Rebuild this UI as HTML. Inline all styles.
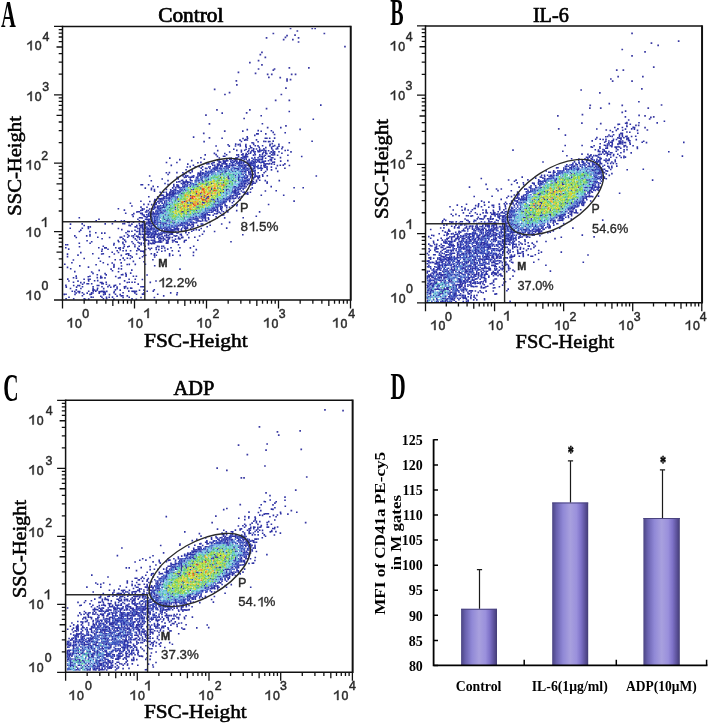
<!DOCTYPE html>
<html><head><meta charset="utf-8"><title>figure</title><style>
html,body{margin:0;padding:0;background:#fff;width:709px;height:724px;overflow:hidden}
svg{display:block}
</style></head><body>
<svg width="709" height="724" viewBox="0 0 709 724">
<rect width="709" height="724" fill="#fff"/>
<g opacity="0.999">
<text transform="translate(0.89,26.80) scale(0.537,1)" font-size="38.333333333333336" style="font-family:&quot;Liberation Serif&quot;,serif;font-weight:bold" fill="#000">A</text>
<text transform="translate(390.30,25.42) scale(0.541,1)" font-size="36.96969696969697" style="font-family:&quot;Liberation Serif&quot;,serif;font-weight:bold" fill="#000">B</text>
<text transform="translate(3.24,401.31) scale(0.542,1)" font-size="39.10447761194028" style="font-family:&quot;Liberation Serif&quot;,serif;font-weight:bold" fill="#000">C</text>
<text transform="translate(390.38,398.60) scale(0.552,1)" font-size="38.167938931297705" style="font-family:&quot;Liberation Serif&quot;,serif;font-weight:bold" fill="#000">D</text>
<defs><filter id="soft" x="0" y="0" width="1" height="1"><feGaussianBlur stdDeviation="0.35"/></filter></defs>
<g id="clouds" filter="url(#soft)">
<path d="M320.0 105.1h1.6M288.5 111.5h1.6M221.4 113.1h1.6M260.4 115.8h1.6M312.5 119.2h1.6M261.6 123.7h1.6M280.0 127.6h1.6M246.5 129.6h1.6M299.3 129.4h1.6M242.0 131.1h1.6M257.4 130.6h1.6M260.4 131.2h1.6M270.6 130.8h1.6M272.4 132.4h1.6M284.4 132.7h1.6M256.0 133.9h1.6M257.3 133.9h1.6M265.0 133.9h1.6M254.0 135.4h1.6M192.8 137.1h1.6M246.4 136.9h1.6M221.3 138.2h1.6M242.2 138.5h1.6M246.8 138.2h1.6M264.5 138.2h1.6M266.1 138.2h1.6M268.9 138.2h1.6M239.2 140.1h1.6M243.9 140.1h1.6M245.0 139.6h1.6M246.5 140.0h1.6M255.7 139.9h1.6M203.3 141.6h1.6M240.6 141.5h1.6M257.3 141.7h1.6M263.1 141.4h1.6M264.9 141.5h1.6M267.8 141.6h1.6M269.1 141.5h1.6M272.4 141.1h1.6M311.3 141.3h1.6M251.3 142.8h1.6M288.5 142.8h1.6M227.3 144.7h1.6M234.9 144.1h1.6M237.4 144.6h1.6M239.2 144.2h1.6M245.1 144.5h1.6M252.9 144.4h1.6M269.3 144.4h1.6M278.1 144.4h1.6M215.3 146.0h1.6M228.5 146.1h1.6M234.7 146.0h1.6M239.5 145.9h1.6M245.0 146.1h1.6M249.4 146.0h1.6M254.5 145.7h1.6M257.2 145.9h1.6M261.8 145.7h1.6M269.1 145.6h1.6M272.3 146.2h1.6M273.9 145.6h1.6M278.2 146.2h1.6M245.4 147.2h1.6M249.9 147.6h1.6M250.9 147.7h1.6M258.4 147.2h1.6M265.0 147.6h1.6M270.8 147.4h1.6M276.7 147.4h1.6M233.0 149.2h1.6M245.3 149.2h1.6M252.9 148.7h1.6M255.7 149.0h1.6M258.9 149.0h1.6M263.1 148.8h1.6M271.0 148.7h1.6M275.4 149.0h1.6M276.9 148.6h1.6M281.1 148.8h1.6M216.9 150.6h1.6M236.0 150.4h1.6M240.6 150.4h1.6M243.9 150.2h1.6M247.9 150.6h1.6M251.1 150.6h1.6M252.7 150.2h1.6M257.1 150.7h1.6M259.0 150.5h1.6M263.3 150.3h1.6M265.0 150.5h1.6M267.8 150.7h1.6M272.2 150.4h1.6M284.4 150.5h1.6M287.1 150.2h1.6M228.9 152.0h1.6M240.6 151.9h1.6M246.9 151.7h1.6M250.0 152.1h1.6M254.3 151.7h1.6M257.5 151.8h1.6M263.0 152.1h1.6M265.0 151.9h1.6M270.4 151.9h1.6M273.8 151.9h1.6M290.2 151.9h1.6M213.6 153.4h1.6M245.4 153.6h1.6M247.9 153.5h1.6M262.0 153.2h1.6M265.0 153.1h1.6M266.0 153.6h1.6M272.2 153.3h1.6M281.1 153.2h1.6M204.4 154.9h1.6M215.3 154.6h1.6M225.8 154.8h1.6M236.1 154.9h1.6M240.9 154.8h1.6M242.1 154.9h1.6M244.9 155.1h1.6M246.6 154.7h1.6M252.7 155.1h1.6M254.5 154.7h1.6M261.6 154.6h1.6M264.5 155.2h1.6M270.8 154.7h1.6M272.2 155.0h1.6M273.8 154.8h1.6M276.8 155.2h1.6M287.1 155.2h1.6M216.6 156.4h1.6M222.7 156.2h1.6M224.0 156.2h1.6M237.8 156.6h1.6M243.8 156.5h1.6M245.4 156.6h1.6M258.7 156.5h1.6M263.3 156.3h1.6M267.7 156.3h1.6M269.2 156.4h1.6M300.9 156.5h1.6M169.0 158.1h1.6M200.1 157.8h1.6M218.5 158.0h1.6M228.6 158.2h1.6M236.2 157.7h1.6M240.5 157.8h1.6M243.4 158.0h1.6M245.1 157.7h1.6M254.0 157.6h1.6M261.9 157.7h1.6M264.8 158.2h1.6M270.6 157.8h1.6M272.0 157.8h1.6M279.7 157.6h1.6M179.0 159.6h1.6M203.5 159.3h1.6M226.0 159.2h1.6M229.0 159.2h1.6M230.5 159.2h1.6M235.0 159.5h1.6M236.2 159.5h1.6M239.3 159.6h1.6M245.4 159.4h1.6M248.4 159.6h1.6M254.3 159.6h1.6M260.2 159.4h1.6M261.6 159.2h1.6M269.4 159.6h1.6M270.7 159.6h1.6M190.9 160.6h1.6M216.8 160.7h1.6M218.5 161.0h1.6M222.5 160.9h1.6M224.1 161.1h1.6M225.7 160.9h1.6M226.9 160.7h1.6M229.9 161.1h1.6M233.3 161.2h1.6M234.7 161.0h1.6M236.2 161.2h1.6M239.0 161.1h1.6M240.7 161.0h1.6M246.8 161.0h1.6M252.7 161.2h1.6M257.0 160.9h1.6M258.6 161.0h1.6M264.6 161.1h1.6M270.5 160.8h1.6M279.9 161.1h1.6M287.0 160.6h1.6M165.7 162.5h1.6M176.1 162.5h1.6M197.1 162.7h1.6M200.1 162.4h1.6M212.3 162.7h1.6M213.4 162.5h1.6M218.3 162.3h1.6M219.9 162.1h1.6M222.8 162.6h1.6M224.4 162.5h1.6M236.0 162.3h1.6M239.0 162.7h1.6M245.3 162.3h1.6M248.2 162.4h1.6M251.0 162.2h1.6M254.0 162.2h1.6M255.8 162.3h1.6M258.5 162.2h1.6M263.0 162.3h1.6M271.9 162.2h1.6M273.6 162.1h1.6M187.0 164.1h1.6M206.2 163.9h1.6M208.0 163.8h1.6M210.9 163.6h1.6M216.7 164.0h1.6M218.3 164.1h1.6M221.3 163.8h1.6M224.3 164.0h1.6M225.9 163.7h1.6M236.3 163.7h1.6M240.6 163.8h1.6M248.1 163.9h1.6M249.7 163.9h1.6M251.3 163.7h1.6M254.2 163.9h1.6M263.2 163.6h1.6M264.6 164.1h1.6M266.2 163.7h1.6M267.8 164.0h1.6M268.9 163.6h1.6M270.9 163.9h1.6M273.5 164.2h1.6M284.1 163.9h1.6M170.5 165.4h1.6M192.6 165.3h1.6M212.0 165.2h1.6M213.9 165.2h1.6M216.7 165.4h1.6M219.8 165.3h1.6M221.2 165.5h1.6M225.7 165.3h1.6M230.4 165.4h1.6M231.7 165.4h1.6M233.1 165.1h1.6M237.9 165.3h1.6M242.1 165.4h1.6M244.0 165.1h1.6M246.6 165.2h1.6M248.2 165.2h1.6M250.0 165.3h1.6M260.4 165.5h1.6M263.1 165.6h1.6M264.7 165.2h1.6M276.6 165.6h1.6M279.5 165.2h1.6M282.5 165.1h1.6M288.6 165.5h1.6M186.5 167.0h1.6M189.4 166.6h1.6M194.4 166.7h1.6M201.8 166.7h1.6M209.4 166.8h1.6M213.9 167.0h1.6M215.4 167.1h1.6M220.0 166.8h1.6M224.1 166.7h1.6M225.5 166.9h1.6M228.6 167.1h1.6M240.9 166.7h1.6M243.9 167.0h1.6M245.0 166.9h1.6M252.9 166.8h1.6M254.2 166.8h1.6M260.1 167.2h1.6M263.5 167.0h1.6M266.2 166.7h1.6M200.4 168.1h1.6M204.8 168.4h1.6M209.0 168.5h1.6M212.4 168.3h1.6M218.5 168.2h1.6M227.2 168.1h1.6M234.9 168.2h1.6M236.4 168.7h1.6M242.3 168.1h1.6M243.7 168.4h1.6M246.4 168.3h1.6M249.8 168.6h1.6M250.9 168.2h1.6M253.9 168.1h1.6M266.2 168.3h1.6M284.1 168.2h1.6M185.3 169.8h1.6M191.3 170.1h1.6M213.9 169.8h1.6M215.1 170.0h1.6M216.6 170.0h1.6M219.6 170.0h1.6M221.1 170.1h1.6M224.2 170.0h1.6M230.5 169.9h1.6M237.8 169.9h1.6M246.7 170.1h1.6M252.8 170.0h1.6M260.5 170.1h1.6M266.4 169.7h1.6M270.7 169.9h1.6M188.1 171.6h1.6M191.4 171.6h1.6M212.0 171.7h1.6M224.4 171.5h1.6M226.0 171.2h1.6M231.4 171.4h1.6M234.8 171.6h1.6M242.0 171.6h1.6M243.9 171.5h1.6M244.9 171.2h1.6M248.0 171.5h1.6M251.3 171.7h1.6M254.1 171.4h1.6M264.8 171.5h1.6M276.9 171.4h1.6M165.6 172.7h1.6M168.6 172.6h1.6M176.1 172.6h1.6M182.1 172.7h1.6M185.4 172.9h1.6M189.6 172.9h1.6M197.4 173.1h1.6M198.9 173.2h1.6M200.1 172.7h1.6M203.0 173.1h1.6M221.4 172.7h1.6M224.3 172.9h1.6M248.0 173.0h1.6M249.4 172.7h1.6M254.2 172.8h1.6M263.3 172.8h1.6M167.3 174.5h1.6M183.5 174.4h1.6M198.8 174.2h1.6M199.9 174.4h1.6M207.8 174.4h1.6M219.8 174.6h1.6M233.1 174.3h1.6M242.3 174.2h1.6M245.0 174.5h1.6M249.8 174.1h1.6M251.2 174.3h1.6M252.5 174.3h1.6M254.4 174.2h1.6M261.8 174.7h1.6M148.9 176.0h1.6M182.2 175.9h1.6M185.0 175.6h1.6M186.9 175.9h1.6M197.2 176.1h1.6M199.0 175.7h1.6M200.2 175.8h1.6M204.7 175.8h1.6M206.4 176.1h1.6M207.5 176.0h1.6M227.4 176.1h1.6M234.7 175.7h1.6M246.9 176.0h1.6M249.7 176.0h1.6M258.6 175.9h1.6M262.0 176.2h1.6M266.5 175.7h1.6M315.5 176.0h1.6M176.3 177.4h1.6M183.6 177.4h1.6M185.3 177.1h1.6M189.6 177.2h1.6M192.6 177.3h1.6M200.1 177.5h1.6M219.9 177.7h1.6M227.3 177.3h1.6M237.4 177.4h1.6M246.5 177.3h1.6M249.9 177.6h1.6M257.1 177.5h1.6M258.7 177.5h1.6M161.4 179.0h1.6M189.5 179.1h1.6M200.3 179.1h1.6M207.6 179.1h1.6M227.5 178.8h1.6M228.7 178.7h1.6M237.8 178.9h1.6M244.0 178.7h1.6M245.0 178.6h1.6M252.7 178.9h1.6M257.4 178.6h1.6M150.5 180.7h1.6M167.2 180.6h1.6M185.5 180.2h1.6M189.8 180.3h1.6M191.2 180.7h1.6M197.4 180.4h1.6M201.5 180.2h1.6M206.1 180.2h1.6M218.2 180.3h1.6M231.9 180.3h1.6M237.8 180.5h1.6M242.1 180.7h1.6M246.5 180.5h1.6M248.1 180.5h1.6M251.2 180.7h1.6M255.7 180.2h1.6M258.9 180.3h1.6M264.5 180.6h1.6M278.5 180.6h1.6M176.0 182.1h1.6M178.0 181.8h1.6M179.1 181.6h1.6M182.5 181.7h1.6M185.1 181.9h1.6M186.4 181.9h1.6M195.4 182.0h1.6M198.5 182.2h1.6M201.7 182.0h1.6M203.0 181.7h1.6M222.8 182.2h1.6M234.5 181.9h1.6M251.0 182.1h1.6M252.6 181.6h1.6M255.7 181.7h1.6M266.4 182.1h1.6M164.2 183.5h1.6M182.3 183.1h1.6M183.8 183.2h1.6M186.8 183.2h1.6M189.9 183.2h1.6M206.2 183.6h1.6M210.8 183.3h1.6M228.9 183.2h1.6M240.6 183.1h1.6M243.8 183.5h1.6M245.0 183.4h1.6M247.9 183.4h1.6M249.5 183.4h1.6M251.5 183.6h1.6M254.3 183.3h1.6M266.3 183.1h1.6M140.3 184.8h1.6M141.7 184.8h1.6M147.8 184.7h1.6M167.3 184.6h1.6M173.0 184.6h1.6M176.2 184.9h1.6M186.5 185.1h1.6M194.4 184.6h1.6M195.6 184.7h1.6M205.9 185.1h1.6M218.1 184.6h1.6M221.2 185.0h1.6M237.8 184.8h1.6M243.8 185.0h1.6M246.7 184.6h1.6M251.3 184.7h1.6M152.4 186.4h1.6M157.0 186.7h1.6M173.1 186.4h1.6M176.3 186.4h1.6M177.8 186.6h1.6M182.1 186.2h1.6M183.8 186.3h1.6M189.4 186.6h1.6M197.1 186.4h1.6M225.6 186.5h1.6M233.3 186.5h1.6M234.4 186.7h1.6M239.1 186.2h1.6M240.8 186.4h1.6M245.3 186.6h1.6M270.4 186.6h1.6M144.5 188.1h1.6M150.7 188.2h1.6M171.9 187.9h1.6M174.9 187.6h1.6M179.0 187.6h1.6M200.0 188.1h1.6M210.9 188.1h1.6M217.0 188.0h1.6M237.8 187.7h1.6M243.9 188.0h1.6M251.5 187.9h1.6M293.3 187.8h1.6M302.4 187.8h1.6M150.6 189.6h1.6M153.6 189.6h1.6M165.6 189.4h1.6M169.9 189.7h1.6M173.3 189.6h1.6M183.9 189.5h1.6M191.0 189.7h1.6M192.9 189.5h1.6M210.8 189.6h1.6M222.5 189.5h1.6M225.5 189.5h1.6M227.3 189.3h1.6M234.4 189.6h1.6M153.7 191.1h1.6M170.2 191.2h1.6M179.3 191.2h1.6M180.9 190.7h1.6M185.1 190.6h1.6M189.9 191.2h1.6M209.4 190.9h1.6M225.7 190.8h1.6M228.5 191.0h1.6M231.5 191.1h1.6M233.4 190.6h1.6M234.6 191.1h1.6M240.5 191.0h1.6M264.6 191.0h1.6M275.4 190.7h1.6M159.4 192.3h1.6M165.5 192.2h1.6M169.0 192.2h1.6M169.9 192.5h1.6M171.8 192.6h1.6M172.9 192.4h1.6M179.1 192.3h1.6M219.6 192.5h1.6M222.7 192.1h1.6M233.1 192.4h1.6M234.7 192.2h1.6M237.7 192.4h1.6M243.7 192.1h1.6M246.9 192.5h1.6M249.6 192.2h1.6M166.0 193.8h1.6M167.2 194.2h1.6M168.9 193.8h1.6M170.4 194.2h1.6M171.9 194.1h1.6M173.1 193.8h1.6M174.6 193.9h1.6M178.0 194.0h1.6M180.5 193.8h1.6M182.2 193.6h1.6M195.9 193.9h1.6M199.9 193.9h1.6M216.6 194.0h1.6M225.4 193.9h1.6M235.0 193.8h1.6M238.9 193.9h1.6M243.8 193.9h1.6M245.5 193.7h1.6M247.0 194.1h1.6M161.1 195.1h1.6M162.6 195.3h1.6M165.8 195.3h1.6M167.0 195.2h1.6M168.9 195.2h1.6M173.0 195.3h1.6M189.9 195.5h1.6M203.5 195.4h1.6M210.4 195.2h1.6M230.1 195.4h1.6M234.8 195.5h1.6M260.5 195.3h1.6M282.9 195.3h1.6M148.0 196.8h1.6M156.9 196.8h1.6M162.8 197.0h1.6M164.0 196.7h1.6M165.7 196.7h1.6M168.4 197.1h1.6M170.4 196.9h1.6M174.4 197.0h1.6M176.4 196.8h1.6M200.5 196.7h1.6M203.3 197.2h1.6M206.3 196.9h1.6M207.9 196.9h1.6M228.9 197.1h1.6M230.1 196.7h1.6M231.9 197.0h1.6M236.3 196.8h1.6M238.9 197.1h1.6M158.0 198.6h1.6M159.5 198.7h1.6M160.9 198.5h1.6M162.6 198.4h1.6M168.6 198.5h1.6M176.4 198.2h1.6M190.0 198.3h1.6M206.0 198.5h1.6M216.8 198.7h1.6M222.7 198.6h1.6M233.1 198.6h1.6M234.8 198.1h1.6M237.8 198.4h1.6M154.0 199.6h1.6M155.3 199.9h1.6M159.4 199.9h1.6M161.2 199.6h1.6M174.7 200.1h1.6M204.9 200.1h1.6M210.5 199.7h1.6M212.3 199.9h1.6M213.9 200.0h1.6M217.0 199.7h1.6M227.0 199.8h1.6M228.9 200.1h1.6M140.1 201.3h1.6M149.0 201.5h1.6M153.6 201.2h1.6M158.0 201.2h1.6M164.0 201.4h1.6M178.0 201.3h1.6M184.0 201.5h1.6M209.3 201.4h1.6M214.9 201.6h1.6M224.2 201.2h1.6M228.9 201.4h1.6M232.9 201.3h1.6M293.3 201.1h1.6M129.6 203.2h1.6M153.7 202.8h1.6M155.4 202.8h1.6M158.3 203.1h1.6M163.9 203.0h1.6M171.5 203.0h1.6M180.9 202.8h1.6M186.5 202.9h1.6M189.7 202.9h1.6M191.4 203.1h1.6M197.1 203.1h1.6M201.8 202.6h1.6M203.4 202.9h1.6M213.6 203.1h1.6M222.6 202.9h1.6M231.6 202.8h1.6M143.1 204.4h1.6M147.6 204.4h1.6M150.9 204.6h1.6M153.9 204.4h1.6M155.4 204.2h1.6M162.9 204.2h1.6M165.4 204.3h1.6M168.9 204.5h1.6M215.1 204.5h1.6M217.0 204.7h1.6M221.3 204.1h1.6M224.3 204.2h1.6M233.5 204.7h1.6M236.4 204.5h1.6M267.8 204.5h1.6M131.1 206.0h1.6M153.8 206.1h1.6M156.7 206.1h1.6M159.7 205.6h1.6M162.6 205.8h1.6M165.6 205.9h1.6M186.5 205.9h1.6M188.0 205.9h1.6M219.5 206.0h1.6M224.4 205.7h1.6M226.0 205.8h1.6M231.5 205.8h1.6M236.0 205.7h1.6M140.2 207.1h1.6M146.2 207.2h1.6M154.9 207.5h1.6M156.9 207.7h1.6M161.3 207.7h1.6M162.9 207.1h1.6M164.1 207.1h1.6M169.0 207.4h1.6M174.4 207.1h1.6M179.5 207.4h1.6M197.2 207.5h1.6M219.9 207.6h1.6M225.9 207.6h1.6M117.6 208.7h1.6M141.5 208.9h1.6M143.3 209.0h1.6M148.9 209.0h1.6M150.9 208.8h1.6M152.4 209.1h1.6M159.7 208.6h1.6M167.1 209.2h1.6M174.6 209.2h1.6M186.6 209.2h1.6M206.5 208.7h1.6M212.0 208.8h1.6M219.9 209.1h1.6M220.9 208.9h1.6M123.6 210.1h1.6M140.0 210.5h1.6M141.7 210.3h1.6M147.6 210.6h1.6M155.4 210.5h1.6M159.5 210.5h1.6M195.8 210.3h1.6M209.1 210.1h1.6M214.0 210.3h1.6M214.9 210.6h1.6M220.9 210.7h1.6M225.8 210.4h1.6M235.9 210.6h1.6M136.0 212.0h1.6M137.2 211.8h1.6M138.5 211.7h1.6M144.8 212.0h1.6M145.9 212.0h1.6M149.2 212.1h1.6M152.4 212.1h1.6M159.9 212.2h1.6M161.1 212.0h1.6M164.1 211.8h1.6M180.7 211.9h1.6M182.3 211.9h1.6M186.9 211.6h1.6M188.1 211.8h1.6M203.2 212.1h1.6M211.0 212.1h1.6M216.5 211.8h1.6M222.7 211.8h1.6M227.0 211.9h1.6M258.8 211.9h1.6M124.9 213.3h1.6M133.0 213.6h1.6M139.9 213.4h1.6M141.5 213.4h1.6M147.9 213.2h1.6M150.7 213.4h1.6M152.4 213.5h1.6M153.9 213.3h1.6M161.4 213.2h1.6M194.3 213.6h1.6M197.3 213.1h1.6M201.9 213.3h1.6M206.3 213.2h1.6M213.8 213.7h1.6M216.6 213.5h1.6M219.8 213.3h1.6M131.5 214.8h1.6M141.6 214.8h1.6M143.2 215.1h1.6M149.3 215.0h1.6M152.2 214.8h1.6M155.3 214.7h1.6M164.5 214.9h1.6M167.4 215.1h1.6M193.0 214.8h1.6M203.3 214.7h1.6M204.6 214.8h1.6M206.5 214.7h1.6M207.9 214.8h1.6M212.4 215.2h1.6M221.1 215.1h1.6M222.8 214.9h1.6M143.4 216.3h1.6M144.6 216.7h1.6M146.5 216.6h1.6M150.6 216.3h1.6M195.5 216.1h1.6M200.4 216.3h1.6M202.9 216.1h1.6M204.6 216.4h1.6M255.5 216.2h1.6M78.5 217.8h1.6M138.8 217.8h1.6M140.0 217.8h1.6M141.5 218.0h1.6M150.8 217.8h1.6M162.7 218.0h1.6M167.4 218.1h1.6M183.6 218.0h1.6M192.6 217.9h1.6M197.1 218.2h1.6M207.5 217.9h1.6M216.5 217.9h1.6M223.9 217.9h1.6M242.4 217.8h1.6M98.2 219.3h1.6M137.1 219.3h1.6M146.0 219.5h1.6M147.6 219.4h1.6M148.9 219.3h1.6M164.0 219.2h1.6M166.9 219.6h1.6M188.3 219.4h1.6M189.7 219.3h1.6M194.1 219.5h1.6M197.1 219.5h1.6M201.7 219.4h1.6M204.6 219.1h1.6M207.9 219.4h1.6M95.4 220.9h1.6M114.5 220.9h1.6M120.6 221.0h1.6M138.6 220.8h1.6M147.7 220.7h1.6M149.3 221.2h1.6M153.9 220.9h1.6M155.1 220.9h1.6M165.6 220.8h1.6M167.1 220.9h1.6M171.8 220.8h1.6M197.1 221.0h1.6M198.7 221.0h1.6M200.1 221.2h1.6M201.9 220.8h1.6M204.5 220.8h1.6M205.9 221.0h1.6M126.9 222.1h1.6M128.4 222.4h1.6M132.7 222.3h1.6M141.8 222.3h1.6M143.1 222.7h1.6M146.1 222.2h1.6M147.8 222.3h1.6M149.3 222.5h1.6M152.0 222.4h1.6M153.5 222.5h1.6M159.8 222.4h1.6M173.4 222.5h1.6M180.7 222.7h1.6M183.7 222.2h1.6M195.8 222.6h1.6M208.9 222.4h1.6M228.8 222.4h1.6M69.7 224.1h1.6M81.4 223.9h1.6M104.4 223.9h1.6M111.6 223.8h1.6M122.1 223.7h1.6M123.8 223.6h1.6M131.1 224.1h1.6M138.5 223.6h1.6M143.3 223.9h1.6M144.9 224.1h1.6M146.1 223.6h1.6M149.0 223.7h1.6M150.5 223.7h1.6M159.7 224.2h1.6M162.5 224.0h1.6M164.3 223.8h1.6M165.4 224.0h1.6M168.7 224.2h1.6M176.2 224.0h1.6M179.3 224.2h1.6M182.0 223.7h1.6M186.5 223.9h1.6M188.4 224.1h1.6M191.3 224.1h1.6M192.5 224.0h1.6M200.4 224.0h1.6M83.4 225.5h1.6M128.3 225.4h1.6M138.9 225.6h1.6M140.3 225.2h1.6M141.4 225.5h1.6M143.3 225.6h1.6M144.5 225.2h1.6M149.0 225.6h1.6M154.0 225.6h1.6M162.6 225.4h1.6M177.9 225.7h1.6M189.8 225.4h1.6M192.5 225.2h1.6M197.0 225.5h1.6M201.9 225.5h1.6M209.4 225.3h1.6M87.5 226.9h1.6M89.5 226.9h1.6M134.4 226.9h1.6M135.8 227.0h1.6M140.0 227.0h1.6M141.7 227.1h1.6M150.7 226.7h1.6M164.2 227.2h1.6M176.2 226.9h1.6M186.6 227.0h1.6M192.6 226.8h1.6M206.4 226.8h1.6M69.4 228.3h1.6M81.5 228.3h1.6M87.6 228.5h1.6M117.6 228.5h1.6M137.1 228.5h1.6M139.0 228.4h1.6M141.6 228.1h1.6M144.7 228.5h1.6M149.4 228.5h1.6M150.6 228.2h1.6M152.3 228.4h1.6M162.7 228.2h1.6M165.9 228.6h1.6M170.0 228.5h1.6M174.6 228.7h1.6M176.2 228.4h1.6M177.8 228.5h1.6M183.8 228.5h1.6M185.4 228.2h1.6M186.8 228.3h1.6M189.8 228.6h1.6M200.4 228.5h1.6M225.9 228.1h1.6M80.0 230.1h1.6M121.0 229.6h1.6M134.2 230.2h1.6M138.9 230.1h1.6M141.7 230.0h1.6M143.1 229.6h1.6M146.3 229.7h1.6M152.3 229.7h1.6M155.3 230.0h1.6M161.3 229.6h1.6M164.1 229.7h1.6M165.8 230.0h1.6M167.4 230.0h1.6M170.1 229.8h1.6M171.6 229.9h1.6M173.3 229.9h1.6M176.3 229.7h1.6M177.6 230.1h1.6M180.5 229.9h1.6M185.0 229.9h1.6M192.8 230.1h1.6M195.5 229.6h1.6M198.4 230.1h1.6M78.6 231.5h1.6M89.1 231.6h1.6M127.0 231.4h1.6M128.4 231.5h1.6M131.1 231.3h1.6M135.8 231.5h1.6M137.0 231.5h1.6M146.3 231.5h1.6M147.5 231.3h1.6M149.1 231.2h1.6M153.5 231.5h1.6M155.0 231.4h1.6M161.1 231.2h1.6M162.9 231.6h1.6M164.1 231.1h1.6M167.0 231.3h1.6M168.5 231.2h1.6M170.0 231.4h1.6M171.6 231.4h1.6M173.1 231.5h1.6M181.0 231.2h1.6M185.2 231.6h1.6M191.0 231.2h1.6M203.3 231.4h1.6M213.8 231.5h1.6M95.0 232.7h1.6M104.0 233.1h1.6M125.2 232.8h1.6M145.0 233.2h1.6M152.2 233.1h1.6M155.0 233.0h1.6M164.1 232.9h1.6M168.4 232.7h1.6M170.1 232.7h1.6M171.5 233.0h1.6M177.6 232.7h1.6M188.0 232.8h1.6M89.2 234.5h1.6M126.8 234.5h1.6M134.0 234.2h1.6M139.9 234.4h1.6M141.9 234.3h1.6M143.2 234.6h1.6M146.1 234.1h1.6M147.6 234.6h1.6M151.0 234.3h1.6M154.0 234.5h1.6M155.2 234.4h1.6M156.6 234.3h1.6M158.4 234.3h1.6M159.8 234.7h1.6M161.0 234.4h1.6M165.8 234.6h1.6M170.2 234.1h1.6M171.7 234.1h1.6M179.5 234.5h1.6M180.5 234.2h1.6M186.6 234.7h1.6M201.7 234.2h1.6M242.0 234.7h1.6M74.0 235.9h1.6M85.9 235.9h1.6M89.2 236.0h1.6M123.5 236.0h1.6M128.1 235.9h1.6M131.1 236.0h1.6M132.8 235.7h1.6M135.7 236.1h1.6M137.4 236.2h1.6M143.1 235.8h1.6M147.4 236.0h1.6M150.6 235.6h1.6M152.5 236.1h1.6M153.9 235.9h1.6M165.5 235.7h1.6M174.7 236.1h1.6M176.0 235.7h1.6M180.7 235.8h1.6M198.8 236.0h1.6M75.5 237.5h1.6M97.0 237.3h1.6M108.8 237.5h1.6M119.4 237.4h1.6M120.9 237.2h1.6M126.9 237.2h1.6M132.7 237.5h1.6M137.1 237.5h1.6M141.6 237.4h1.6M143.1 237.2h1.6M146.4 237.2h1.6M149.4 237.1h1.6M150.7 237.6h1.6M152.2 237.3h1.6M153.4 237.5h1.6M158.4 237.5h1.6M162.5 237.4h1.6M165.7 237.5h1.6M167.3 237.5h1.6M169.0 237.4h1.6M171.5 237.5h1.6M177.9 237.3h1.6M180.9 237.7h1.6M182.0 237.4h1.6M188.0 237.6h1.6M194.0 237.2h1.6M101.3 238.7h1.6M122.3 238.9h1.6M138.9 239.1h1.6M143.0 238.7h1.6M144.5 239.0h1.6M153.8 238.7h1.6M159.4 238.7h1.6M161.0 238.7h1.6M162.9 238.8h1.6M167.5 239.2h1.6M168.5 238.8h1.6M174.7 239.1h1.6M177.6 238.8h1.6M179.1 238.9h1.6M86.3 240.7h1.6M117.4 240.6h1.6M123.9 240.1h1.6M135.9 240.2h1.6M143.2 240.1h1.6M144.5 240.4h1.6M146.0 240.1h1.6M147.9 240.5h1.6M150.5 240.2h1.6M152.2 240.3h1.6M153.9 240.5h1.6M159.9 240.5h1.6M162.5 240.5h1.6M165.5 240.5h1.6M167.2 240.2h1.6M171.7 240.3h1.6M173.4 240.6h1.6M183.8 240.5h1.6M185.3 240.2h1.6M197.0 240.2h1.6M90.9 241.7h1.6M118.0 241.7h1.6M122.1 242.2h1.6M124.9 241.6h1.6M131.2 241.8h1.6M137.3 242.2h1.6M148.0 241.7h1.6M152.2 242.1h1.6M155.0 242.1h1.6M158.0 241.9h1.6M159.6 242.1h1.6M160.9 242.0h1.6M166.0 242.2h1.6M167.3 241.7h1.6M171.9 242.0h1.6M175.0 241.8h1.6M176.4 242.1h1.6M183.5 241.9h1.6M230.2 241.7h1.6M78.5 243.3h1.6M89.3 243.2h1.6M113.3 243.5h1.6M132.5 243.5h1.6M140.5 243.1h1.6M147.5 243.5h1.6M149.4 243.2h1.6M150.7 243.6h1.6M152.4 243.4h1.6M153.7 243.5h1.6M165.6 243.3h1.6M167.0 243.3h1.6M65.0 244.8h1.6M66.8 244.7h1.6M113.0 245.0h1.6M123.5 244.7h1.6M134.1 245.0h1.6M140.3 244.8h1.6M147.7 244.8h1.6M177.7 244.7h1.6M78.7 246.7h1.6M102.5 246.3h1.6M127.0 246.7h1.6M128.4 246.3h1.6M134.1 246.7h1.6M138.4 246.3h1.6M144.4 246.2h1.6M158.2 246.6h1.6M161.1 246.2h1.6M192.9 246.3h1.6M65.0 247.7h1.6M98.0 247.8h1.6M104.0 247.9h1.6M105.4 247.9h1.6M115.0 247.8h1.6M118.0 248.2h1.6M119.5 247.7h1.6M122.5 248.1h1.6M137.0 248.2h1.6M147.9 248.2h1.6M150.7 248.2h1.6M161.0 248.2h1.6M163.9 248.0h1.6M170.2 247.7h1.6M179.1 247.8h1.6M189.6 247.9h1.6M67.9 249.1h1.6M101.4 249.4h1.6M107.2 249.3h1.6M119.4 249.6h1.6M138.5 249.6h1.6M149.3 249.4h1.6M155.5 249.4h1.6M158.0 249.6h1.6M166.9 249.1h1.6M195.5 249.6h1.6M101.0 251.2h1.6M116.4 250.8h1.6M122.3 250.8h1.6M125.4 250.6h1.6M129.8 250.8h1.6M136.0 250.7h1.6M140.1 251.1h1.6M141.8 251.2h1.6M143.4 251.1h1.6M161.0 251.2h1.6M164.3 250.6h1.6M171.5 250.7h1.6M177.9 251.1h1.6M80.0 252.6h1.6M111.4 252.2h1.6M117.7 252.5h1.6M143.3 252.6h1.6M156.5 252.2h1.6M192.7 252.4h1.6M66.7 254.1h1.6M92.0 253.8h1.6M100.9 254.0h1.6M102.5 253.7h1.6M113.5 254.0h1.6M125.3 254.2h1.6M126.4 253.7h1.6M127.9 253.8h1.6M135.8 254.0h1.6M150.5 253.8h1.6M153.8 253.7h1.6M168.8 253.9h1.6M77.2 255.1h1.6M120.5 255.4h1.6M127.9 255.2h1.6M129.8 255.7h1.6M143.1 255.5h1.6M144.9 255.3h1.6M153.5 255.1h1.6M155.5 255.2h1.6M168.8 255.6h1.6M172.0 255.2h1.6M179.4 255.4h1.6M192.6 255.5h1.6M66.7 256.6h1.6M108.6 256.7h1.6M131.4 257.1h1.6M141.7 256.8h1.6M153.9 257.0h1.6M83.4 258.5h1.6M97.9 258.3h1.6M122.4 258.1h1.6M126.6 258.3h1.6M129.5 258.5h1.6M138.9 258.2h1.6M72.6 260.0h1.6M114.4 259.7h1.6M119.4 259.8h1.6M123.7 260.0h1.6M152.1 259.8h1.6M99.6 261.3h1.6M132.6 261.4h1.6M143.2 261.7h1.6M71.1 262.7h1.6M102.5 262.7h1.6M111.4 263.0h1.6M120.4 262.9h1.6M64.0 264.2h1.6M95.3 264.7h1.6M107.0 264.5h1.6M113.2 264.6h1.6M126.4 264.5h1.6M128.5 264.4h1.6M134.5 264.4h1.6M144.6 264.2h1.6M79.0 265.9h1.6M113.2 266.1h1.6M120.7 266.0h1.6M153.9 265.7h1.6M66.7 267.4h1.6M87.7 267.1h1.6M113.1 267.3h1.6M69.9 268.7h1.6M110.3 269.1h1.6M120.6 268.9h1.6M179.2 269.1h1.6M98.4 270.4h1.6M131.0 270.1h1.6M74.0 271.6h1.6M90.9 272.0h1.6M117.7 271.7h1.6M92.2 273.4h1.6M124.9 273.4h1.6M129.9 273.1h1.6M96.5 274.8h1.6M105.4 274.9h1.6M120.7 274.7h1.6M122.0 274.6h1.6M125.4 274.7h1.6M146.3 275.0h1.6M75.4 276.1h1.6M87.5 276.7h1.6M89.2 276.3h1.6M100.0 276.2h1.6M114.9 276.5h1.6M125.3 276.3h1.6M132.6 276.3h1.6M135.6 276.3h1.6M72.7 277.7h1.6M75.6 278.1h1.6M96.5 277.6h1.6M99.9 277.9h1.6M101.1 277.6h1.6M104.2 277.9h1.6M117.7 278.0h1.6M119.3 277.6h1.6M67.0 279.1h1.6M83.3 279.2h1.6M87.6 279.4h1.6M89.3 279.3h1.6M128.3 279.3h1.6M134.5 279.3h1.6M141.6 279.5h1.6M68.1 281.0h1.6M77.2 281.1h1.6M87.9 281.0h1.6M93.8 280.8h1.6M96.9 280.6h1.6M123.8 280.9h1.6M155.2 281.0h1.6M72.7 282.2h1.6M80.0 282.6h1.6M83.4 282.6h1.6M99.6 282.5h1.6M101.2 282.5h1.6M105.4 282.2h1.6M126.5 282.5h1.6M128.4 282.2h1.6M131.3 282.3h1.6M134.0 282.2h1.6M149.5 282.4h1.6M81.8 284.2h1.6M86.3 283.7h1.6M87.7 283.8h1.6M90.9 283.8h1.6M101.1 283.6h1.6M102.4 283.6h1.6M105.6 284.2h1.6M119.1 284.0h1.6M137.4 284.1h1.6M65.1 285.4h1.6M72.9 285.5h1.6M77.1 285.5h1.6M78.8 285.6h1.6M96.5 285.5h1.6M98.0 285.5h1.6M108.6 285.4h1.6M113.4 285.6h1.6M114.8 285.2h1.6M65.5 287.1h1.6M75.8 287.1h1.6M92.3 286.8h1.6M101.2 286.8h1.6M107.1 286.6h1.6M110.0 287.2h1.6M113.1 286.8h1.6M116.3 287.1h1.6M123.6 286.8h1.6M125.0 286.6h1.6M140.2 286.7h1.6M141.9 286.7h1.6M143.1 286.7h1.6M69.7 288.5h1.6M80.1 288.5h1.6M92.3 288.6h1.6M96.8 288.3h1.6M102.9 288.6h1.6M116.3 288.7h1.6M123.8 288.2h1.6M129.9 288.1h1.6M130.9 288.2h1.6M75.5 289.9h1.6M92.1 290.2h1.6M93.7 290.0h1.6M96.5 289.9h1.6M114.6 289.9h1.6M119.4 290.1h1.6M138.7 290.2h1.6M143.1 290.1h1.6M153.5 289.7h1.6M74.0 291.6h1.6M77.3 291.6h1.6M78.9 291.5h1.6M87.9 291.3h1.6M92.5 291.3h1.6M95.0 291.1h1.6M98.4 291.7h1.6M99.6 291.6h1.6M101.0 291.4h1.6M102.5 291.3h1.6M104.0 291.5h1.6M128.0 291.1h1.6M131.3 291.2h1.6M132.7 291.4h1.6M133.9 291.4h1.6M135.6 291.4h1.6M146.4 291.3h1.6M152.5 291.1h1.6M75.4 293.0h1.6M78.6 292.8h1.6M81.6 292.7h1.6M86.4 293.1h1.6M90.8 292.7h1.6M98.4 293.1h1.6M102.8 292.7h1.6M104.3 292.9h1.6M113.2 292.8h1.6M122.3 292.7h1.6M134.1 292.9h1.6M169.9 292.9h1.6M176.5 292.8h1.6M65.2 294.2h1.6M83.1 294.2h1.6M89.2 294.4h1.6M90.6 294.2h1.6M104.4 294.3h1.6M108.7 294.6h1.6M114.7 294.2h1.6M119.4 294.6h1.6M135.7 294.2h1.6M141.7 294.1h1.6M143.0 294.2h1.6M156.9 294.3h1.6M176.1 294.6h1.6M81.6 295.8h1.6M100.0 296.2h1.6M120.5 295.9h1.6M122.1 295.7h1.6M126.5 295.9h1.6M162.9 295.9h1.6M68.2 297.3h1.6M92.3 297.2h1.6M108.4 297.3h1.6M111.7 297.1h1.6M122.3 297.5h1.6M128.4 297.2h1.6M140.2 297.5h1.6M153.6 297.5h1.6M65.3 298.8h1.6M72.9 298.8h1.6M83.4 298.7h1.6M84.5 299.2h1.6M87.9 299.1h1.6M102.6 298.8h1.6M105.8 298.8h1.6M113.1 299.1h1.6M131.2 298.9h1.6M135.5 299.2h1.6" stroke="#2e32a4" stroke-width="1.6" fill="none"/>
<path d="M273.8 138.1h1.6M252.6 143.0h1.6M248.3 148.7h1.6M272.4 152.1h1.6M278.2 151.8h1.6M224.0 153.5h1.6M242.2 153.7h1.6M273.7 153.2h1.6M273.9 159.2h1.6M198.4 166.7h1.6M270.6 167.1h1.6M275.3 168.4h1.6M177.4 178.9h1.6M180.8 180.5h1.6M253.0 183.3h1.6M249.9 184.7h1.6M249.9 189.3h1.6M163.0 192.2h1.6M159.9 195.4h1.6M240.9 196.6h1.6M239.1 200.1h1.6M228.8 207.4h1.6M145.9 210.6h1.6M132.4 216.4h1.6M215.3 216.7h1.6M123.5 220.8h1.6M201.8 224.0h1.6M220.9 224.0h1.6M129.6 225.6h1.6M136.0 225.6h1.6M191.2 227.1h1.6M101.0 233.1h1.6M185.0 232.8h1.6M134.5 238.9h1.6M122.2 243.5h1.6M138.6 243.1h1.6M143.0 243.2h1.6M123.5 246.5h1.6M156.7 246.4h1.6M162.8 246.4h1.6M155.4 247.8h1.6M137.5 249.5h1.6M144.9 249.5h1.6M117.9 268.6h1.6M111.7 270.7h1.6M104.3 273.6h1.6M81.7 286.8h1.6M126.8 288.4h1.6M71.5 291.2h1.6M106.0 291.4h1.6M113.5 291.5h1.6M92.2 293.0h1.6M143.1 293.0h1.6M63.4 294.4h1.6M74.2 294.4h1.6M102.8 294.6h1.6M116.3 296.1h1.6M90.4 297.1h1.6M101.2 297.2h1.6M105.7 297.4h1.6" stroke="#2e34a7" stroke-width="1.6" fill="none"/>
<path d="M260.3 150.6h1.6M261.6 150.3h1.6M253.0 151.7h1.6M258.8 151.8h1.6M249.7 153.3h1.6M254.0 153.3h1.6M269.2 153.3h1.6M237.6 154.9h1.6M259.0 154.9h1.6M242.3 156.6h1.6M246.8 156.7h1.6M260.3 156.6h1.6M261.5 156.6h1.6M230.4 158.1h1.6M235.0 158.1h1.6M242.1 158.1h1.6M233.4 159.5h1.6M240.6 159.3h1.6M258.6 159.3h1.6M231.6 160.8h1.6M254.5 161.1h1.6M263.1 161.2h1.6M267.7 160.7h1.6M222.5 163.6h1.6M218.0 165.5h1.6M208.0 167.0h1.6M264.4 167.1h1.6M206.1 168.5h1.6M258.7 168.2h1.6M260.4 168.2h1.6M261.5 168.5h1.6M201.9 169.9h1.6M204.9 171.4h1.6M257.4 172.7h1.6M191.5 176.2h1.6M193.0 175.9h1.6M254.2 175.8h1.6M255.6 176.1h1.6M257.0 176.2h1.6M188.2 177.2h1.6M191.0 177.2h1.6M252.9 177.5h1.6M254.1 177.1h1.6M181.9 180.4h1.6M184.0 182.1h1.6M249.6 181.9h1.6M180.6 183.5h1.6M177.5 185.2h1.6M243.7 186.2h1.6M174.9 189.4h1.6M242.4 189.5h1.6M171.7 190.9h1.6M172.9 191.1h1.6M242.3 192.2h1.6M237.9 194.2h1.6M236.3 195.6h1.6M156.9 201.6h1.6M161.0 201.4h1.6M152.2 207.2h1.6M153.9 207.2h1.6M221.3 207.3h1.6M216.6 208.7h1.6M217.0 210.2h1.6M218.3 212.1h1.6M149.5 213.4h1.6M215.5 213.7h1.6M145.9 214.8h1.6M146.0 217.8h1.6M203.2 217.9h1.6M204.8 217.9h1.6M144.7 219.2h1.6M142.9 220.8h1.6M192.5 222.2h1.6M141.6 224.2h1.6M144.5 227.1h1.6M184.0 227.0h1.6M143.2 228.1h1.6M138.9 231.5h1.6M141.6 231.7h1.6M143.1 231.4h1.6M175.0 231.6h1.6M138.9 233.1h1.6M161.3 233.1h1.6M176.3 233.1h1.6M138.4 234.2h1.6M168.7 234.6h1.6M156.8 236.1h1.6M158.2 235.7h1.6M161.3 236.2h1.6M164.0 235.6h1.6M167.4 235.7h1.6M173.3 235.7h1.6M138.9 237.2h1.6M147.9 237.5h1.6M158.0 238.8h1.6M164.1 239.2h1.6M158.5 240.5h1.6M153.7 241.9h1.6M156.5 242.0h1.6M143.5 245.0h1.6" stroke="#2f38ac" stroke-width="1.6" fill="none"/>
<path d="M257.3 157.8h1.6M243.4 159.7h1.6M252.6 159.3h1.6M255.5 159.7h1.6M248.5 160.7h1.6M251.3 160.9h1.6M261.5 161.1h1.6M230.5 162.4h1.6M231.8 162.7h1.6M233.1 162.3h1.6M237.5 162.6h1.6M240.5 162.1h1.6M242.4 162.1h1.6M260.1 162.6h1.6M261.7 162.2h1.6M228.9 163.9h1.6M231.8 164.2h1.6M252.6 163.9h1.6M254.3 165.2h1.6M257.4 165.6h1.6M216.8 166.8h1.6M221.4 166.7h1.6M248.3 166.8h1.6M256.9 166.9h1.6M213.6 168.4h1.6M215.3 168.2h1.6M216.5 168.2h1.6M210.5 170.1h1.6M251.4 169.9h1.6M254.4 170.2h1.6M199.9 171.2h1.6M205.9 171.5h1.6M209.4 171.6h1.6M249.7 171.1h1.6M252.7 171.3h1.6M201.8 172.8h1.6M206.4 172.9h1.6M197.1 174.6h1.6M201.6 174.2h1.6M251.0 175.6h1.6M248.3 179.1h1.6M188.0 182.1h1.6M189.7 182.2h1.6M245.0 181.7h1.6M246.8 182.0h1.6M182.1 184.8h1.6M184.0 185.0h1.6M185.0 184.6h1.6M242.0 185.1h1.6M242.2 186.3h1.6M177.5 187.7h1.6M239.4 188.2h1.6M240.6 188.0h1.6M237.6 189.2h1.6M239.3 189.2h1.6M174.6 190.6h1.6M237.8 191.0h1.6M174.5 192.6h1.6M236.3 192.6h1.6M236.2 194.2h1.6M232.0 195.7h1.6M233.0 195.4h1.6M164.0 198.4h1.6M165.9 198.1h1.6M231.8 198.4h1.6M162.6 200.0h1.6M159.7 201.6h1.6M161.4 203.1h1.6M219.6 204.4h1.6M158.2 206.1h1.6M215.1 206.0h1.6M221.0 206.2h1.6M215.4 207.3h1.6M216.9 207.3h1.6M153.7 208.7h1.6M150.9 210.6h1.6M155.1 211.7h1.6M212.2 211.6h1.6M155.3 213.6h1.6M147.6 214.7h1.6M208.9 215.1h1.6M147.7 216.2h1.6M149.1 216.3h1.6M155.0 216.3h1.6M195.5 220.6h1.6M191.0 222.5h1.6M147.7 225.5h1.6M180.5 225.3h1.6M182.0 225.4h1.6M183.8 225.6h1.6M186.7 225.2h1.6M188.1 225.3h1.6M146.1 227.0h1.6M149.2 226.8h1.6M185.0 227.1h1.6M146.4 228.4h1.6M147.5 228.2h1.6M180.9 228.5h1.6M147.9 229.7h1.6M149.3 229.7h1.6M150.4 229.6h1.6M145.0 231.3h1.6M146.4 232.7h1.6M147.6 232.9h1.6M149.4 232.8h1.6M151.0 233.0h1.6M153.6 233.0h1.6M159.8 233.0h1.6M165.7 232.7h1.6M167.1 232.8h1.6M144.4 234.3h1.6M149.0 234.2h1.6M152.2 234.4h1.6M149.4 236.2h1.6M156.5 237.2h1.6M159.8 237.4h1.6" stroke="#2f3cb2" stroke-width="1.6" fill="none"/>
<path d="M251.2 158.1h1.6M257.2 159.5h1.6M246.6 162.4h1.6M249.7 162.4h1.6M252.7 162.5h1.6M237.9 163.8h1.6M239.1 163.6h1.6M242.5 163.8h1.6M246.8 163.6h1.6M227.0 165.5h1.6M228.8 165.6h1.6M234.7 165.5h1.6M238.9 165.4h1.6M240.5 165.7h1.6M245.1 165.1h1.6M251.4 165.3h1.6M253.0 165.7h1.6M227.2 166.8h1.6M255.9 166.8h1.6M233.4 168.2h1.6M237.8 168.5h1.6M248.2 168.6h1.6M252.5 168.5h1.6M257.3 168.4h1.6M248.1 169.6h1.6M205.0 173.2h1.6M210.4 172.8h1.6M237.9 174.1h1.6M248.4 174.5h1.6M203.5 176.1h1.6M243.6 176.1h1.6M195.7 177.3h1.6M197.0 177.6h1.6M245.5 177.7h1.6M195.4 179.0h1.6M197.1 178.7h1.6M246.6 179.2h1.6M243.8 180.5h1.6M245.4 180.5h1.6M242.5 181.8h1.6M243.6 181.9h1.6M239.1 183.5h1.6M242.1 183.4h1.6M239.0 185.1h1.6M180.5 187.8h1.6M236.1 187.7h1.6M242.4 188.2h1.6M179.3 189.4h1.6M176.4 190.8h1.6M177.9 191.1h1.6M236.1 190.8h1.6M170.2 195.4h1.6M172.0 195.2h1.6M167.3 198.1h1.6M227.4 198.2h1.6M229.0 198.5h1.6M230.0 198.6h1.6M165.4 200.2h1.6M167.4 200.0h1.6M225.5 199.9h1.6M223.0 201.4h1.6M225.5 201.7h1.6M219.7 202.8h1.6M223.9 202.6h1.6M218.1 205.9h1.6M158.1 207.1h1.6M212.3 207.6h1.6M156.9 208.8h1.6M158.3 208.6h1.6M213.4 208.7h1.6M214.9 209.2h1.6M158.2 210.4h1.6M210.4 210.2h1.6M212.4 210.4h1.6M156.6 211.8h1.6M209.1 212.2h1.6M156.8 213.3h1.6M158.2 213.6h1.6M150.7 214.7h1.6M153.8 216.6h1.6M153.9 218.1h1.6M156.5 217.9h1.6M194.4 218.1h1.6M195.8 218.1h1.6M200.5 218.0h1.6M201.9 217.6h1.6M154.0 219.1h1.6M151.0 220.8h1.6M155.0 222.5h1.6M158.2 222.2h1.6M185.3 222.5h1.6M189.6 222.5h1.6M194.1 222.7h1.6M147.4 223.9h1.6M153.6 223.9h1.6M155.4 224.2h1.6M172.9 223.7h1.6M181.0 223.6h1.6M185.1 223.9h1.6M151.0 225.2h1.6M152.4 225.3h1.6M179.4 225.6h1.6M171.6 227.0h1.6M173.3 227.1h1.6M155.4 228.4h1.6M173.5 228.2h1.6M156.9 230.0h1.6M158.3 230.0h1.6M174.6 229.8h1.6M152.3 231.4h1.6M156.8 231.3h1.6M165.9 231.3h1.6M157.9 233.2h1.6M162.8 232.8h1.6" stroke="#3040b7" stroke-width="1.6" fill="none"/>
<path d="M243.8 162.4h1.6M234.6 163.6h1.6M239.1 166.7h1.6M242.2 166.9h1.6M249.9 166.9h1.6M219.6 168.1h1.6M220.9 168.7h1.6M225.6 168.5h1.6M245.4 168.7h1.6M212.2 169.6h1.6M236.4 170.1h1.6M243.7 169.6h1.6M245.1 170.2h1.6M208.0 171.4h1.6M211.0 171.6h1.6M213.5 171.4h1.6M239.2 171.7h1.6M240.6 171.1h1.6M207.5 172.7h1.6M245.0 172.6h1.6M203.5 174.2h1.6M204.7 174.3h1.6M245.4 175.8h1.6M240.9 177.7h1.6M242.4 177.2h1.6M244.0 177.6h1.6M241.9 179.1h1.6M194.4 180.6h1.6M240.8 181.8h1.6M240.7 184.7h1.6M185.3 186.4h1.6M186.6 186.5h1.6M182.3 187.7h1.6M183.9 187.7h1.6M236.4 189.1h1.6M182.5 190.9h1.6M176.4 192.6h1.6M233.5 193.8h1.6M171.6 196.7h1.6M173.2 196.7h1.6M225.8 198.6h1.6M224.3 199.8h1.6M168.7 201.2h1.6M221.2 202.6h1.6M167.0 204.6h1.6M218.2 204.4h1.6M210.7 209.0h1.6M162.6 210.6h1.6M164.4 210.1h1.6M206.0 212.1h1.6M207.9 212.2h1.6M204.9 213.3h1.6M153.6 214.7h1.6M156.8 214.6h1.6M158.0 214.9h1.6M201.7 214.8h1.6M152.5 216.2h1.6M156.5 216.7h1.6M158.3 216.4h1.6M162.7 216.6h1.6M201.9 216.4h1.6M152.0 218.0h1.6M158.5 217.7h1.6M198.9 217.7h1.6M150.7 219.2h1.6M151.9 219.4h1.6M192.6 219.2h1.6M195.7 219.6h1.6M152.0 221.1h1.6M185.0 220.9h1.6M189.7 221.1h1.6M190.9 221.0h1.6M156.7 222.4h1.6M177.6 222.5h1.6M186.7 222.5h1.6M156.9 224.1h1.6M161.2 224.1h1.6M183.5 223.6h1.6M176.2 225.7h1.6M153.5 226.9h1.6M155.0 227.1h1.6M160.0 226.7h1.6M165.5 227.0h1.6M167.5 226.9h1.6M168.5 226.9h1.6M182.1 227.1h1.6M153.4 228.7h1.6M158.1 228.1h1.6M159.4 228.3h1.6M161.0 228.3h1.6M164.2 228.6h1.6M167.0 228.1h1.6M169.0 228.2h1.6M153.7 229.8h1.6M168.5 230.1h1.6" stroke="#3a52c0" stroke-width="1.6" fill="none"/>
<path d="M231.6 166.9h1.6M233.1 167.2h1.6M237.9 167.0h1.6M223.0 168.3h1.6M223.9 168.5h1.6M230.5 168.6h1.6M239.5 168.1h1.6M218.2 170.2h1.6M227.4 169.9h1.6M233.4 169.8h1.6M240.9 169.7h1.6M242.5 169.9h1.6M217.0 171.3h1.6M218.2 171.3h1.6M228.8 171.6h1.6M208.9 173.1h1.6M212.0 173.0h1.6M219.9 172.7h1.6M240.4 173.1h1.6M206.0 174.2h1.6M210.8 174.2h1.6M215.0 174.7h1.6M241.0 174.3h1.6M201.6 176.2h1.6M237.8 175.9h1.6M239.0 176.0h1.6M201.8 177.1h1.6M206.0 177.3h1.6M239.0 177.3h1.6M201.5 178.8h1.6M204.7 179.0h1.6M195.9 180.2h1.6M198.8 180.1h1.6M239.2 180.2h1.6M194.5 182.1h1.6M239.1 181.7h1.6M191.4 183.2h1.6M192.6 183.7h1.6M188.4 184.7h1.6M190.0 185.0h1.6M192.9 185.2h1.6M237.7 186.2h1.6M232.0 188.0h1.6M233.3 187.7h1.6M234.4 188.1h1.6M180.7 189.6h1.6M181.9 189.3h1.6M177.6 192.4h1.6M230.5 192.6h1.6M231.5 192.6h1.6M176.1 193.9h1.6M227.2 196.9h1.6M170.1 198.4h1.6M223.9 198.5h1.6M168.4 199.9h1.6M170.4 199.9h1.6M219.9 200.2h1.6M222.4 200.0h1.6M165.9 201.4h1.6M216.7 201.2h1.6M218.1 201.7h1.6M221.2 201.5h1.6M165.7 203.1h1.6M218.0 202.9h1.6M161.4 205.7h1.6M212.4 206.1h1.6M216.7 206.1h1.6M159.9 207.2h1.6M213.9 207.2h1.6M161.1 209.0h1.6M204.8 208.6h1.6M208.0 208.9h1.6M156.4 210.4h1.6M204.5 210.3h1.6M158.0 211.7h1.6M159.5 213.4h1.6M162.4 213.4h1.6M200.4 213.2h1.6M203.2 213.2h1.6M185.4 214.8h1.6M200.4 214.6h1.6M194.5 216.3h1.6M198.8 216.5h1.6M155.3 217.8h1.6M189.5 217.7h1.6M191.2 217.8h1.6M155.5 219.3h1.6M156.9 219.4h1.6M191.2 219.5h1.6M156.9 221.1h1.6M159.4 220.8h1.6M186.9 221.0h1.6M188.4 221.0h1.6M161.4 222.6h1.6M171.5 222.7h1.6M182.3 222.6h1.6M152.1 223.6h1.6M166.9 224.2h1.6M156.9 225.2h1.6M159.6 225.4h1.6M170.4 225.4h1.6M171.6 225.5h1.6M174.5 225.4h1.6M157.9 227.0h1.6M170.5 227.0h1.6M174.5 226.8h1.6M157.0 228.4h1.6" stroke="#4566c8" stroke-width="1.6" fill="none"/>
<path d="M236.4 166.8h1.6M231.4 168.7h1.6M225.6 169.6h1.6M239.2 170.0h1.6M221.5 171.5h1.6M223.0 171.3h1.6M233.1 171.4h1.6M213.6 173.0h1.6M214.9 173.0h1.6M218.2 172.6h1.6M230.0 172.8h1.6M243.7 173.1h1.6M212.2 174.1h1.6M222.6 174.4h1.6M242.4 176.1h1.6M203.4 177.6h1.6M204.8 177.3h1.6M234.9 177.4h1.6M239.1 179.2h1.6M200.5 180.7h1.6M240.5 180.1h1.6M197.4 181.7h1.6M191.1 184.7h1.6M192.4 186.5h1.6M231.6 189.5h1.6M225.4 192.6h1.6M226.9 193.9h1.6M230.5 193.8h1.6M222.8 195.6h1.6M228.7 195.6h1.6M225.6 197.1h1.6M171.9 198.4h1.6M174.7 198.5h1.6M176.4 199.6h1.6M217.9 200.1h1.6M221.2 199.6h1.6M170.5 201.5h1.6M219.6 201.5h1.6M164.5 204.6h1.6M212.0 204.5h1.6M213.6 204.1h1.6M164.0 205.6h1.6M210.7 207.3h1.6M164.0 209.0h1.6M209.2 208.8h1.6M161.2 210.2h1.6M206.1 210.5h1.6M207.5 210.5h1.6M162.7 212.1h1.6M165.7 212.0h1.6M204.8 211.8h1.6M198.8 215.0h1.6M189.8 216.7h1.6M197.4 216.2h1.6M159.4 217.6h1.6M188.3 218.1h1.6M158.4 219.4h1.6M168.8 219.5h1.6M183.6 219.5h1.6M186.7 219.6h1.6M168.9 220.7h1.6M170.0 221.2h1.6M173.5 220.7h1.6M182.4 221.1h1.6M162.5 222.3h1.6M164.1 222.3h1.6M165.5 222.1h1.6M168.8 222.3h1.6M177.9 224.0h1.6M165.8 225.4h1.6M168.7 225.5h1.6M173.4 225.4h1.6M156.7 226.6h1.6M161.1 226.8h1.6M162.8 226.8h1.6" stroke="#5887d4" stroke-width="1.6" fill="none"/>
<path d="M222.6 170.1h1.6M228.9 170.1h1.6M237.9 171.3h1.6M236.5 173.2h1.6M237.7 173.1h1.6M218.1 174.2h1.6M227.3 174.6h1.6M234.4 174.2h1.6M239.5 174.3h1.6M210.9 175.8h1.6M225.6 175.7h1.6M240.7 176.0h1.6M207.9 177.5h1.6M218.1 177.6h1.6M229.0 177.6h1.6M233.3 177.5h1.6M199.0 179.0h1.6M236.4 179.1h1.6M203.3 180.6h1.6M210.5 180.5h1.6M233.3 181.7h1.6M194.3 183.5h1.6M234.4 183.3h1.6M236.4 183.7h1.6M237.8 183.4h1.6M232.9 185.0h1.6M230.2 186.6h1.6M236.0 186.2h1.6M185.0 187.9h1.6M186.4 187.7h1.6M228.6 189.6h1.6M227.1 191.2h1.6M228.9 192.4h1.6M179.4 193.9h1.6M228.7 193.9h1.6M174.6 195.4h1.6M224.4 195.3h1.6M177.8 196.9h1.6M219.7 197.0h1.6M224.3 197.0h1.6M173.4 198.4h1.6M218.2 198.4h1.6M171.6 201.5h1.6M167.2 202.9h1.6M210.5 203.0h1.6M215.2 202.9h1.6M171.9 206.1h1.6M207.8 206.2h1.6M171.5 207.5h1.6M204.9 207.2h1.6M162.8 209.2h1.6M198.9 210.6h1.6M201.5 210.1h1.6M201.9 211.6h1.6M167.2 213.7h1.6M188.0 213.3h1.6M198.9 213.2h1.6M161.1 214.6h1.6M191.4 215.0h1.6M194.0 214.8h1.6M165.7 216.2h1.6M191.4 216.3h1.6M192.7 216.2h1.6M170.0 217.7h1.6M185.4 217.7h1.6M161.5 219.7h1.6M170.4 219.2h1.6M158.3 220.7h1.6M174.4 221.0h1.6M179.0 220.7h1.6M181.0 221.0h1.6M167.4 222.3h1.6M176.5 222.7h1.6M179.4 222.1h1.6M171.8 223.8h1.6M174.6 224.0h1.6M164.3 225.2h1.6" stroke="#74b5e5" stroke-width="1.6" fill="none"/>
<path d="M234.9 169.9h1.6M219.9 171.1h1.6M227.1 171.3h1.6M230.4 171.6h1.6M235.9 171.4h1.6M216.7 172.9h1.6M228.5 172.9h1.6M231.9 172.6h1.6M233.2 173.0h1.6M213.9 174.6h1.6M217.0 174.2h1.6M224.1 174.2h1.6M209.2 175.8h1.6M221.0 176.0h1.6M232.0 175.8h1.6M236.5 176.2h1.6M209.4 177.1h1.6M223.9 177.4h1.6M236.2 177.7h1.6M215.2 178.8h1.6M232.0 179.1h1.6M234.8 179.1h1.6M209.3 180.1h1.6M219.6 182.2h1.6M236.1 181.7h1.6M238.0 181.7h1.6M195.5 183.3h1.6M197.4 183.7h1.6M230.1 183.4h1.6M233.3 183.7h1.6M227.2 185.0h1.6M234.6 184.6h1.6M236.0 184.9h1.6M231.5 186.6h1.6M189.7 187.9h1.6M227.4 188.0h1.6M185.5 189.6h1.6M230.1 189.2h1.6M180.9 192.3h1.6M224.3 192.4h1.6M223.0 193.7h1.6M224.5 193.6h1.6M221.0 195.4h1.6M222.6 197.1h1.6M215.3 198.5h1.6M171.8 199.6h1.6M215.4 199.9h1.6M170.0 203.2h1.6M174.5 203.0h1.6M170.2 204.6h1.6M168.5 205.9h1.6M204.8 205.6h1.6M213.5 206.0h1.6M209.0 207.3h1.6M165.7 208.7h1.6M197.3 210.2h1.6M203.2 210.6h1.6M200.0 211.8h1.6M165.4 213.6h1.6M195.7 213.2h1.6M159.9 214.9h1.6M165.8 214.6h1.6M197.3 215.0h1.6M159.5 216.4h1.6M161.1 216.4h1.6M164.3 216.5h1.6M179.1 217.9h1.6M186.9 217.9h1.6M165.9 219.5h1.6M175.9 219.2h1.6M177.7 219.7h1.6M184.9 219.7h1.6M162.5 221.1h1.6M176.4 221.2h1.6M177.9 221.0h1.6M183.8 221.2h1.6M170.1 223.7h1.6M158.5 225.3h1.6M160.9 225.4h1.6M167.3 225.5h1.6" stroke="#75c8e0" stroke-width="1.6" fill="none"/>
<path d="M222.6 173.0h1.6M234.9 172.7h1.6M239.2 172.9h1.6M235.9 174.1h1.6M212.1 175.9h1.6M215.1 175.7h1.6M216.5 176.0h1.6M230.3 175.8h1.6M230.5 177.3h1.6M206.0 178.8h1.6M212.4 178.6h1.6M213.6 179.1h1.6M207.5 180.7h1.6M228.9 180.7h1.6M200.2 182.0h1.6M228.6 181.8h1.6M198.8 184.7h1.6M228.9 184.7h1.6M194.1 186.4h1.6M228.9 187.8h1.6M230.1 187.9h1.6M186.5 189.1h1.6M187.9 189.6h1.6M224.2 189.3h1.6M183.5 190.8h1.6M224.2 190.9h1.6M230.2 190.9h1.6M185.4 192.5h1.6M227.1 192.5h1.6M221.0 193.9h1.6M177.8 195.6h1.6M182.3 195.3h1.6M182.3 196.9h1.6M210.9 198.4h1.6M173.2 200.0h1.6M173.3 201.5h1.6M176.3 201.4h1.6M216.8 203.1h1.6M171.5 204.1h1.6M166.9 205.7h1.6M165.9 207.2h1.6M207.9 207.6h1.6M168.5 209.0h1.6M203.2 208.9h1.6M167.0 210.5h1.6M171.4 210.5h1.6M173.0 210.7h1.6M166.9 212.1h1.6M191.3 212.1h1.6M164.3 213.3h1.6M168.6 213.4h1.6M171.8 213.1h1.6M186.6 213.3h1.6M174.5 215.1h1.6M182.3 215.2h1.6M195.7 214.7h1.6M167.0 216.7h1.6M168.7 216.3h1.6M177.4 216.6h1.6M164.1 217.9h1.6M165.8 218.1h1.6M176.1 218.0h1.6M173.0 219.5h1.6M180.7 219.5h1.6M161.4 221.1h1.6" stroke="#63c8cc" stroke-width="1.6" fill="none"/>
<path d="M225.5 173.1h1.6M227.5 173.2h1.6M225.8 174.3h1.6M230.0 174.7h1.6M231.6 174.4h1.6M222.7 175.6h1.6M224.1 176.0h1.6M233.0 175.9h1.6M213.9 177.1h1.6M231.9 177.1h1.6M209.3 179.1h1.6M210.6 178.8h1.6M216.9 178.9h1.6M223.0 178.8h1.6M230.4 178.8h1.6M215.2 180.4h1.6M230.3 180.4h1.6M221.1 182.2h1.6M225.6 181.6h1.6M231.6 182.1h1.6M203.0 183.5h1.6M200.0 184.6h1.6M230.2 185.0h1.6M191.4 186.3h1.6M195.5 186.5h1.6M203.5 186.7h1.6M223.9 186.5h1.6M193.9 187.9h1.6M216.8 195.6h1.6M225.6 195.4h1.6M179.4 197.0h1.6M186.9 196.7h1.6M218.2 197.0h1.6M179.4 198.7h1.6M180.8 198.1h1.6M221.2 198.5h1.6M179.4 201.4h1.6M212.3 201.1h1.6M168.5 203.0h1.6M173.5 202.8h1.6M188.0 203.1h1.6M212.4 202.8h1.6M208.9 204.6h1.6M173.3 205.6h1.6M209.4 205.8h1.6M210.9 206.1h1.6M167.5 207.7h1.6M170.3 207.2h1.6M192.6 207.3h1.6M206.5 207.7h1.6M173.2 208.9h1.6M201.5 209.0h1.6M165.9 210.2h1.6M168.7 212.0h1.6M194.2 212.1h1.6M197.0 211.7h1.6M173.0 213.5h1.6M177.9 213.2h1.6M191.4 213.2h1.6M192.8 213.5h1.6M162.6 215.2h1.6M170.1 214.7h1.6M179.0 214.7h1.6M183.4 214.6h1.6M176.0 216.6h1.6M179.4 216.2h1.6M185.3 216.5h1.6M186.7 216.7h1.6M161.3 218.2h1.6M168.4 218.0h1.6M174.5 217.9h1.6M177.5 217.7h1.6M180.8 217.7h1.6M182.1 218.1h1.6M162.5 219.6h1.6M171.6 219.7h1.6M179.3 219.3h1.6M164.4 221.0h1.6M174.8 222.2h1.6" stroke="#59c8b2" stroke-width="1.6" fill="none"/>
<path d="M228.9 174.3h1.6M213.8 175.9h1.6M219.4 176.0h1.6M228.8 175.7h1.6M212.4 177.3h1.6M233.1 180.5h1.6M235.0 180.7h1.6M218.1 182.0h1.6M207.6 183.4h1.6M216.9 183.3h1.6M231.4 184.9h1.6M227.0 186.3h1.6M228.5 186.6h1.6M191.5 187.7h1.6M192.9 188.1h1.6M218.3 188.1h1.6M219.4 188.1h1.6M223.9 187.6h1.6M200.2 189.1h1.6M187.0 190.9h1.6M207.9 191.0h1.6M216.7 190.7h1.6M181.9 192.7h1.6M183.6 192.6h1.6M210.4 192.5h1.6M186.6 194.2h1.6M219.5 193.7h1.6M179.4 195.1h1.6M180.5 195.3h1.6M221.4 196.7h1.6M219.5 198.5h1.6M179.2 199.7h1.6M182.2 199.9h1.6M176.2 203.1h1.6M177.4 203.2h1.6M176.3 204.3h1.6M206.1 204.5h1.6M210.9 204.4h1.6M195.7 205.9h1.6M199.9 206.2h1.6M195.5 207.3h1.6M201.7 207.1h1.6M177.6 209.2h1.6M200.4 209.1h1.6M176.4 210.3h1.6M191.1 210.1h1.6M192.4 210.1h1.6M200.2 210.5h1.6M174.8 211.9h1.6M198.9 212.1h1.6M170.3 213.6h1.6M171.5 214.9h1.6M177.8 214.7h1.6M186.8 214.7h1.6M188.3 214.8h1.6M189.9 214.9h1.6M170.2 216.2h1.6M183.6 216.3h1.6M188.2 216.6h1.6M182.3 219.4h1.6" stroke="#5dc891" stroke-width="1.6" fill="none"/>
<path d="M221.3 174.1h1.6M218.0 176.0h1.6M211.0 177.7h1.6M222.9 177.6h1.6M218.3 178.9h1.6M219.9 178.8h1.6M220.9 179.1h1.6M224.0 178.8h1.6M233.0 178.7h1.6M204.5 180.3h1.6M222.5 180.7h1.6M204.9 181.7h1.6M206.3 181.7h1.6M213.6 181.6h1.6M226.9 181.7h1.6M200.1 183.5h1.6M201.8 183.6h1.6M221.1 183.5h1.6M231.5 183.4h1.6M197.2 184.9h1.6M204.7 184.8h1.6M225.5 184.7h1.6M198.6 188.0h1.6M225.7 187.7h1.6M219.9 189.6h1.6M192.8 191.2h1.6M212.3 190.9h1.6M188.2 192.5h1.6M189.7 192.3h1.6M221.3 192.5h1.6M183.5 194.0h1.6M188.1 194.0h1.6M181.0 196.6h1.6M216.4 197.0h1.6M198.4 198.5h1.6M174.5 201.3h1.6M201.8 201.1h1.6M207.6 202.7h1.6M209.3 202.9h1.6M173.4 204.4h1.6M170.0 205.7h1.6M177.5 205.8h1.6M182.2 205.9h1.6M197.3 206.1h1.6M176.4 207.3h1.6M198.9 207.2h1.6M170.1 208.7h1.6M171.7 208.6h1.6M176.5 208.7h1.6M188.2 208.9h1.6M198.5 208.9h1.6M168.8 210.4h1.6M169.9 210.4h1.6M188.1 210.6h1.6M189.9 210.4h1.6M194.0 210.6h1.6M170.1 211.9h1.6M182.3 213.4h1.6M183.5 213.1h1.6M168.5 215.0h1.6M182.5 216.5h1.6M171.5 218.0h1.6M173.4 218.2h1.6M174.5 219.5h1.6M170.3 222.3h1.6" stroke="#61c870" stroke-width="1.6" fill="none"/>
<path d="M215.2 177.4h1.6M216.8 177.2h1.6M225.9 177.5h1.6M227.3 180.5h1.6M207.9 182.2h1.6M215.4 181.7h1.6M216.6 182.1h1.6M230.1 181.8h1.6M212.4 183.2h1.6M227.3 183.4h1.6M207.7 185.0h1.6M209.3 184.7h1.6M224.4 184.9h1.6M223.0 186.2h1.6M195.8 188.1h1.6M189.7 189.1h1.6M212.5 189.6h1.6M188.1 191.2h1.6M221.2 190.9h1.6M214.9 192.2h1.6M215.2 195.3h1.6M212.0 196.7h1.6M215.0 196.7h1.6M183.9 198.3h1.6M204.5 198.5h1.6M212.3 198.3h1.6M183.9 199.8h1.6M185.0 199.9h1.6M189.6 199.8h1.6M194.3 199.9h1.6M188.5 201.1h1.6M198.5 201.6h1.6M179.2 203.2h1.6M206.5 203.1h1.6M198.5 204.5h1.6M176.5 205.7h1.6M180.9 206.2h1.6M201.7 205.8h1.6M203.2 205.8h1.6M173.2 207.5h1.6M183.5 208.7h1.6M194.4 209.1h1.6M197.1 208.8h1.6M177.8 210.2h1.6M183.9 210.2h1.6M171.9 211.9h1.6M192.9 211.8h1.6M195.8 212.0h1.6M171.8 216.5h1.6" stroke="#7bcf58" stroke-width="1.6" fill="none"/>
<path d="M216.9 180.4h1.6M221.0 180.3h1.6M224.1 180.4h1.6M225.9 180.3h1.6M223.9 181.8h1.6M222.4 183.7h1.6M224.2 183.2h1.6M225.7 183.4h1.6M203.2 184.6h1.6M217.0 185.0h1.6M212.1 186.4h1.6M216.4 186.6h1.6M187.9 187.8h1.6M197.2 187.8h1.6M206.4 188.0h1.6M222.7 187.7h1.6M206.1 189.2h1.6M213.4 189.3h1.6M221.3 189.2h1.6M218.4 191.1h1.6M216.8 192.4h1.6M189.5 193.7h1.6M194.4 193.7h1.6M201.9 194.0h1.6M204.6 193.7h1.6M210.6 193.7h1.6M218.4 194.0h1.6M183.7 195.2h1.6M194.4 195.2h1.6M198.6 195.2h1.6M200.3 195.2h1.6M212.1 195.5h1.6M185.1 196.6h1.6M197.1 196.7h1.6M182.5 198.5h1.6M185.2 198.5h1.6M180.5 199.8h1.6M209.2 200.0h1.6M213.5 201.6h1.6M204.7 202.6h1.6M174.7 204.6h1.6M199.0 206.0h1.6M181.9 208.9h1.6M195.5 208.8h1.6M185.5 210.2h1.6M179.3 211.6h1.6M173.0 215.1h1.6M176.2 214.9h1.6M173.0 216.6h1.6M174.7 216.5h1.6M180.4 216.5h1.6" stroke="#96d541" stroke-width="1.6" fill="none"/>
<path d="M209.5 181.8h1.6M210.9 182.0h1.6M204.9 183.3h1.6M215.4 183.5h1.6M218.0 183.2h1.6M198.8 186.7h1.6M207.9 186.5h1.6M220.0 186.2h1.6M194.3 189.1h1.6M195.7 189.5h1.6M197.1 189.1h1.6M198.5 190.8h1.6M220.0 191.1h1.6M186.5 192.7h1.6M192.8 192.4h1.6M194.2 192.2h1.6M212.0 192.1h1.6M185.3 194.0h1.6M191.3 195.6h1.6M213.8 195.4h1.6M183.8 196.9h1.6M177.6 198.7h1.6M177.4 199.8h1.6M191.0 199.6h1.6M196.0 199.9h1.6M207.7 200.2h1.6M210.5 201.2h1.6M183.8 203.2h1.6M200.0 202.7h1.6M189.8 204.6h1.6M191.0 204.1h1.6M200.0 204.5h1.6M208.0 204.6h1.6M179.3 205.7h1.6M206.2 205.9h1.6M182.4 207.6h1.6M200.3 207.2h1.6M179.4 208.7h1.6M191.4 209.1h1.6M192.9 209.2h1.6M180.6 210.6h1.6M186.6 210.3h1.6M183.8 211.6h1.6M185.5 212.1h1.6M175.9 213.3h1.6M179.4 213.3h1.6M189.6 213.2h1.6" stroke="#acd935" stroke-width="1.6" fill="none"/>
<path d="M220.9 177.4h1.6M212.4 180.4h1.6M213.4 180.6h1.6M209.4 183.1h1.6M210.6 184.9h1.6M215.4 184.9h1.6M210.4 186.7h1.6M218.4 186.6h1.6M203.1 188.1h1.6M204.8 187.7h1.6M214.9 188.2h1.6M198.7 189.7h1.6M209.5 189.1h1.6M215.1 189.4h1.6M217.9 189.5h1.6M196.9 191.0h1.6M205.9 190.9h1.6M207.8 192.5h1.6M188.1 195.4h1.6M192.7 195.6h1.6M207.8 195.2h1.6M218.2 195.3h1.6M219.4 195.2h1.6M210.7 197.0h1.6M213.7 197.2h1.6M197.4 198.6h1.6M203.0 198.5h1.6M209.1 198.7h1.6M213.9 198.6h1.6M192.5 199.7h1.6M200.4 199.7h1.6M191.3 201.4h1.6M177.4 204.2h1.6M180.6 204.2h1.6M182.1 204.4h1.6M185.5 204.6h1.6M188.3 204.7h1.6M203.5 204.7h1.6M186.5 207.5h1.6M194.1 207.5h1.6M203.0 207.3h1.6M182.3 210.2h1.6M176.2 211.7h1.6M178.0 212.0h1.6M189.6 211.7h1.6M185.3 213.7h1.6M180.6 214.6h1.6" stroke="#c0db30" stroke-width="1.6" fill="none"/>
<path d="M225.8 179.2h1.6M219.7 180.5h1.6M219.6 183.1h1.6M201.7 184.7h1.6M212.4 185.2h1.6M204.5 186.5h1.6M205.9 186.6h1.6M221.3 188.0h1.6M216.7 189.6h1.6M204.7 191.2h1.6M222.5 191.1h1.6M191.2 192.2h1.6M197.4 192.1h1.6M198.5 192.6h1.6M202.0 192.2h1.6M206.3 192.1h1.6M213.8 192.5h1.6M191.4 193.8h1.6M215.1 193.6h1.6M195.4 195.4h1.6M209.5 195.6h1.6M195.9 196.7h1.6M186.5 198.2h1.6M198.5 199.6h1.6M199.9 201.3h1.6M203.2 201.1h1.6M207.9 201.5h1.6M192.9 202.6h1.6M194.4 203.1h1.6M186.4 204.6h1.6M190.9 205.9h1.6M178.0 207.3h1.6M189.5 207.4h1.6M185.0 209.1h1.6M172.9 212.0h1.6M180.8 213.5h1.6" stroke="#d3d92c" stroke-width="1.6" fill="none"/>
<path d="M212.4 181.8h1.6M219.5 185.0h1.6M209.2 187.6h1.6M212.5 188.2h1.6M205.0 189.6h1.6M194.4 191.1h1.6M200.5 191.0h1.6M201.7 190.6h1.6M204.7 192.6h1.6M197.3 194.0h1.6M203.3 194.2h1.6M201.6 195.3h1.6M188.0 196.7h1.6M198.6 196.7h1.6M188.5 198.5h1.6M201.6 198.3h1.6M186.7 201.5h1.6M189.9 201.4h1.6M192.8 201.4h1.6M195.8 201.6h1.6M204.7 201.3h1.6M185.1 202.8h1.6M198.7 203.0h1.6M179.5 204.5h1.6M184.0 204.6h1.6M204.8 204.3h1.6M185.4 205.9h1.6M183.5 207.6h1.6M185.1 207.2h1.6M188.5 207.1h1.6M174.9 210.6h1.6M179.5 210.7h1.6M174.5 213.3h1.6" stroke="#e0ce2e" stroke-width="1.6" fill="none"/>
<path d="M198.5 183.5h1.6M213.8 183.5h1.6M200.4 186.1h1.6M201.5 186.2h1.6M214.0 186.2h1.6M215.2 186.3h1.6M221.1 186.4h1.6M208.0 189.6h1.6M191.0 190.9h1.6M210.5 190.9h1.6M218.1 192.6h1.6M192.9 193.7h1.6M213.8 193.7h1.6M186.7 195.3h1.6M206.0 195.6h1.6M195.4 198.6h1.6M186.5 200.1h1.6M180.6 201.6h1.6M197.0 201.5h1.6M195.8 204.6h1.6M174.9 205.7h1.6M180.4 207.6h1.6M191.0 207.5h1.6" stroke="#eec230" stroke-width="1.6" fill="none"/>
<path d="M213.9 185.0h1.6M209.1 186.5h1.6M201.6 188.1h1.6M198.5 194.1h1.6M209.1 193.7h1.6M212.1 193.8h1.6M201.9 196.8h1.6M204.8 196.9h1.6M209.0 196.8h1.6M194.5 198.6h1.6M197.3 199.9h1.6M206.1 200.0h1.6M195.6 202.9h1.6M192.6 206.1h1.6M180.8 209.1h1.6" stroke="#f0a82d" stroke-width="1.6" fill="none"/>
<path d="M209.2 192.2h1.6M207.5 193.8h1.6M184.9 195.4h1.6M204.5 195.7h1.6M189.7 196.8h1.6M192.5 198.5h1.6M194.3 201.6h1.6M194.3 204.6h1.6M189.6 205.7h1.6" stroke="#f08b28" stroke-width="1.6" fill="none"/>
<path d="M222.9 185.1h1.6M195.8 191.2h1.6M203.2 190.9h1.6M195.6 192.2h1.6M203.4 192.6h1.6M197.2 195.4h1.6M192.4 196.6h1.6M182.3 201.7h1.6M185.4 201.4h1.6M181.9 202.6h1.6M201.4 204.4h1.6M189.6 209.1h1.6" stroke="#ea6b24" stroke-width="1.6" fill="none"/>
<path d="M207.8 187.8h1.6M213.9 188.1h1.6M201.7 189.4h1.6M203.0 189.1h1.6M213.4 190.8h1.6M215.2 190.6h1.6M200.4 192.5h1.6M206.5 194.2h1.6M191.4 196.6h1.6M194.0 196.7h1.6M191.4 198.1h1.6M200.3 198.3h1.6M207.4 198.5h1.6M188.4 200.0h1.6M201.9 199.9h1.6M203.3 199.8h1.6M206.1 201.6h1.6M192.8 204.1h1.6M197.1 204.2h1.6M183.5 206.0h1.6M194.1 205.8h1.6" stroke="#e34a1f" stroke-width="1.6" fill="none"/>
<path d="M638.1 101.8h1.6M608.5 103.6h1.6M624.8 111.1h1.6M638.3 115.4h1.6M624.6 116.9h1.6M627.9 120.0h1.6M663.6 121.3h1.6M581.1 123.1h1.6M624.8 123.2h1.6M626.1 122.6h1.6M638.2 122.8h1.6M656.4 122.9h1.6M617.3 124.4h1.6M618.6 124.3h1.6M629.5 124.3h1.6M626.0 126.0h1.6M614.0 127.5h1.6M621.6 127.5h1.6M632.4 127.4h1.6M633.8 127.6h1.6M596.0 129.0h1.6M617.1 128.9h1.6M630.9 128.9h1.6M633.6 129.1h1.6M609.5 130.5h1.6M615.5 130.4h1.6M621.9 130.2h1.6M636.7 130.4h1.6M626.1 132.0h1.6M629.0 132.2h1.6M620.1 133.4h1.6M621.6 133.4h1.6M637.0 133.3h1.6M564.6 135.1h1.6M608.2 135.0h1.6M612.8 134.8h1.6M618.8 134.6h1.6M621.5 135.1h1.6M605.0 136.7h1.6M606.9 136.5h1.6M611.4 136.4h1.6M618.6 136.4h1.6M621.7 136.4h1.6M624.9 136.5h1.6M626.2 136.3h1.6M630.8 136.5h1.6M634.9 136.2h1.6M596.1 137.6h1.6M617.1 137.9h1.6M618.8 138.2h1.6M620.3 138.0h1.6M623.1 137.7h1.6M626.2 138.0h1.6M627.6 138.1h1.6M594.9 139.2h1.6M599.4 139.2h1.6M602.3 139.5h1.6M605.2 139.2h1.6M620.2 139.1h1.6M626.1 139.5h1.6M627.9 139.7h1.6M635.5 139.6h1.6M591.4 140.9h1.6M605.1 141.1h1.6M608.1 141.0h1.6M619.9 141.1h1.6M621.9 141.0h1.6M627.8 140.7h1.6M629.1 140.7h1.6M642.9 141.2h1.6M603.9 142.3h1.6M608.0 142.7h1.6M610.0 142.2h1.6M611.4 142.4h1.6M618.5 142.4h1.6M620.1 142.2h1.6M623.4 142.5h1.6M624.7 142.6h1.6M629.0 142.5h1.6M641.4 142.2h1.6M645.7 142.6h1.6M683.0 142.4h1.6M599.4 143.7h1.6M606.7 144.0h1.6M611.5 144.0h1.6M617.1 144.1h1.6M618.6 143.7h1.6M620.0 143.7h1.6M621.8 144.0h1.6M629.4 144.1h1.6M564.4 145.5h1.6M581.3 145.5h1.6M593.3 145.7h1.6M603.6 145.2h1.6M609.5 145.7h1.6M611.2 145.6h1.6M623.3 145.7h1.6M624.8 145.6h1.6M632.3 145.7h1.6M590.4 146.9h1.6M591.6 147.2h1.6M599.1 146.9h1.6M606.5 147.0h1.6M611.0 146.8h1.6M614.4 147.1h1.6M615.8 147.0h1.6M618.7 147.0h1.6M623.3 146.7h1.6M626.2 147.0h1.6M636.5 147.1h1.6M599.2 148.1h1.6M605.0 148.3h1.6M606.6 148.3h1.6M615.6 148.6h1.6M620.0 148.3h1.6M636.6 148.4h1.6M512.2 150.1h1.6M594.5 149.8h1.6M597.7 150.1h1.6M603.4 150.0h1.6M623.3 149.9h1.6M626.2 149.6h1.6M562.0 151.2h1.6M597.5 151.4h1.6M599.1 151.6h1.6M601.9 151.7h1.6M603.8 151.3h1.6M605.2 151.6h1.6M623.2 151.7h1.6M668.0 151.7h1.6M602.1 152.6h1.6M605.2 153.0h1.6M606.6 153.1h1.6M611.1 152.7h1.6M620.1 152.8h1.6M630.4 152.9h1.6M581.2 154.1h1.6M587.1 154.4h1.6M590.2 154.7h1.6M597.8 154.6h1.6M600.4 154.3h1.6M603.6 154.3h1.6M606.9 154.2h1.6M608.0 154.3h1.6M609.7 154.6h1.6M612.9 154.5h1.6M617.0 154.3h1.6M566.1 155.7h1.6M588.6 156.1h1.6M590.0 155.6h1.6M594.9 155.6h1.6M596.1 155.9h1.6M606.4 155.6h1.6M612.7 155.7h1.6M618.9 155.8h1.6M623.2 156.2h1.6M681.6 156.1h1.6M587.0 157.5h1.6M591.6 157.1h1.6M599.1 157.5h1.6M615.7 157.5h1.6M620.4 157.5h1.6M623.1 157.6h1.6M570.8 158.8h1.6M578.1 159.1h1.6M590.4 158.9h1.6M591.6 159.1h1.6M596.2 159.2h1.6M599.3 159.1h1.6M600.4 158.6h1.6M608.4 159.1h1.6M581.4 160.6h1.6M588.6 160.5h1.6M598.0 160.6h1.6M605.1 160.5h1.6M606.9 160.4h1.6M608.2 160.5h1.6M614.4 160.1h1.6M542.2 162.0h1.6M573.7 161.9h1.6M581.4 162.1h1.6M590.2 161.7h1.6M599.4 162.0h1.6M605.2 161.7h1.6M614.5 161.6h1.6M572.1 163.2h1.6M578.4 163.2h1.6M584.1 163.2h1.6M588.5 163.2h1.6M595.9 163.7h1.6M599.3 163.1h1.6M600.8 163.6h1.6M609.9 163.4h1.6M612.5 163.4h1.6M615.7 163.7h1.6M569.3 165.0h1.6M571.0 164.7h1.6M575.5 164.8h1.6M576.5 164.7h1.6M581.5 164.8h1.6M584.0 165.1h1.6M595.0 165.0h1.6M596.4 165.0h1.6M603.7 165.2h1.6M566.0 166.5h1.6M572.5 166.2h1.6M573.9 166.1h1.6M579.6 166.3h1.6M587.3 166.4h1.6M588.9 166.3h1.6M594.9 166.7h1.6M597.7 166.1h1.6M599.0 166.3h1.6M607.0 166.3h1.6M608.0 166.6h1.6M611.0 166.2h1.6M616.0 166.1h1.6M555.8 167.9h1.6M557.2 167.7h1.6M563.0 168.0h1.6M569.1 167.9h1.6M570.6 167.7h1.6M578.0 168.2h1.6M581.4 167.7h1.6M585.4 167.7h1.6M593.3 167.6h1.6M597.5 167.7h1.6M608.5 168.0h1.6M611.1 167.8h1.6M565.0 169.2h1.6M567.7 169.6h1.6M570.7 169.2h1.6M576.7 169.2h1.6M577.9 169.4h1.6M587.0 169.2h1.6M591.9 169.6h1.6M595.0 169.2h1.6M600.7 169.5h1.6M602.0 169.2h1.6M603.8 169.2h1.6M609.9 169.5h1.6M626.4 169.7h1.6M642.5 169.3h1.6M552.9 170.9h1.6M558.7 171.0h1.6M561.5 171.0h1.6M576.8 170.8h1.6M585.5 171.1h1.6M590.1 171.2h1.6M591.9 170.7h1.6M593.3 170.6h1.6M598.9 170.9h1.6M600.6 170.7h1.6M605.1 170.7h1.6M606.7 171.1h1.6M548.0 172.2h1.6M549.5 172.3h1.6M552.6 172.5h1.6M554.2 172.3h1.6M569.5 172.5h1.6M582.9 172.2h1.6M587.2 172.6h1.6M594.5 172.2h1.6M597.8 172.6h1.6M599.5 172.5h1.6M603.7 172.6h1.6M562.0 174.1h1.6M570.7 173.7h1.6M573.8 173.8h1.6M590.2 174.0h1.6M596.2 173.6h1.6M597.7 174.0h1.6M599.0 173.8h1.6M611.1 173.6h1.6M540.8 175.3h1.6M543.7 175.3h1.6M549.6 175.4h1.6M550.9 175.2h1.6M552.9 175.5h1.6M555.9 175.4h1.6M584.0 175.3h1.6M608.5 175.4h1.6M521.4 177.1h1.6M539.5 177.0h1.6M540.6 177.1h1.6M543.9 176.8h1.6M551.2 176.9h1.6M571.0 177.1h1.6M584.0 177.0h1.6M593.4 176.6h1.6M594.9 177.1h1.6M599.5 177.1h1.6M600.5 176.9h1.6M602.5 176.8h1.6M603.6 177.0h1.6M480.5 178.5h1.6M534.9 178.1h1.6M542.2 178.1h1.6M544.0 178.7h1.6M546.6 178.7h1.6M548.3 178.7h1.6M555.7 178.5h1.6M569.0 178.5h1.6M581.3 178.5h1.6M600.9 178.1h1.6M603.7 178.1h1.6M605.5 178.7h1.6M507.8 180.0h1.6M515.3 180.1h1.6M527.1 179.9h1.6M543.6 180.2h1.6M554.0 180.1h1.6M555.5 180.0h1.6M563.5 180.0h1.6M585.9 180.1h1.6M587.0 180.2h1.6M588.7 179.9h1.6M651.8 180.1h1.6M513.7 181.3h1.6M537.9 181.1h1.6M539.4 181.1h1.6M545.0 181.3h1.6M554.2 181.6h1.6M590.0 181.4h1.6M593.2 181.3h1.6M594.9 181.3h1.6M516.4 182.9h1.6M522.5 182.8h1.6M531.8 183.1h1.6M533.4 183.2h1.6M539.4 183.0h1.6M540.6 183.2h1.6M542.2 182.8h1.6M545.3 182.6h1.6M551.2 183.1h1.6M555.5 182.9h1.6M561.6 182.9h1.6M576.7 183.1h1.6M586.9 182.8h1.6M593.3 183.0h1.6M599.5 183.2h1.6M485.3 184.4h1.6M510.8 184.5h1.6M522.9 184.6h1.6M539.3 184.5h1.6M561.7 184.5h1.6M563.0 184.3h1.6M570.7 184.4h1.6M582.9 184.2h1.6M588.5 184.4h1.6M591.9 184.1h1.6M597.8 184.6h1.6M530.2 185.9h1.6M534.8 185.8h1.6M539.0 185.7h1.6M591.9 185.8h1.6M593.0 185.6h1.6M594.7 186.1h1.6M468.7 187.1h1.6M518.3 187.1h1.6M528.6 187.4h1.6M535.0 187.6h1.6M536.0 187.6h1.6M540.7 187.5h1.6M572.1 187.2h1.6M577.9 187.1h1.6M584.2 187.7h1.6M585.4 187.7h1.6M588.9 187.2h1.6M590.1 187.3h1.6M591.4 187.2h1.6M596.3 187.2h1.6M597.7 187.5h1.6M599.3 187.3h1.6M486.6 189.1h1.6M495.7 189.0h1.6M500.5 189.0h1.6M524.0 189.1h1.6M525.7 189.1h1.6M530.1 188.8h1.6M533.5 189.1h1.6M539.4 188.7h1.6M558.4 189.1h1.6M560.4 188.7h1.6M590.4 188.7h1.6M596.2 189.2h1.6M497.2 190.6h1.6M510.5 190.7h1.6M527.2 190.3h1.6M530.0 190.6h1.6M533.5 190.5h1.6M536.4 190.2h1.6M555.9 190.7h1.6M570.5 190.3h1.6M575.2 190.4h1.6M584.0 190.1h1.6M588.8 190.4h1.6M590.1 190.2h1.6M593.0 190.2h1.6M597.5 190.2h1.6M516.8 192.1h1.6M544.0 191.8h1.6M546.7 191.9h1.6M552.4 191.9h1.6M587.1 191.9h1.6M588.4 192.1h1.6M590.4 191.7h1.6M591.6 192.1h1.6M518.0 193.7h1.6M533.3 193.4h1.6M539.3 193.6h1.6M551.2 193.2h1.6M558.7 193.7h1.6M562.9 193.7h1.6M576.6 193.6h1.6M584.1 193.2h1.6M588.9 193.3h1.6M618.8 193.3h1.6M513.5 195.0h1.6M516.8 194.9h1.6M518.1 194.7h1.6M522.9 195.2h1.6M537.6 194.8h1.6M539.0 194.9h1.6M555.7 194.6h1.6M560.0 195.0h1.6M584.1 194.7h1.6M588.5 195.0h1.6M473.4 196.5h1.6M491.3 196.3h1.6M507.6 196.2h1.6M510.7 196.6h1.6M516.8 196.5h1.6M520.9 196.5h1.6M522.7 196.4h1.6M525.8 196.5h1.6M581.4 196.3h1.6M585.8 196.5h1.6M587.3 196.5h1.6M588.8 196.6h1.6M590.3 196.4h1.6M591.9 196.6h1.6M597.7 196.1h1.6M506.1 197.7h1.6M515.4 198.1h1.6M516.9 198.0h1.6M521.1 197.7h1.6M525.5 198.1h1.6M542.3 197.7h1.6M582.8 198.0h1.6M584.2 198.0h1.6M585.5 198.1h1.6M500.4 199.4h1.6M513.8 199.5h1.6M519.5 199.4h1.6M521.2 199.3h1.6M522.7 199.6h1.6M524.1 199.4h1.6M525.8 199.5h1.6M533.5 199.2h1.6M537.7 199.6h1.6M543.4 199.1h1.6M546.5 199.4h1.6M552.4 199.4h1.6M566.2 199.2h1.6M572.1 199.1h1.6M576.4 199.3h1.6M582.6 199.4h1.6M480.8 201.1h1.6M510.9 201.1h1.6M513.9 200.8h1.6M515.2 201.0h1.6M516.8 200.8h1.6M525.6 200.7h1.6M531.7 201.0h1.6M575.4 201.1h1.6M581.3 201.0h1.6M582.7 200.6h1.6M589.9 201.0h1.6M483.4 202.4h1.6M488.1 202.1h1.6M504.8 202.2h1.6M510.7 202.6h1.6M512.0 202.6h1.6M516.4 202.3h1.6M520.9 202.7h1.6M539.2 202.4h1.6M540.6 202.4h1.6M564.8 202.7h1.6M570.4 202.6h1.6M578.4 202.5h1.6M581.5 202.6h1.6M465.7 204.2h1.6M477.9 203.7h1.6M498.5 204.1h1.6M503.5 203.7h1.6M509.2 203.7h1.6M512.3 203.6h1.6M515.4 203.9h1.6M534.8 203.7h1.6M540.4 203.8h1.6M560.4 204.0h1.6M566.4 203.8h1.6M570.6 203.6h1.6M578.4 203.7h1.6M581.0 203.9h1.6M582.9 203.8h1.6M456.5 205.1h1.6M474.9 205.6h1.6M477.6 205.4h1.6M483.8 205.1h1.6M491.4 205.4h1.6M492.8 205.3h1.6M504.4 205.4h1.6M513.5 205.3h1.6M528.5 205.3h1.6M533.3 205.5h1.6M536.5 205.4h1.6M539.4 205.4h1.6M572.1 205.2h1.6M574.9 205.7h1.6M581.5 205.2h1.6M582.7 205.4h1.6M449.2 206.7h1.6M461.0 206.7h1.6M477.4 206.7h1.6M480.7 206.8h1.6M488.0 207.2h1.6M492.8 207.1h1.6M498.7 206.6h1.6M504.6 206.7h1.6M516.9 207.0h1.6M520.0 207.1h1.6M534.8 207.0h1.6M539.1 207.0h1.6M545.1 206.8h1.6M560.4 206.9h1.6M570.5 206.9h1.6M571.9 206.9h1.6M575.2 207.0h1.6M576.9 206.8h1.6M464.3 208.4h1.6M473.4 208.5h1.6M474.4 208.4h1.6M504.9 208.6h1.6M511.9 208.2h1.6M525.6 208.4h1.6M530.0 208.1h1.6M536.4 208.7h1.6M539.2 208.7h1.6M561.7 208.5h1.6M570.4 208.6h1.6M572.2 208.5h1.6M573.5 208.5h1.6M452.4 210.0h1.6M461.4 210.2h1.6M464.1 209.7h1.6M467.4 210.0h1.6M471.6 209.8h1.6M482.1 210.0h1.6M492.5 210.2h1.6M498.9 209.7h1.6M503.1 209.9h1.6M509.2 210.0h1.6M510.4 210.1h1.6M512.2 210.0h1.6M519.6 209.8h1.6M549.4 210.1h1.6M557.5 209.7h1.6M567.5 209.6h1.6M572.2 209.7h1.6M575.2 210.1h1.6M579.9 209.7h1.6M485.5 211.4h1.6M492.8 211.6h1.6M497.4 211.7h1.6M501.5 211.7h1.6M504.5 211.7h1.6M515.5 211.3h1.6M520.9 211.2h1.6M522.6 211.6h1.6M560.0 211.7h1.6M564.6 211.6h1.6M569.2 211.6h1.6M570.5 211.1h1.6M572.0 211.6h1.6M575.4 211.5h1.6M462.6 212.9h1.6M468.9 213.2h1.6M474.6 212.7h1.6M482.3 212.9h1.6M485.2 212.6h1.6M486.5 213.0h1.6M489.9 212.8h1.6M492.7 212.7h1.6M494.0 212.9h1.6M500.3 212.7h1.6M501.6 212.7h1.6M507.6 213.1h1.6M525.4 213.2h1.6M540.7 212.9h1.6M567.6 213.1h1.6M570.7 212.7h1.6M573.7 212.8h1.6M575.3 212.6h1.6M576.8 213.0h1.6M450.5 214.2h1.6M455.1 214.4h1.6M476.4 214.2h1.6M479.5 214.5h1.6M491.0 214.2h1.6M492.6 214.4h1.6M493.9 214.5h1.6M495.7 214.2h1.6M498.7 214.1h1.6M506.2 214.3h1.6M510.8 214.3h1.6M530.0 214.4h1.6M533.3 214.6h1.6M541.9 214.6h1.6M548.5 214.5h1.6M549.8 214.3h1.6M555.9 214.6h1.6M560.2 214.7h1.6M563.2 214.2h1.6M564.4 214.6h1.6M569.4 214.3h1.6M570.8 214.1h1.6M452.1 215.8h1.6M465.7 215.8h1.6M467.5 215.7h1.6M470.2 216.1h1.6M471.7 215.7h1.6M483.6 216.1h1.6M485.0 215.9h1.6M490.0 216.2h1.6M497.2 215.9h1.6M499.0 216.0h1.6M502.0 216.0h1.6M503.3 215.7h1.6M504.7 216.0h1.6M509.3 215.7h1.6M512.2 215.9h1.6M513.6 215.9h1.6M527.2 215.6h1.6M533.1 215.6h1.6M539.4 215.9h1.6M540.9 215.8h1.6M545.1 215.7h1.6M549.8 215.7h1.6M558.8 215.6h1.6M560.2 215.8h1.6M567.5 215.7h1.6M570.8 215.8h1.6M477.5 217.4h1.6M483.6 217.7h1.6M489.8 217.6h1.6M498.4 217.6h1.6M501.8 217.1h1.6M503.0 217.3h1.6M506.3 217.1h1.6M508.0 217.5h1.6M509.1 217.2h1.6M510.5 217.5h1.6M522.9 217.3h1.6M524.3 217.7h1.6M556.0 217.6h1.6M558.8 217.3h1.6M560.3 217.4h1.6M567.8 217.4h1.6M443.4 219.2h1.6M464.3 219.0h1.6M476.5 218.9h1.6M482.2 219.1h1.6M486.9 218.8h1.6M488.0 219.0h1.6M489.8 219.1h1.6M492.4 218.8h1.6M501.6 219.1h1.6M503.1 219.1h1.6M527.0 219.0h1.6M530.5 218.6h1.6M551.0 219.0h1.6M558.5 218.7h1.6M561.7 218.9h1.6M570.5 219.1h1.6M442.0 220.7h1.6M444.9 220.4h1.6M467.3 220.6h1.6M488.0 220.7h1.6M503.2 220.6h1.6M506.5 220.2h1.6M508.9 220.1h1.6M512.3 220.6h1.6M524.0 220.2h1.6M530.3 220.2h1.6M539.4 220.3h1.6M543.8 220.7h1.6M550.0 220.5h1.6M552.7 220.6h1.6M554.0 220.5h1.6M558.8 220.5h1.6M560.4 220.2h1.6M561.9 220.4h1.6M601.9 220.1h1.6M441.5 222.1h1.6M449.0 221.7h1.6M450.7 222.1h1.6M452.1 222.0h1.6M455.5 221.7h1.6M459.8 221.8h1.6M461.5 221.7h1.6M468.6 221.7h1.6M488.2 222.0h1.6M489.7 222.0h1.6M491.0 221.7h1.6M494.1 222.1h1.6M501.7 221.9h1.6M503.2 221.7h1.6M504.9 221.7h1.6M515.1 221.7h1.6M528.6 222.0h1.6M540.6 221.7h1.6M552.5 222.2h1.6M554.5 222.0h1.6M455.0 223.5h1.6M458.4 223.4h1.6M465.5 223.6h1.6M467.3 223.5h1.6M468.6 223.3h1.6M478.0 223.2h1.6M479.0 223.3h1.6M483.8 223.6h1.6M486.7 223.2h1.6M497.3 223.2h1.6M504.9 223.3h1.6M506.4 223.3h1.6M509.3 223.2h1.6M512.1 223.6h1.6M521.0 223.2h1.6M531.7 223.4h1.6M552.5 223.3h1.6M556.0 223.7h1.6M556.9 223.7h1.6M562.9 223.5h1.6M443.2 225.1h1.6M445.9 224.9h1.6M455.1 225.1h1.6M459.9 224.9h1.6M461.1 224.7h1.6M463.9 225.0h1.6M476.1 225.0h1.6M481.9 225.2h1.6M485.0 224.8h1.6M486.7 225.0h1.6M488.2 225.1h1.6M492.9 225.1h1.6M494.3 224.7h1.6M495.4 224.7h1.6M502.0 224.7h1.6M505.9 225.0h1.6M510.5 224.6h1.6M513.8 224.7h1.6M515.0 225.2h1.6M516.8 224.8h1.6M527.4 224.9h1.6M531.7 224.9h1.6M535.0 225.0h1.6M539.3 225.0h1.6M543.5 225.2h1.6M450.9 226.2h1.6M453.9 226.7h1.6M458.2 226.4h1.6M465.8 226.3h1.6M470.1 226.1h1.6M472.0 226.1h1.6M474.9 226.2h1.6M480.6 226.7h1.6M484.9 226.1h1.6M486.9 226.6h1.6M488.5 226.1h1.6M493.0 226.2h1.6M495.8 226.3h1.6M500.0 226.6h1.6M501.9 226.3h1.6M506.0 226.1h1.6M507.7 226.4h1.6M515.3 226.2h1.6M518.2 226.1h1.6M524.4 226.5h1.6M529.0 226.3h1.6M534.8 226.3h1.6M540.8 226.5h1.6M549.4 226.3h1.6M560.3 226.5h1.6M439.9 228.0h1.6M443.1 227.9h1.6M453.7 228.0h1.6M456.9 227.7h1.6M458.2 228.0h1.6M464.4 228.0h1.6M468.7 228.0h1.6M471.6 227.9h1.6M474.9 228.0h1.6M476.4 227.7h1.6M477.6 228.0h1.6M483.7 228.1h1.6M492.6 227.8h1.6M494.0 228.1h1.6M495.4 227.9h1.6M497.0 228.0h1.6M501.7 228.0h1.6M503.0 227.9h1.6M506.5 227.9h1.6M521.3 227.7h1.6M525.9 228.0h1.6M542.1 227.7h1.6M545.0 227.7h1.6M548.1 227.9h1.6M549.4 227.7h1.6M558.9 228.2h1.6M572.1 228.1h1.6M429.9 229.5h1.6M448.0 229.6h1.6M462.8 229.4h1.6M467.0 229.1h1.6M471.7 229.1h1.6M477.5 229.3h1.6M480.9 229.2h1.6M482.4 229.7h1.6M485.1 229.2h1.6M491.1 229.7h1.6M494.1 229.7h1.6M500.3 229.6h1.6M503.2 229.6h1.6M504.5 229.3h1.6M506.5 229.6h1.6M509.5 229.2h1.6M510.5 229.4h1.6M522.8 229.6h1.6M524.4 229.6h1.6M536.1 229.7h1.6M537.8 229.3h1.6M539.3 229.3h1.6M542.3 229.5h1.6M543.4 229.3h1.6M441.9 230.7h1.6M447.8 230.9h1.6M449.0 231.1h1.6M458.3 231.2h1.6M462.9 230.7h1.6M464.1 231.0h1.6M473.1 230.9h1.6M474.8 230.6h1.6M479.4 230.7h1.6M485.4 230.9h1.6M486.7 230.8h1.6M491.3 231.0h1.6M492.4 230.7h1.6M500.5 230.7h1.6M504.5 231.1h1.6M509.3 231.2h1.6M510.8 231.1h1.6M517.9 230.7h1.6M524.5 230.9h1.6M530.0 231.0h1.6M533.0 231.2h1.6M534.7 231.1h1.6M536.0 230.9h1.6M537.5 230.7h1.6M539.0 230.6h1.6M540.8 231.1h1.6M552.5 230.9h1.6M444.4 232.1h1.6M446.4 232.5h1.6M454.9 232.2h1.6M458.1 232.1h1.6M459.9 232.1h1.6M473.1 232.7h1.6M480.8 232.4h1.6M486.9 232.7h1.6M489.7 232.4h1.6M492.6 232.1h1.6M494.3 232.7h1.6M500.3 232.4h1.6M504.8 232.1h1.6M510.9 232.7h1.6M512.5 232.3h1.6M513.6 232.5h1.6M521.5 232.3h1.6M524.3 232.5h1.6M527.3 232.7h1.6M537.9 232.3h1.6M539.1 232.3h1.6M547.0 232.6h1.6M549.4 232.3h1.6M438.4 233.7h1.6M446.3 234.0h1.6M447.6 233.9h1.6M450.7 233.9h1.6M455.2 234.2h1.6M456.6 234.1h1.6M464.4 234.0h1.6M466.0 233.6h1.6M468.6 233.7h1.6M474.6 233.7h1.6M476.2 234.0h1.6M480.7 233.8h1.6M485.2 233.7h1.6M488.4 234.0h1.6M492.7 234.0h1.6M495.5 233.6h1.6M500.5 233.8h1.6M507.8 234.1h1.6M512.0 234.0h1.6M518.3 234.1h1.6M527.4 233.8h1.6M528.6 233.8h1.6M531.9 234.0h1.6M533.1 233.7h1.6M540.9 233.6h1.6M431.0 235.2h1.6M432.9 235.6h1.6M446.1 235.5h1.6M453.7 235.1h1.6M460.0 235.7h1.6M468.6 235.3h1.6M471.9 235.3h1.6M473.2 235.4h1.6M478.9 235.4h1.6M483.8 235.2h1.6M485.1 235.3h1.6M486.9 235.6h1.6M488.1 235.4h1.6M490.9 235.6h1.6M492.6 235.5h1.6M494.3 235.1h1.6M495.7 235.2h1.6M499.0 235.6h1.6M502.9 235.5h1.6M504.8 235.6h1.6M507.6 235.5h1.6M510.9 235.5h1.6M515.5 235.3h1.6M522.7 235.4h1.6M524.1 235.5h1.6M531.6 235.3h1.6M533.3 235.3h1.6M539.1 235.6h1.6M581.5 235.1h1.6M428.0 236.6h1.6M449.1 236.7h1.6M451.0 237.0h1.6M452.5 236.8h1.6M453.6 236.8h1.6M456.9 236.9h1.6M457.9 236.7h1.6M462.7 236.8h1.6M465.5 237.1h1.6M468.6 237.1h1.6M470.1 236.9h1.6M476.3 237.1h1.6M477.7 236.9h1.6M480.8 237.0h1.6M482.4 236.9h1.6M483.7 236.7h1.6M489.9 236.6h1.6M494.5 237.1h1.6M509.2 237.1h1.6M510.7 237.1h1.6M518.3 236.8h1.6M519.8 237.1h1.6M521.5 237.0h1.6M525.8 237.1h1.6M527.0 236.6h1.6M528.9 237.2h1.6M560.5 237.2h1.6M593.3 236.9h1.6M429.9 238.3h1.6M440.4 238.3h1.6M446.1 238.6h1.6M447.7 238.1h1.6M450.8 238.4h1.6M455.2 238.5h1.6M456.5 238.4h1.6M458.3 238.5h1.6M461.4 238.5h1.6M462.7 238.6h1.6M464.0 238.6h1.6M468.5 238.4h1.6M477.6 238.3h1.6M479.0 238.4h1.6M485.0 238.7h1.6M486.9 238.2h1.6M494.5 238.6h1.6M495.5 238.2h1.6M499.9 238.5h1.6M504.8 238.5h1.6M506.3 238.2h1.6M507.6 238.3h1.6M512.5 238.2h1.6M518.0 238.3h1.6M554.2 238.6h1.6M437.0 240.1h1.6M441.5 240.1h1.6M444.5 240.0h1.6M446.4 239.7h1.6M450.9 240.0h1.6M453.8 240.2h1.6M455.1 239.7h1.6M461.2 240.2h1.6M468.5 240.0h1.6M470.0 239.9h1.6M473.4 239.6h1.6M474.5 239.8h1.6M477.4 239.9h1.6M479.4 240.0h1.6M482.1 239.9h1.6M491.0 239.8h1.6M492.8 239.9h1.6M494.3 240.0h1.6M495.6 240.1h1.6M501.8 239.9h1.6M503.1 240.0h1.6M507.5 239.9h1.6M509.2 239.9h1.6M510.8 239.9h1.6M515.3 239.9h1.6M524.1 239.8h1.6M432.7 241.3h1.6M448.0 241.3h1.6M449.2 241.6h1.6M450.5 241.7h1.6M454.0 241.1h1.6M458.4 241.5h1.6M461.0 241.3h1.6M465.7 241.4h1.6M470.2 241.2h1.6M473.2 241.2h1.6M500.0 241.5h1.6M502.0 241.4h1.6M503.5 241.2h1.6M506.1 241.4h1.6M509.1 241.5h1.6M513.6 241.4h1.6M518.2 241.7h1.6M524.3 241.4h1.6M536.1 241.6h1.6M545.2 241.5h1.6M432.9 242.9h1.6M443.3 242.8h1.6M446.2 243.1h1.6M456.8 242.9h1.6M464.3 242.7h1.6M467.1 243.0h1.6M468.8 243.1h1.6M473.0 242.8h1.6M476.0 242.6h1.6M477.4 243.0h1.6M480.4 242.7h1.6M482.0 242.7h1.6M483.6 242.9h1.6M485.3 243.1h1.6M498.9 243.2h1.6M501.5 243.0h1.6M503.2 243.2h1.6M504.6 243.1h1.6M509.1 242.7h1.6M519.8 243.0h1.6M527.4 242.7h1.6M531.4 243.1h1.6M436.0 244.3h1.6M440.5 244.2h1.6M452.3 244.5h1.6M456.9 244.1h1.6M457.9 244.5h1.6M460.0 244.6h1.6M476.0 244.3h1.6M479.3 244.3h1.6M480.5 244.2h1.6M482.5 244.5h1.6M483.9 244.4h1.6M486.9 244.4h1.6M492.9 244.6h1.6M495.6 244.7h1.6M500.0 244.5h1.6M503.0 244.2h1.6M505.9 244.3h1.6M508.0 244.3h1.6M509.1 244.7h1.6M521.3 244.1h1.6M524.4 244.2h1.6M532.9 244.5h1.6M429.5 245.6h1.6M431.1 246.0h1.6M435.7 246.1h1.6M438.7 245.8h1.6M441.7 245.7h1.6M443.2 245.7h1.6M450.6 245.9h1.6M451.9 245.8h1.6M453.5 245.9h1.6M456.9 245.7h1.6M459.8 245.9h1.6M464.5 245.8h1.6M466.0 246.2h1.6M467.5 245.9h1.6M472.0 246.2h1.6M473.4 245.8h1.6M474.5 245.8h1.6M482.2 245.8h1.6M488.1 245.7h1.6M489.6 246.1h1.6M500.4 245.6h1.6M512.0 245.8h1.6M515.4 246.0h1.6M527.4 246.0h1.6M528.4 246.1h1.6M534.5 246.0h1.6M440.4 247.4h1.6M446.4 247.2h1.6M447.9 247.1h1.6M449.5 247.5h1.6M458.3 247.4h1.6M459.8 247.6h1.6M465.8 247.5h1.6M470.0 247.6h1.6M476.4 247.3h1.6M477.7 247.6h1.6M480.8 247.5h1.6M486.8 247.3h1.6M488.1 247.1h1.6M489.6 247.3h1.6M498.5 247.5h1.6M501.6 247.5h1.6M503.2 247.1h1.6M504.6 247.4h1.6M506.4 247.2h1.6M512.0 247.4h1.6M513.9 247.1h1.6M516.6 247.4h1.6M519.7 247.6h1.6M533.1 247.4h1.6M428.3 248.8h1.6M435.7 248.9h1.6M443.1 249.1h1.6M444.8 248.6h1.6M453.4 248.8h1.6M455.5 248.7h1.6M461.0 248.6h1.6M464.0 248.8h1.6M468.7 249.0h1.6M474.5 248.7h1.6M476.2 249.1h1.6M479.4 249.0h1.6M483.4 249.0h1.6M486.6 249.1h1.6M488.1 248.9h1.6M492.9 248.9h1.6M493.9 248.9h1.6M495.7 248.8h1.6M500.3 249.1h1.6M501.7 249.1h1.6M511.9 248.7h1.6M519.5 249.1h1.6M522.8 248.6h1.6M527.5 248.8h1.6M530.1 249.0h1.6M429.5 250.2h1.6M434.1 250.4h1.6M441.6 250.2h1.6M447.5 250.2h1.6M450.8 250.4h1.6M452.5 250.6h1.6M455.3 250.5h1.6M465.7 250.3h1.6M467.4 250.2h1.6M468.5 250.6h1.6M470.0 250.2h1.6M474.9 250.4h1.6M478.0 250.7h1.6M480.6 250.5h1.6M491.0 250.5h1.6M497.4 250.5h1.6M498.6 250.4h1.6M503.2 250.4h1.6M507.7 250.6h1.6M516.8 250.1h1.6M525.7 250.4h1.6M537.9 250.5h1.6M428.4 251.6h1.6M435.4 251.7h1.6M436.9 251.9h1.6M440.1 251.6h1.6M444.5 251.9h1.6M446.0 252.2h1.6M450.4 251.7h1.6M458.1 251.8h1.6M465.9 252.0h1.6M467.5 252.0h1.6M468.8 252.1h1.6M469.9 252.2h1.6M474.9 252.1h1.6M477.8 251.7h1.6M479.4 252.2h1.6M480.4 252.2h1.6M488.2 251.9h1.6M501.9 251.8h1.6M506.4 252.1h1.6M509.3 252.1h1.6M521.5 251.9h1.6M522.4 251.7h1.6M540.6 252.1h1.6M560.5 252.1h1.6M426.5 253.5h1.6M438.8 253.3h1.6M441.4 253.2h1.6M449.3 253.3h1.6M452.0 253.3h1.6M453.6 253.3h1.6M456.9 253.4h1.6M461.2 253.6h1.6M462.4 253.2h1.6M465.6 253.7h1.6M468.6 253.3h1.6M473.2 253.1h1.6M474.8 253.2h1.6M475.9 253.4h1.6M482.1 253.1h1.6M488.0 253.4h1.6M489.9 253.2h1.6M498.8 253.7h1.6M502.0 253.4h1.6M507.7 253.6h1.6M517.0 253.4h1.6M518.3 253.3h1.6M519.8 253.3h1.6M522.4 253.7h1.6M537.9 253.2h1.6M432.9 254.8h1.6M434.3 254.8h1.6M440.1 255.1h1.6M444.9 255.1h1.6M446.0 254.9h1.6M447.7 254.8h1.6M449.4 255.0h1.6M456.6 254.8h1.6M458.4 255.0h1.6M462.9 254.9h1.6M476.4 254.9h1.6M485.2 254.6h1.6M486.9 254.8h1.6M491.3 255.2h1.6M497.4 254.8h1.6M500.1 254.7h1.6M510.5 255.0h1.6M513.8 255.0h1.6M522.4 254.9h1.6M527.4 254.9h1.6M534.5 254.8h1.6M587.2 255.0h1.6M440.4 256.3h1.6M441.9 256.6h1.6M443.2 256.7h1.6M450.8 256.6h1.6M453.5 256.5h1.6M456.7 256.2h1.6M459.4 256.4h1.6M466.0 256.3h1.6M468.8 256.4h1.6M470.1 256.4h1.6M473.2 256.6h1.6M479.1 256.3h1.6M483.8 256.7h1.6M484.9 256.6h1.6M486.5 256.1h1.6M488.0 256.6h1.6M491.3 256.4h1.6M492.7 256.5h1.6M495.8 256.4h1.6M497.0 256.3h1.6M498.9 256.3h1.6M509.3 256.6h1.6M511.9 256.6h1.6M513.5 256.2h1.6M518.5 256.2h1.6M522.5 256.4h1.6M530.2 256.3h1.6M531.8 256.3h1.6M428.3 257.9h1.6M429.9 257.6h1.6M432.9 258.2h1.6M437.0 258.0h1.6M440.0 258.1h1.6M443.1 257.7h1.6M444.4 258.2h1.6M446.1 257.6h1.6M447.4 257.8h1.6M449.0 257.7h1.6M450.7 257.9h1.6M455.3 258.1h1.6M456.8 257.8h1.6M458.1 257.8h1.6M465.5 257.8h1.6M474.4 257.9h1.6M479.2 258.1h1.6M482.4 257.7h1.6M485.5 257.9h1.6M488.3 257.8h1.6M491.2 257.8h1.6M492.8 258.1h1.6M495.7 258.1h1.6M497.0 257.8h1.6M503.1 258.1h1.6M504.8 257.7h1.6M506.5 257.9h1.6M509.2 257.8h1.6M510.7 257.7h1.6M429.8 259.2h1.6M437.1 259.5h1.6M439.0 259.6h1.6M440.3 259.5h1.6M446.0 259.6h1.6M447.9 259.4h1.6M449.4 259.3h1.6M453.8 259.1h1.6M462.9 259.1h1.6M464.1 259.3h1.6M467.2 259.3h1.6M472.0 259.7h1.6M475.0 259.4h1.6M479.2 259.1h1.6M480.9 259.4h1.6M482.2 259.5h1.6M484.0 259.4h1.6M485.4 259.3h1.6M488.0 259.6h1.6M493.9 259.4h1.6M503.2 259.1h1.6M510.5 259.7h1.6M537.8 259.5h1.6M426.5 261.1h1.6M428.1 260.9h1.6M435.5 261.1h1.6M440.0 260.8h1.6M441.6 261.0h1.6M447.6 260.9h1.6M456.9 260.9h1.6M458.5 260.9h1.6M464.0 261.1h1.6M467.4 261.1h1.6M469.0 260.7h1.6M473.3 260.7h1.6M479.1 261.0h1.6M489.7 260.9h1.6M492.6 261.1h1.6M498.6 260.8h1.6M503.4 261.0h1.6M509.0 261.0h1.6M428.2 262.6h1.6M431.4 262.4h1.6M432.9 262.5h1.6M435.6 262.4h1.6M437.2 262.6h1.6M441.6 262.6h1.6M445.0 262.1h1.6M449.2 262.3h1.6M455.4 262.3h1.6M458.0 262.5h1.6M461.3 262.2h1.6M465.7 262.4h1.6M467.5 262.5h1.6M470.3 262.2h1.6M473.3 262.2h1.6M474.5 262.5h1.6M476.4 262.7h1.6M479.0 262.6h1.6M482.5 262.6h1.6M485.1 262.2h1.6M491.1 262.6h1.6M492.5 262.5h1.6M493.9 262.4h1.6M501.5 262.6h1.6M505.0 262.1h1.6M510.8 262.3h1.6M512.0 262.6h1.6M533.0 262.3h1.6M582.5 262.2h1.6M426.5 263.8h1.6M434.4 263.9h1.6M435.8 264.0h1.6M438.5 264.1h1.6M444.5 264.0h1.6M447.9 264.0h1.6M449.0 263.9h1.6M452.5 264.1h1.6M458.4 263.9h1.6M462.7 264.1h1.6M465.9 263.6h1.6M473.2 264.1h1.6M474.6 264.2h1.6M486.7 263.8h1.6M488.2 264.0h1.6M496.0 263.9h1.6M497.0 263.7h1.6M504.7 264.0h1.6M506.3 264.2h1.6M428.1 265.4h1.6M438.9 265.7h1.6M441.4 265.5h1.6M444.7 265.6h1.6M446.2 265.3h1.6M453.5 265.5h1.6M458.3 265.5h1.6M462.4 265.1h1.6M464.3 265.1h1.6M468.7 265.3h1.6M470.1 265.4h1.6M480.6 265.3h1.6M482.0 265.3h1.6M483.9 265.6h1.6M491.1 265.4h1.6M492.7 265.4h1.6M494.4 265.4h1.6M501.6 265.4h1.6M507.6 265.3h1.6M545.1 265.2h1.6M426.8 266.8h1.6M434.0 266.8h1.6M437.4 266.7h1.6M439.0 267.1h1.6M441.7 267.0h1.6M452.4 266.8h1.6M461.2 266.7h1.6M465.4 266.8h1.6M467.3 266.8h1.6M470.0 266.6h1.6M474.7 266.9h1.6M484.0 267.1h1.6M485.0 267.0h1.6M494.0 266.8h1.6M495.4 266.7h1.6M503.0 266.7h1.6M507.8 266.9h1.6M430.0 268.5h1.6M433.0 268.7h1.6M437.0 268.4h1.6M438.5 268.6h1.6M443.4 268.4h1.6M447.8 268.3h1.6M450.7 268.3h1.6M453.7 268.4h1.6M461.1 268.6h1.6M462.5 268.4h1.6M464.2 268.2h1.6M470.0 268.5h1.6M471.8 268.5h1.6M473.0 268.3h1.6M474.6 268.3h1.6M480.8 268.6h1.6M482.3 268.3h1.6M485.4 268.5h1.6M486.7 268.2h1.6M488.0 268.6h1.6M489.5 268.5h1.6M494.0 268.7h1.6M500.1 268.6h1.6M503.1 268.6h1.6M509.2 268.5h1.6M433.0 270.0h1.6M436.9 269.7h1.6M439.9 270.2h1.6M446.3 269.9h1.6M449.4 270.1h1.6M451.0 269.6h1.6M452.1 270.0h1.6M453.4 270.1h1.6M455.3 269.8h1.6M464.3 269.8h1.6M465.5 270.1h1.6M468.7 269.8h1.6M471.7 270.1h1.6M477.6 269.9h1.6M479.0 269.8h1.6M482.4 270.1h1.6M488.3 269.9h1.6M489.6 270.0h1.6M498.5 270.2h1.6M501.5 269.7h1.6M507.9 270.0h1.6M426.6 271.4h1.6M428.4 271.2h1.6M435.6 271.3h1.6M442.0 271.4h1.6M444.9 271.2h1.6M447.5 271.3h1.6M452.2 271.1h1.6M455.1 271.5h1.6M458.3 271.4h1.6M464.5 271.6h1.6M465.5 271.2h1.6M467.0 271.3h1.6M476.0 271.4h1.6M480.4 271.4h1.6M485.3 271.3h1.6M486.7 271.3h1.6M492.5 271.6h1.6M497.1 271.3h1.6M506.0 271.6h1.6M513.7 271.4h1.6M549.6 271.1h1.6M426.5 273.0h1.6M431.4 273.0h1.6M434.0 272.7h1.6M435.8 272.6h1.6M438.7 272.9h1.6M443.2 272.7h1.6M447.5 273.1h1.6M449.0 273.0h1.6M452.2 272.7h1.6M458.4 272.9h1.6M460.0 272.9h1.6M461.0 273.2h1.6M464.3 272.7h1.6M467.3 273.2h1.6M470.2 272.6h1.6M472.9 272.9h1.6M476.0 272.7h1.6M478.0 272.8h1.6M482.2 272.8h1.6M485.4 272.8h1.6M491.3 272.7h1.6M492.7 273.0h1.6M494.0 272.7h1.6M495.6 273.2h1.6M497.2 272.8h1.6M430.0 274.4h1.6M437.0 274.2h1.6M438.8 274.5h1.6M440.4 274.4h1.6M441.7 274.7h1.6M443.4 274.7h1.6M444.7 274.5h1.6M449.3 274.5h1.6M453.5 274.6h1.6M456.7 274.7h1.6M462.8 274.5h1.6M467.3 274.5h1.6M468.8 274.6h1.6M471.5 274.3h1.6M473.4 274.7h1.6M474.7 274.6h1.6M476.0 274.1h1.6M477.9 274.2h1.6M485.1 274.1h1.6M486.6 274.3h1.6M491.0 274.1h1.6M494.2 274.1h1.6M495.4 274.6h1.6M498.8 274.5h1.6M499.9 274.1h1.6M426.7 276.1h1.6M428.3 275.8h1.6M429.8 275.9h1.6M431.3 276.0h1.6M440.2 275.7h1.6M441.6 275.7h1.6M446.4 275.9h1.6M450.8 275.6h1.6M455.1 275.7h1.6M458.4 276.1h1.6M477.6 275.9h1.6M483.8 275.7h1.6M492.7 275.6h1.6M497.2 275.6h1.6M500.2 275.8h1.6M501.5 276.0h1.6M512.2 276.1h1.6M428.3 277.4h1.6M431.2 277.5h1.6M432.5 277.6h1.6M437.3 277.4h1.6M438.8 277.1h1.6M440.5 277.6h1.6M443.2 277.5h1.6M444.7 277.6h1.6M446.1 277.5h1.6M455.2 277.5h1.6M464.0 277.5h1.6M467.4 277.1h1.6M468.7 277.7h1.6M473.1 277.3h1.6M480.6 277.6h1.6M482.4 277.5h1.6M483.7 277.6h1.6M488.0 277.3h1.6M429.5 279.0h1.6M434.1 278.9h1.6M435.6 279.1h1.6M443.2 278.6h1.6M449.0 278.8h1.6M456.7 278.6h1.6M457.9 278.9h1.6M459.5 279.0h1.6M464.5 279.1h1.6M467.5 278.9h1.6M468.5 278.9h1.6M471.7 279.1h1.6M474.4 279.1h1.6M479.4 279.2h1.6M494.3 279.0h1.6M495.6 279.0h1.6M503.0 278.9h1.6M428.4 280.4h1.6M432.6 280.4h1.6M438.9 280.5h1.6M440.1 280.2h1.6M442.0 280.3h1.6M444.5 280.3h1.6M448.0 280.2h1.6M449.0 280.2h1.6M451.0 280.1h1.6M458.4 280.6h1.6M459.8 280.4h1.6M463.9 280.7h1.6M467.1 280.1h1.6M472.0 280.1h1.6M473.2 280.3h1.6M484.9 280.6h1.6M492.8 280.2h1.6M433.9 281.9h1.6M435.8 282.1h1.6M440.4 282.1h1.6M443.3 282.1h1.6M444.7 282.0h1.6M447.7 282.2h1.6M448.9 281.6h1.6M450.5 282.0h1.6M452.1 282.0h1.6M458.2 281.9h1.6M459.9 282.1h1.6M463.0 281.8h1.6M464.3 282.1h1.6M468.9 281.9h1.6M470.1 281.7h1.6M473.2 282.0h1.6M474.4 282.0h1.6M479.4 282.2h1.6M482.4 281.8h1.6M485.0 282.0h1.6M492.8 281.9h1.6M503.5 282.1h1.6M504.7 281.8h1.6M428.0 283.5h1.6M430.0 283.6h1.6M431.0 283.2h1.6M434.2 283.2h1.6M435.5 283.6h1.6M443.4 283.6h1.6M459.6 283.4h1.6M461.5 283.2h1.6M464.5 283.2h1.6M469.9 283.2h1.6M471.9 283.3h1.6M474.4 283.6h1.6M476.4 283.3h1.6M479.5 283.6h1.6M482.1 283.6h1.6M489.5 283.7h1.6M491.2 283.4h1.6M503.3 283.1h1.6M426.5 285.2h1.6M429.4 284.8h1.6M431.3 285.2h1.6M432.6 284.7h1.6M437.3 284.8h1.6M438.8 285.2h1.6M441.5 284.7h1.6M445.0 285.0h1.6M452.2 285.0h1.6M453.7 285.0h1.6M455.3 285.2h1.6M456.6 284.6h1.6M458.0 284.7h1.6M459.6 284.8h1.6M461.3 284.7h1.6M464.2 285.1h1.6M468.8 285.0h1.6M470.4 285.0h1.6M483.5 284.8h1.6M492.9 285.0h1.6M428.1 286.2h1.6M431.5 286.6h1.6M432.4 286.3h1.6M436.9 286.3h1.6M449.3 286.7h1.6M452.3 286.5h1.6M455.4 286.6h1.6M458.4 286.4h1.6M459.7 286.5h1.6M460.9 286.3h1.6M464.3 286.5h1.6M467.1 286.2h1.6M471.8 286.4h1.6M476.1 286.5h1.6M485.2 286.7h1.6M486.9 286.3h1.6M498.6 286.7h1.6M426.7 287.8h1.6M429.5 287.8h1.6M437.2 288.1h1.6M443.4 288.1h1.6M446.1 287.6h1.6M447.7 287.6h1.6M452.5 288.0h1.6M458.2 288.0h1.6M459.7 287.8h1.6M462.7 287.6h1.6M480.4 287.6h1.6M482.4 287.9h1.6M483.9 287.6h1.6M492.5 288.0h1.6M494.0 287.8h1.6M428.0 289.6h1.6M430.9 289.3h1.6M434.2 289.4h1.6M435.6 289.3h1.6M437.3 289.3h1.6M438.4 289.3h1.6M440.3 289.2h1.6M443.2 289.6h1.6M444.5 289.4h1.6M446.3 289.1h1.6M447.6 289.5h1.6M450.6 289.2h1.6M456.5 289.2h1.6M462.8 289.6h1.6M507.4 289.1h1.6M427.0 290.7h1.6M428.0 290.7h1.6M429.9 291.1h1.6M431.0 290.6h1.6M432.4 291.1h1.6M440.1 291.1h1.6M441.7 291.0h1.6M443.1 290.6h1.6M448.9 290.7h1.6M457.9 290.9h1.6M461.1 290.9h1.6M462.9 290.8h1.6M465.6 290.6h1.6M468.7 290.9h1.6M470.2 290.7h1.6M471.6 290.9h1.6M474.6 291.0h1.6M479.3 290.7h1.6M485.3 291.1h1.6M492.5 291.0h1.6M506.1 290.7h1.6M426.5 292.5h1.6M429.9 292.6h1.6M441.6 292.6h1.6M444.7 292.3h1.6M449.3 292.6h1.6M450.8 292.2h1.6M455.1 292.1h1.6M462.7 292.5h1.6M467.1 292.4h1.6M470.3 292.6h1.6M477.5 292.4h1.6M480.5 292.2h1.6M482.4 292.7h1.6M428.5 293.6h1.6M429.8 293.7h1.6M438.7 294.1h1.6M440.0 293.8h1.6M441.9 293.7h1.6M447.5 293.9h1.6M449.2 294.1h1.6M454.0 293.8h1.6M455.2 293.7h1.6M459.8 293.8h1.6M467.5 293.9h1.6M468.6 293.9h1.6M494.2 294.1h1.6M495.7 293.9h1.6M429.8 295.6h1.6M432.9 295.2h1.6M435.6 295.4h1.6M437.5 295.3h1.6M449.2 295.2h1.6M453.5 295.3h1.6M455.2 295.3h1.6M458.5 295.2h1.6M461.4 295.3h1.6M464.4 295.6h1.6M470.4 295.4h1.6M473.5 295.5h1.6M476.1 295.4h1.6M428.0 296.9h1.6M434.4 296.7h1.6M439.9 296.7h1.6M444.9 296.7h1.6M447.9 296.8h1.6M449.1 296.9h1.6M455.2 296.6h1.6M461.3 297.0h1.6M462.6 297.1h1.6M464.4 297.1h1.6M473.2 297.1h1.6M435.9 298.4h1.6M441.6 298.2h1.6M443.2 298.6h1.6M446.4 298.7h1.6M449.3 298.5h1.6M451.9 298.4h1.6M453.8 298.3h1.6M459.4 298.3h1.6M462.5 298.4h1.6M464.2 298.2h1.6M465.5 298.4h1.6M470.1 298.5h1.6M474.6 298.3h1.6M483.7 298.7h1.6M427.0 300.2h1.6M432.8 299.7h1.6M437.0 300.0h1.6M441.8 300.2h1.6M444.8 300.1h1.6M446.0 299.9h1.6M450.7 299.8h1.6M452.0 299.7h1.6M453.5 300.1h1.6M458.1 299.6h1.6M467.4 300.2h1.6M476.0 299.9h1.6M483.8 299.8h1.6M426.7 301.2h1.6M435.9 301.6h1.6M440.1 301.5h1.6M441.8 301.3h1.6M444.4 301.4h1.6M449.0 301.5h1.6M455.1 301.7h1.6M465.7 301.6h1.6M509.3 301.2h1.6" stroke="#2e32a4" stroke-width="1.6" fill="none"/>
<path d="M624.7 129.1h1.6M609.5 136.2h1.6M612.7 139.2h1.6M615.7 139.5h1.6M611.4 140.9h1.6M612.5 140.7h1.6M618.4 141.1h1.6M621.6 142.5h1.6M608.4 144.0h1.6M605.0 145.6h1.6M606.9 145.4h1.6M617.3 146.6h1.6M602.2 149.6h1.6M617.1 149.7h1.6M615.5 151.2h1.6M609.9 152.8h1.6M598.9 154.4h1.6M585.7 157.4h1.6M588.7 157.3h1.6M610.0 157.3h1.6M624.6 157.1h1.6M605.3 159.0h1.6M577.9 160.3h1.6M611.1 162.0h1.6M566.0 164.8h1.6M545.4 171.0h1.6M537.9 179.8h1.6M506.0 203.8h1.6M470.3 211.5h1.6M458.4 215.8h1.6M466.0 220.2h1.6M452.3 233.6h1.6M537.5 233.8h1.6M443.5 235.3h1.6M443.1 241.6h1.6M428.0 244.1h1.6M433.9 244.5h1.6M434.4 247.6h1.6M442.0 247.5h1.6M517.0 251.9h1.6M427.9 255.0h1.6M507.8 268.2h1.6M512.2 270.1h1.6M503.3 271.5h1.6M509.3 279.0h1.6M501.8 285.1h1.6M467.4 296.7h1.6M470.0 297.1h1.6M472.9 299.9h1.6" stroke="#2e34a7" stroke-width="1.6" fill="none"/>
<path d="M608.1 151.6h1.6M593.0 155.6h1.6M597.4 157.1h1.6M584.2 158.9h1.6M587.1 158.8h1.6M586.9 160.3h1.6M603.5 160.2h1.6M578.2 162.1h1.6M597.9 161.6h1.6M575.1 163.6h1.6M606.9 163.4h1.6M564.6 166.3h1.6M557.1 170.9h1.6M602.3 172.3h1.6M605.5 173.9h1.6M546.8 175.2h1.6M602.0 179.8h1.6M600.7 181.3h1.6M533.4 184.5h1.6M597.8 186.1h1.6M530.0 187.4h1.6M597.4 188.7h1.6M594.6 190.4h1.6M525.5 191.7h1.6M527.3 191.7h1.6M524.4 194.8h1.6M518.2 198.1h1.6M518.0 199.2h1.6M586.0 199.7h1.6M584.1 202.4h1.6M510.8 204.0h1.6M510.8 207.2h1.6M498.9 208.1h1.6M485.3 210.1h1.6M503.3 213.1h1.6M497.0 214.1h1.6M504.9 214.2h1.6M494.3 215.9h1.6M497.4 217.1h1.6M565.0 217.3h1.6M479.1 218.8h1.6M480.5 218.9h1.6M491.5 219.1h1.6M498.9 218.8h1.6M562.9 218.7h1.6M473.5 220.4h1.6M475.0 220.6h1.6M495.7 220.1h1.6M497.4 220.7h1.6M557.3 220.4h1.6M473.1 221.8h1.6M480.6 221.7h1.6M476.1 223.6h1.6M482.2 223.5h1.6M553.0 225.1h1.6M468.7 226.4h1.6M476.4 226.4h1.6M548.5 226.1h1.6M465.7 227.8h1.6M461.4 230.7h1.6M482.3 230.7h1.6M534.7 232.1h1.6M458.5 233.8h1.6M530.4 234.1h1.6M456.9 235.4h1.6M462.7 235.5h1.6M465.8 235.3h1.6M525.7 235.5h1.6M499.0 237.0h1.6M515.0 238.1h1.6M457.9 239.7h1.6M444.8 241.4h1.6M445.9 241.7h1.6M444.8 243.1h1.6M450.9 242.7h1.6M459.7 243.1h1.6M512.4 242.8h1.6M447.9 244.4h1.6M512.0 244.4h1.6M513.6 244.2h1.6M515.3 244.3h1.6M518.2 244.6h1.6M503.3 246.0h1.6M435.6 247.6h1.6M434.1 249.2h1.6M437.2 248.7h1.6M503.0 251.9h1.6M512.3 251.7h1.6M443.4 253.7h1.6M500.1 256.6h1.6M510.7 256.1h1.6M438.6 257.9h1.6M498.8 258.1h1.6M500.3 258.0h1.6M494.2 261.0h1.6M495.5 261.0h1.6M497.1 260.6h1.6M500.1 261.1h1.6M429.7 262.6h1.6M498.8 262.6h1.6M504.8 265.3h1.6M498.8 267.1h1.6M496.0 268.7h1.6M501.8 268.2h1.6M494.3 270.1h1.6M495.6 269.7h1.6M484.0 274.6h1.6M488.0 276.1h1.6M483.9 278.6h1.6M485.0 278.9h1.6M483.5 280.5h1.6M480.5 281.8h1.6M478.0 283.1h1.6M474.7 286.5h1.6M480.6 286.2h1.6M465.7 299.6h1.6M462.5 301.6h1.6M467.3 301.2h1.6" stroke="#2f38ac" stroke-width="1.6" fill="none"/>
<path d="M585.8 160.3h1.6M593.4 160.1h1.6M596.0 160.7h1.6M599.1 160.6h1.6M582.6 161.9h1.6M592.0 162.1h1.6M594.9 161.9h1.6M596.5 162.1h1.6M582.6 163.6h1.6M593.2 163.2h1.6M572.0 164.6h1.6M598.9 164.7h1.6M567.7 166.3h1.6M570.9 166.4h1.6M602.1 166.2h1.6M565.0 168.1h1.6M599.2 167.8h1.6M600.7 167.8h1.6M563.0 169.4h1.6M599.1 169.4h1.6M559.9 171.0h1.6M563.0 170.8h1.6M602.0 170.9h1.6M552.7 173.9h1.6M600.6 174.0h1.6M602.3 175.6h1.6M597.4 178.6h1.6M599.0 178.3h1.6M599.5 179.7h1.6M540.8 181.5h1.6M542.0 181.4h1.6M537.6 182.9h1.6M597.8 182.9h1.6M537.8 184.1h1.6M531.8 189.0h1.6M526.0 193.4h1.6M522.8 198.1h1.6M582.9 202.4h1.6M510.8 208.2h1.6M505.9 211.6h1.6M509.3 212.8h1.6M500.2 215.7h1.6M504.6 217.7h1.6M560.2 218.7h1.6M501.5 220.4h1.6M483.9 222.0h1.6M485.5 223.5h1.6M492.8 223.1h1.6M494.5 223.2h1.6M495.4 223.3h1.6M491.4 225.1h1.6M548.3 224.6h1.6M479.2 226.5h1.6M482.0 226.3h1.6M491.1 226.2h1.6M498.7 226.6h1.6M546.7 226.7h1.6M490.9 228.2h1.6M473.3 229.4h1.6M476.1 229.4h1.6M479.0 229.1h1.6M489.4 229.6h1.6M492.6 229.4h1.6M501.8 229.2h1.6M466.9 231.0h1.6M477.6 231.0h1.6M480.6 231.0h1.6M488.3 230.9h1.6M489.9 230.9h1.6M474.6 232.2h1.6M488.0 232.5h1.6M501.6 232.1h1.6M528.8 232.6h1.6M531.6 232.4h1.6M467.2 234.2h1.6M470.0 233.9h1.6M489.6 233.9h1.6M506.3 234.1h1.6M509.4 233.7h1.6M516.7 233.8h1.6M522.6 233.7h1.6M464.3 235.6h1.6M476.2 235.4h1.6M477.9 235.5h1.6M506.1 235.4h1.6M512.0 235.3h1.6M519.5 235.2h1.6M459.7 237.2h1.6M461.4 236.6h1.6M467.4 236.8h1.6M500.3 236.6h1.6M502.0 237.0h1.6M506.2 236.8h1.6M515.0 237.0h1.6M467.2 238.4h1.6M472.9 238.1h1.6M498.8 238.2h1.6M509.4 238.2h1.6M510.9 238.5h1.6M513.5 238.4h1.6M465.8 239.9h1.6M504.6 239.6h1.6M512.5 239.9h1.6M452.1 241.5h1.6M459.7 241.6h1.6M497.5 241.4h1.6M504.6 241.4h1.6M507.7 241.5h1.6M512.1 241.7h1.6M449.2 242.9h1.6M491.0 243.1h1.6M510.8 243.0h1.6M449.0 244.1h1.6M450.6 244.5h1.6M462.5 244.3h1.6M449.0 245.8h1.6M496.0 245.8h1.6M501.9 245.9h1.6M452.3 247.1h1.6M491.5 248.8h1.6M507.6 249.0h1.6M446.1 250.6h1.6M449.4 250.2h1.6M495.9 250.5h1.6M500.0 250.2h1.6M509.4 250.2h1.6M447.5 252.0h1.6M483.4 253.3h1.6M495.6 253.6h1.6M438.5 255.1h1.6M459.9 254.8h1.6M495.7 255.1h1.6M501.8 255.2h1.6M449.0 256.7h1.6M489.4 259.3h1.6M491.0 259.5h1.6M443.0 261.0h1.6M446.4 260.7h1.6M450.7 260.8h1.6M483.9 260.7h1.6M440.4 262.2h1.6M437.1 264.0h1.6M494.5 263.7h1.6M474.6 265.6h1.6M477.6 265.3h1.6M428.0 267.0h1.6M429.7 266.9h1.6M479.4 267.2h1.6M488.4 267.0h1.6M431.3 270.0h1.6M435.6 269.7h1.6M481.0 273.1h1.6M480.5 274.5h1.6M475.0 276.1h1.6M480.8 276.1h1.6M477.4 277.7h1.6M476.0 278.9h1.6M476.5 281.8h1.6M473.1 283.1h1.6M470.4 286.4h1.6M473.0 286.7h1.6M459.5 295.5h1.6M462.8 295.4h1.6M452.3 296.9h1.6M450.6 301.6h1.6" stroke="#2f3cb2" stroke-width="1.6" fill="none"/>
<path d="M586.0 161.9h1.6M587.4 163.3h1.6M591.8 163.3h1.6M588.6 164.7h1.6M591.8 164.9h1.6M593.4 164.8h1.6M576.6 166.5h1.6M591.8 166.6h1.6M596.1 166.7h1.6M573.5 168.2h1.6M566.2 169.4h1.6M557.3 172.7h1.6M600.6 172.1h1.6M556.0 173.7h1.6M559.0 173.6h1.6M548.3 176.8h1.6M549.5 176.7h1.6M596.0 177.1h1.6M596.4 178.1h1.6M543.5 181.1h1.6M596.4 181.7h1.6M596.0 182.6h1.6M593.4 187.2h1.6M594.9 187.3h1.6M591.7 188.9h1.6M593.3 189.0h1.6M528.8 192.1h1.6M530.2 191.8h1.6M527.2 193.2h1.6M525.4 195.0h1.6M518.2 202.3h1.6M516.8 205.2h1.6M578.0 205.6h1.6M513.7 207.0h1.6M573.6 207.1h1.6M509.0 211.5h1.6M510.7 211.4h1.6M512.2 212.7h1.6M509.0 214.2h1.6M561.8 214.5h1.6M507.6 216.0h1.6M510.8 216.0h1.6M561.8 216.2h1.6M563.2 215.7h1.6M561.8 217.5h1.6M504.6 218.7h1.6M503.1 223.3h1.6M541.9 223.3h1.6M546.9 223.4h1.6M504.8 224.9h1.6M546.9 224.8h1.6M542.3 226.1h1.6M482.0 228.1h1.6M488.3 227.7h1.6M500.4 228.0h1.6M504.8 228.0h1.6M515.2 228.1h1.6M533.3 227.7h1.6M537.7 228.1h1.6M540.9 228.1h1.6M488.0 229.6h1.6M495.9 229.7h1.6M513.6 229.6h1.6M531.6 229.5h1.6M533.0 229.1h1.6M527.2 231.0h1.6M528.9 230.9h1.6M531.4 230.7h1.6M471.8 232.6h1.6M479.3 232.2h1.6M482.5 232.6h1.6M484.9 232.3h1.6M498.7 232.3h1.6M518.0 232.5h1.6M519.6 232.5h1.6M471.6 234.1h1.6M473.4 233.9h1.6M479.1 234.2h1.6M482.4 233.8h1.6M486.4 234.1h1.6M498.5 234.1h1.6M503.3 234.1h1.6M519.7 233.8h1.6M501.6 235.4h1.6M509.0 235.2h1.6M472.0 236.7h1.6M473.0 236.9h1.6M486.6 236.8h1.6M497.4 236.9h1.6M504.4 236.9h1.6M512.1 236.7h1.6M475.0 238.5h1.6M482.2 238.2h1.6M488.2 238.2h1.6M492.9 238.4h1.6M462.4 240.1h1.6M471.7 239.8h1.6M488.0 239.6h1.6M464.3 241.6h1.6M467.3 241.6h1.6M469.0 241.2h1.6M474.7 241.3h1.6M476.4 241.3h1.6M486.6 241.3h1.6M492.6 241.5h1.6M494.5 241.5h1.6M461.3 242.7h1.6M465.5 242.9h1.6M472.0 242.9h1.6M474.7 243.0h1.6M479.2 242.8h1.6M497.4 242.8h1.6M465.5 244.4h1.6M485.3 244.2h1.6M488.2 244.5h1.6M489.5 244.2h1.6M491.3 244.6h1.6M497.2 244.5h1.6M498.9 244.2h1.6M504.4 244.3h1.6M462.8 246.2h1.6M468.6 246.2h1.6M476.5 246.0h1.6M479.2 245.9h1.6M480.7 246.0h1.6M483.9 246.1h1.6M486.7 245.7h1.6M491.5 245.9h1.6M493.9 246.2h1.6M497.1 246.2h1.6M457.0 247.1h1.6M461.3 247.7h1.6M462.8 247.6h1.6M474.8 247.6h1.6M482.2 247.5h1.6M483.6 247.4h1.6M485.3 247.2h1.6M452.2 249.1h1.6M458.2 249.1h1.6M462.9 249.1h1.6M465.4 249.0h1.6M489.9 248.8h1.6M497.1 249.0h1.6M458.3 250.5h1.6M483.6 250.2h1.6M492.6 250.1h1.6M456.5 252.0h1.6M471.7 251.7h1.6M498.8 251.8h1.6M450.7 253.6h1.6M470.3 253.5h1.6M485.0 253.6h1.6M492.8 253.4h1.6M494.3 253.4h1.6M450.5 254.6h1.6M471.9 255.0h1.6M488.3 255.0h1.6M489.5 255.2h1.6M492.4 254.9h1.6M494.4 254.8h1.6M444.9 256.2h1.6M471.7 256.4h1.6M476.5 256.3h1.6M482.0 256.1h1.6M453.5 257.9h1.6M461.4 257.7h1.6M487.0 258.1h1.6M442.0 259.2h1.6M443.3 259.6h1.6M444.7 259.5h1.6M450.6 259.4h1.6M451.9 259.4h1.6M473.4 259.5h1.6M486.7 259.2h1.6M449.0 261.0h1.6M465.6 261.1h1.6M477.7 260.7h1.6M482.0 260.7h1.6M438.5 262.1h1.6M447.8 262.5h1.6M483.6 262.3h1.6M441.6 264.1h1.6M450.8 264.2h1.6M461.3 264.0h1.6M463.9 263.6h1.6M476.2 263.6h1.6M483.6 264.2h1.6M485.2 263.7h1.6M437.3 265.2h1.6M440.1 265.2h1.6M443.5 265.3h1.6M449.5 265.4h1.6M450.5 265.3h1.6M479.2 265.2h1.6M435.5 267.2h1.6M453.8 266.6h1.6M456.5 266.9h1.6M462.7 267.2h1.6M471.8 266.9h1.6M476.1 266.9h1.6M440.3 268.5h1.6M483.9 268.5h1.6M438.9 269.6h1.6M443.1 269.8h1.6M474.5 269.6h1.6M432.7 271.3h1.6M434.3 271.2h1.6M468.8 271.2h1.6M470.3 271.6h1.6M472.0 271.1h1.6M483.5 271.4h1.6M432.8 273.0h1.6M432.7 274.4h1.6M435.7 274.6h1.6M464.2 274.5h1.6M481.9 274.7h1.6M435.6 276.0h1.6M470.5 276.1h1.6M473.4 275.9h1.6M479.4 276.0h1.6M426.6 277.4h1.6M470.2 277.2h1.6M472.0 277.3h1.6M426.6 278.7h1.6M438.4 278.8h1.6M429.6 280.3h1.6M431.2 280.4h1.6M463.0 280.7h1.6M465.8 280.3h1.6M428.4 281.9h1.6M461.0 281.9h1.6M465.9 282.0h1.6M467.0 281.9h1.6M462.9 283.3h1.6M467.1 284.8h1.6M427.0 286.6h1.6M464.2 288.2h1.6M461.3 289.2h1.6M464.4 289.2h1.6M458.2 292.2h1.6M456.7 295.5h1.6M450.5 298.6h1.6M456.9 298.2h1.6M446.5 301.4h1.6" stroke="#3040b7" stroke-width="1.6" fill="none"/>
<path d="M579.4 164.8h1.6M582.7 165.0h1.6M585.5 164.7h1.6M590.1 166.5h1.6M572.4 167.8h1.6M576.9 168.0h1.6M584.4 168.1h1.6M590.1 167.6h1.6M596.1 167.9h1.6M596.1 169.3h1.6M597.5 169.4h1.6M558.5 172.4h1.6M560.4 172.4h1.6M561.8 172.1h1.6M557.3 173.9h1.6M594.9 173.7h1.6M557.2 175.5h1.6M600.7 175.1h1.6M552.5 177.1h1.6M549.5 178.5h1.6M551.0 178.5h1.6M552.8 178.3h1.6M545.1 180.2h1.6M546.6 179.9h1.6M596.0 179.7h1.6M594.5 182.8h1.6M540.4 184.7h1.6M594.5 184.5h1.6M539.4 187.6h1.6M531.6 190.4h1.6M531.7 191.8h1.6M587.1 193.5h1.6M527.2 195.1h1.6M530.1 194.7h1.6M584.4 196.3h1.6M524.1 197.6h1.6M519.8 200.8h1.6M522.5 200.6h1.6M578.4 201.0h1.6M579.9 201.0h1.6M576.7 202.5h1.6M579.9 202.6h1.6M518.2 203.8h1.6M576.5 203.9h1.6M573.6 205.7h1.6M576.8 205.4h1.6M515.4 208.5h1.6M567.9 208.2h1.6M569.5 208.5h1.6M513.9 209.9h1.6M569.1 210.0h1.6M512.0 211.1h1.6M513.4 211.1h1.6M510.7 213.0h1.6M557.3 215.9h1.6M506.3 219.1h1.6M509.0 219.1h1.6M513.9 219.0h1.6M504.7 220.1h1.6M551.1 220.2h1.6M508.9 222.2h1.6M549.7 222.0h1.6M512.4 225.1h1.6M540.8 225.0h1.6M503.2 226.7h1.6M504.6 226.3h1.6M510.8 226.6h1.6M509.3 227.9h1.6M516.5 227.7h1.6M536.1 227.8h1.6M507.4 229.7h1.6M512.1 229.1h1.6M519.9 229.4h1.6M525.8 229.4h1.6M528.4 229.5h1.6M534.7 229.5h1.6M495.7 230.7h1.6M497.1 230.6h1.6M506.2 231.0h1.6M507.7 231.1h1.6M512.1 231.1h1.6M513.5 230.9h1.6M521.0 230.8h1.6M525.4 230.9h1.6M503.3 232.3h1.6M509.5 232.4h1.6M514.9 232.3h1.6M516.8 232.1h1.6M522.7 232.5h1.6M491.4 234.0h1.6M482.1 235.2h1.6M513.5 235.2h1.6M488.3 236.6h1.6M507.5 236.6h1.6M471.5 238.5h1.6M480.6 238.4h1.6M483.9 238.2h1.6M480.7 239.6h1.6M485.1 240.0h1.6M506.4 239.7h1.6M462.6 241.2h1.6M480.7 241.1h1.6M483.8 241.2h1.6M484.9 241.1h1.6M489.8 241.2h1.6M486.6 242.9h1.6M461.1 244.6h1.6M467.3 244.3h1.6M471.4 244.5h1.6M477.5 244.5h1.6M457.9 246.2h1.6M485.4 245.6h1.6M464.1 247.2h1.6M467.2 247.3h1.6M468.9 247.6h1.6M473.2 247.2h1.6M478.9 247.3h1.6M459.6 249.2h1.6M467.0 249.1h1.6M482.2 248.7h1.6M473.4 250.3h1.6M476.4 250.4h1.6M486.7 250.4h1.6M493.9 250.6h1.6M459.9 251.8h1.6M464.4 251.6h1.6M476.0 251.6h1.6M481.9 251.8h1.6M483.5 251.9h1.6M491.1 251.7h1.6M458.0 253.3h1.6M464.2 253.5h1.6M467.5 253.7h1.6M479.3 253.4h1.6M480.9 253.6h1.6M486.7 253.4h1.6M491.0 253.4h1.6M461.2 254.9h1.6M465.9 255.0h1.6M468.8 254.9h1.6M482.5 255.0h1.6M477.7 256.3h1.6M459.9 257.8h1.6M467.3 257.7h1.6M468.8 257.7h1.6M473.0 257.8h1.6M476.4 258.0h1.6M456.5 259.2h1.6M469.9 259.4h1.6M478.0 259.1h1.6M452.5 260.8h1.6M453.5 261.1h1.6M471.7 260.7h1.6M452.0 262.4h1.6M456.9 262.5h1.6M459.5 262.7h1.6M464.4 262.4h1.6M488.1 262.1h1.6M443.2 263.8h1.6M446.4 264.1h1.6M456.5 264.1h1.6M470.0 263.8h1.6M471.4 263.6h1.6M479.3 263.7h1.6M480.6 263.8h1.6M482.0 264.1h1.6M455.4 265.3h1.6M467.2 265.5h1.6M473.2 265.6h1.6M444.6 267.1h1.6M450.7 267.1h1.6M459.8 266.7h1.6M464.3 267.0h1.6M468.9 266.6h1.6M456.4 268.2h1.6M467.2 268.3h1.6M476.1 268.2h1.6M477.5 268.6h1.6M444.5 269.8h1.6M461.5 269.6h1.6M467.2 269.8h1.6M470.0 269.7h1.6M476.4 270.0h1.6M443.2 271.2h1.6M446.1 271.5h1.6M450.4 271.2h1.6M440.0 272.7h1.6M450.9 272.8h1.6M465.8 272.9h1.6M428.0 274.7h1.6M446.4 274.1h1.6M461.5 274.5h1.6M443.1 276.0h1.6M444.7 276.2h1.6M465.8 277.4h1.6M436.9 279.1h1.6M452.2 278.8h1.6M426.9 280.6h1.6M437.5 280.3h1.6M429.5 281.7h1.6M427.0 283.4h1.6M432.5 283.4h1.6M428.4 284.9h1.6M428.4 288.2h1.6M455.4 288.1h1.6M452.4 289.6h1.6M455.1 289.7h1.6M466.0 289.4h1.6M453.9 291.0h1.6M455.1 291.0h1.6M456.7 290.8h1.6M452.2 292.3h1.6M426.8 294.2h1.6M452.3 293.9h1.6M452.4 295.3h1.6M451.0 296.9h1.6M453.9 296.9h1.6M444.5 298.2h1.6M437.3 301.7h1.6M442.9 301.3h1.6" stroke="#3a52c0" stroke-width="1.6" fill="none"/>
<path d="M581.3 166.4h1.6M584.2 166.2h1.6M568.9 169.4h1.6M575.4 169.1h1.6M590.5 169.5h1.6M593.2 169.5h1.6M566.0 170.7h1.6M567.9 171.2h1.6M579.5 170.8h1.6M594.7 170.8h1.6M566.4 172.4h1.6M592.9 172.6h1.6M596.1 172.7h1.6M560.0 173.6h1.6M587.0 173.9h1.6M593.2 174.0h1.6M553.9 175.6h1.6M590.1 175.2h1.6M593.1 175.4h1.6M594.8 175.4h1.6M596.1 175.2h1.6M598.0 176.6h1.6M591.6 178.6h1.6M593.5 178.6h1.6M593.1 179.6h1.6M542.0 184.3h1.6M590.1 184.7h1.6M592.9 184.2h1.6M587.0 187.4h1.6M585.7 190.6h1.6M534.4 191.9h1.6M585.4 194.7h1.6M582.7 196.6h1.6M581.3 197.8h1.6M581.4 199.4h1.6M521.2 200.8h1.6M519.4 202.5h1.6M523.0 202.3h1.6M524.4 202.2h1.6M575.2 202.5h1.6M521.2 204.0h1.6M525.4 203.7h1.6M573.6 204.0h1.6M575.4 203.9h1.6M519.5 205.2h1.6M569.1 207.1h1.6M518.4 208.5h1.6M516.7 209.8h1.6M561.6 211.7h1.6M566.1 211.4h1.6M513.7 212.7h1.6M560.1 212.9h1.6M563.2 213.1h1.6M512.3 214.2h1.6M515.0 214.3h1.6M516.9 214.2h1.6M515.1 215.7h1.6M513.8 217.3h1.6M554.2 217.1h1.6M510.5 219.2h1.6M552.4 218.7h1.6M510.4 220.7h1.6M507.6 221.7h1.6M516.5 223.6h1.6M543.6 223.4h1.6M509.3 225.1h1.6M525.7 224.8h1.6M509.2 226.4h1.6M532.0 226.3h1.6M508.0 228.0h1.6M518.0 228.1h1.6M527.4 227.6h1.6M517.9 229.2h1.6M521.0 229.4h1.6M527.2 229.3h1.6M516.5 231.1h1.6M497.0 233.7h1.6M504.8 233.7h1.6M492.9 236.6h1.6M483.9 240.0h1.6M498.8 241.4h1.6M470.2 243.2h1.6M477.6 245.9h1.6M480.8 248.9h1.6M459.9 250.7h1.6M471.7 250.4h1.6M481.9 250.6h1.6M460.9 251.8h1.6M473.0 252.1h1.6M486.5 251.9h1.6M477.6 253.1h1.6M464.4 254.9h1.6M470.3 255.1h1.6M462.9 256.6h1.6M474.7 256.2h1.6M452.3 257.8h1.6M462.8 257.7h1.6M464.4 257.9h1.6M483.7 257.7h1.6M455.2 259.5h1.6M459.5 259.2h1.6M470.0 261.0h1.6M475.9 260.8h1.6M453.9 263.7h1.6M448.0 265.1h1.6M455.3 266.7h1.6M458.2 266.8h1.6M446.4 268.6h1.6M459.7 268.1h1.6M446.5 272.6h1.6M456.8 272.7h1.6M468.6 272.8h1.6M450.7 274.5h1.6M452.1 274.5h1.6M455.1 274.6h1.6M458.3 274.5h1.6M432.6 276.0h1.6M434.3 276.2h1.6M437.5 275.7h1.6M447.4 276.0h1.6M449.3 275.9h1.6M460.0 276.0h1.6M464.3 275.9h1.6M467.2 275.9h1.6M434.4 277.2h1.6M447.7 277.1h1.6M452.3 277.4h1.6M453.9 277.3h1.6M459.9 277.6h1.6M461.2 277.1h1.6M463.0 277.4h1.6M440.5 278.7h1.6M447.5 278.7h1.6M450.5 278.6h1.6M433.9 280.5h1.6M461.0 280.3h1.6M470.4 280.2h1.6M454.9 281.8h1.6M456.6 281.9h1.6M446.1 283.1h1.6M453.6 283.4h1.6M433.9 284.7h1.6M447.8 285.1h1.6M435.9 286.7h1.6M438.4 286.3h1.6M431.4 287.9h1.6M450.8 287.7h1.6M454.0 288.0h1.6M429.6 289.5h1.6M459.9 289.6h1.6M452.2 290.7h1.6M432.8 292.1h1.6M437.0 292.4h1.6M438.9 292.4h1.6M453.5 292.5h1.6M434.4 293.7h1.6M438.8 295.4h1.6M450.5 295.5h1.6M426.4 297.0h1.6M426.6 298.1h1.6M447.8 298.6h1.6M428.4 300.2h1.6M435.9 299.8h1.6M449.4 300.0h1.6M431.0 301.3h1.6" stroke="#4566c8" stroke-width="1.6" fill="none"/>
<path d="M575.1 167.8h1.6M586.9 168.2h1.6M572.4 169.3h1.6M574.0 169.6h1.6M581.2 169.4h1.6M584.3 169.1h1.6M588.8 169.4h1.6M572.2 170.6h1.6M573.6 170.8h1.6M588.9 171.2h1.6M596.0 171.0h1.6M597.6 170.9h1.6M563.4 172.4h1.6M564.7 172.2h1.6M576.4 172.4h1.6M578.2 172.2h1.6M562.0 176.8h1.6M554.1 178.4h1.6M560.3 178.1h1.6M594.5 178.7h1.6M547.9 179.8h1.6M549.9 179.7h1.6M551.2 180.2h1.6M590.2 179.6h1.6M594.7 180.1h1.6M548.0 181.1h1.6M588.4 181.3h1.6M591.4 181.5h1.6M588.5 182.7h1.6M543.7 184.1h1.6M584.3 186.0h1.6M538.0 187.2h1.6M543.8 187.4h1.6M534.8 189.0h1.6M537.6 189.1h1.6M587.0 189.0h1.6M534.7 190.5h1.6M533.1 191.6h1.6M534.4 193.5h1.6M531.9 196.5h1.6M527.2 197.8h1.6M528.8 197.7h1.6M579.8 197.9h1.6M579.5 199.4h1.6M524.1 200.9h1.6M574.0 201.0h1.6M577.0 201.0h1.6M573.5 202.6h1.6M519.5 203.9h1.6M572.3 203.8h1.6M569.1 205.2h1.6M521.5 207.0h1.6M568.0 207.2h1.6M519.6 208.3h1.6M524.0 208.6h1.6M566.4 208.1h1.6M518.4 209.9h1.6M564.9 209.8h1.6M564.8 213.0h1.6M513.5 214.6h1.6M554.4 215.8h1.6M555.7 216.0h1.6M549.8 217.5h1.6M552.5 217.6h1.6M516.5 218.7h1.6M549.8 218.9h1.6M554.0 219.0h1.6M515.0 220.6h1.6M521.0 220.3h1.6M546.6 220.6h1.6M510.9 221.8h1.6M512.1 221.9h1.6M513.9 221.8h1.6M525.4 221.9h1.6M539.0 221.6h1.6M547.0 222.0h1.6M510.7 223.3h1.6M518.1 223.5h1.6M519.9 225.1h1.6M522.8 225.1h1.6M530.1 224.7h1.6M542.5 225.1h1.6M512.0 226.3h1.6M516.4 226.4h1.6M530.2 226.2h1.6M533.4 226.6h1.6M536.1 226.4h1.6M537.6 226.2h1.6M539.5 226.3h1.6M510.5 227.6h1.6M512.4 228.1h1.6M513.4 227.7h1.6M519.7 228.1h1.6M522.4 228.0h1.6M534.7 228.1h1.6M522.8 230.8h1.6M485.1 236.9h1.6M473.1 248.7h1.6M477.6 249.1h1.6M485.2 250.2h1.6M473.1 254.7h1.6M464.0 256.2h1.6M470.4 258.1h1.6M468.8 259.3h1.6M462.7 261.1h1.6M471.6 262.1h1.6M459.4 265.6h1.6M443.2 267.1h1.6M456.9 269.9h1.6M459.4 269.9h1.6M461.2 271.6h1.6M462.8 271.1h1.6M455.2 272.7h1.6M471.8 272.8h1.6M447.9 274.6h1.6M456.7 275.6h1.6M462.9 275.7h1.6M448.9 277.6h1.6M453.5 278.8h1.6M461.1 279.1h1.6M435.9 280.2h1.6M443.4 280.3h1.6M456.7 280.4h1.6M444.6 283.2h1.6M447.7 283.3h1.6M450.6 283.5h1.6M452.2 283.2h1.6M444.5 286.3h1.6M432.8 287.8h1.6M440.2 287.7h1.6M426.8 289.4h1.6M441.7 289.7h1.6M453.9 289.3h1.6M428.1 292.3h1.6M431.4 292.4h1.6M446.4 292.6h1.6M447.9 292.6h1.6M437.4 293.8h1.6M442.9 293.9h1.6M444.6 295.5h1.6M429.8 297.1h1.6M431.4 297.0h1.6M443.2 296.6h1.6M440.4 299.7h1.6M447.9 301.5h1.6" stroke="#5887d4" stroke-width="1.6" fill="none"/>
<path d="M588.7 167.7h1.6M579.5 169.2h1.6M582.9 169.5h1.6M585.8 169.3h1.6M581.3 171.2h1.6M587.0 171.1h1.6M567.9 172.3h1.6M573.4 172.4h1.6M581.2 172.6h1.6M590.4 172.2h1.6M591.8 172.4h1.6M563.1 174.0h1.6M567.5 173.7h1.6M591.7 173.9h1.6M560.0 175.4h1.6M569.4 175.3h1.6M560.0 176.8h1.6M572.4 176.9h1.6M557.2 178.6h1.6M590.3 178.6h1.6M552.5 180.0h1.6M576.7 180.0h1.6M546.6 181.3h1.6M550.0 183.0h1.6M546.9 184.3h1.6M587.3 184.2h1.6M542.5 186.1h1.6M585.6 186.1h1.6M590.4 186.2h1.6M582.5 187.2h1.6M588.9 188.6h1.6M536.2 191.7h1.6M537.9 191.7h1.6M531.8 193.3h1.6M582.6 195.0h1.6M527.3 196.7h1.6M530.0 196.6h1.6M533.5 196.5h1.6M578.0 196.3h1.6M579.8 196.6h1.6M578.3 197.9h1.6M530.0 199.3h1.6M578.3 199.6h1.6M555.5 201.0h1.6M522.4 204.0h1.6M567.9 203.8h1.6M564.4 206.6h1.6M521.1 208.4h1.6M563.2 210.1h1.6M518.4 211.4h1.6M528.6 211.5h1.6M550.9 211.6h1.6M518.0 214.5h1.6M522.5 214.7h1.6M557.2 214.3h1.6M559.0 214.5h1.6M518.0 215.9h1.6M524.3 215.8h1.6M512.3 217.3h1.6M516.8 217.5h1.6M518.2 217.3h1.6M521.1 217.6h1.6M512.1 219.2h1.6M544.0 219.1h1.6M548.3 218.9h1.6M548.0 220.4h1.6M533.2 222.1h1.6M542.1 221.7h1.6M544.9 222.2h1.6M513.5 223.2h1.6M519.7 223.7h1.6M524.5 223.6h1.6M534.5 223.2h1.6M537.6 223.3h1.6M539.1 223.3h1.6M540.8 223.1h1.6M517.9 225.1h1.6M533.1 224.8h1.6M536.3 224.6h1.6M513.6 226.2h1.6M527.5 226.7h1.6M528.9 227.9h1.6M530.2 227.7h1.6M516.6 229.7h1.6M479.1 241.5h1.6M461.0 265.7h1.6M465.5 265.2h1.6M449.4 271.2h1.6M444.7 273.1h1.6M450.5 277.5h1.6M456.5 277.6h1.6M446.5 279.2h1.6M452.0 280.5h1.6M442.0 282.2h1.6M446.1 282.1h1.6M438.5 283.7h1.6M440.2 283.4h1.6M429.6 286.6h1.6M433.9 286.3h1.6M441.6 286.5h1.6M445.9 286.2h1.6M447.8 286.3h1.6M450.9 286.6h1.6M453.6 286.4h1.6M434.5 291.0h1.6M446.5 291.1h1.6M447.8 291.2h1.6M443.5 292.3h1.6M426.8 295.6h1.6M430.9 295.5h1.6M441.9 295.5h1.6M443.3 295.4h1.6M446.1 295.2h1.6M435.6 296.6h1.6M437.2 297.1h1.6M438.6 296.7h1.6M429.4 298.6h1.6M440.3 298.5h1.6M434.1 301.3h1.6" stroke="#74b5e5" stroke-width="1.6" fill="none"/>
<path d="M582.9 168.0h1.6M592.0 167.7h1.6M569.0 170.7h1.6M575.5 171.1h1.6M578.5 171.1h1.6M583.9 170.8h1.6M570.9 172.3h1.6M588.7 172.6h1.6M566.1 173.7h1.6M569.1 174.2h1.6M561.6 175.1h1.6M555.9 176.9h1.6M557.3 176.9h1.6M563.3 177.0h1.6M582.6 177.2h1.6M591.9 176.9h1.6M579.6 178.3h1.6M585.8 178.3h1.6M587.2 178.2h1.6M588.7 178.4h1.6M591.9 179.7h1.6M552.9 181.1h1.6M555.9 181.2h1.6M569.2 181.6h1.6M552.6 182.8h1.6M590.3 182.7h1.6M591.5 183.0h1.6M545.3 184.3h1.6M543.6 185.7h1.6M551.1 187.4h1.6M582.8 189.1h1.6M585.7 188.9h1.6M540.8 190.3h1.6M543.4 190.2h1.6M569.2 190.5h1.6M582.4 190.5h1.6M543.7 193.2h1.6M528.4 194.9h1.6M557.0 194.7h1.6M579.6 194.6h1.6M528.7 196.3h1.6M538.0 196.3h1.6M576.7 196.2h1.6M527.3 199.3h1.6M528.8 199.4h1.6M575.2 199.7h1.6M527.0 201.0h1.6M528.9 200.7h1.6M525.5 202.1h1.6M521.1 205.4h1.6M564.6 205.2h1.6M571.0 205.6h1.6M522.9 208.3h1.6M564.9 208.3h1.6M522.8 209.6h1.6M527.0 210.1h1.6M563.4 211.4h1.6M515.2 213.1h1.6M518.3 212.7h1.6M519.6 212.8h1.6M522.9 213.0h1.6M554.2 213.1h1.6M558.9 212.8h1.6M521.2 216.1h1.6M522.6 216.1h1.6M548.3 215.9h1.6M520.0 217.5h1.6M551.4 217.1h1.6M515.2 218.9h1.6M519.5 219.0h1.6M528.7 219.0h1.6M531.9 219.2h1.6M513.9 220.6h1.6M516.7 220.7h1.6M518.2 220.2h1.6M519.5 220.2h1.6M542.2 220.7h1.6M544.9 220.4h1.6M516.7 222.2h1.6M518.3 221.7h1.6M521.2 221.7h1.6M537.9 222.0h1.6M515.0 223.2h1.6M522.9 223.2h1.6M533.2 223.4h1.6M536.1 223.5h1.6M521.0 225.0h1.6M528.9 225.1h1.6M521.1 226.4h1.6M525.9 226.5h1.6M465.7 259.6h1.6M455.1 268.7h1.6M453.7 280.7h1.6M443.1 284.6h1.6M443.5 286.4h1.6M438.6 288.0h1.6M438.7 290.7h1.6M434.3 292.7h1.6M435.9 292.4h1.6M435.8 294.2h1.6M444.4 293.8h1.6M434.0 295.6h1.6M432.8 297.0h1.6M441.5 296.7h1.6M428.0 298.3h1.6M429.8 299.6h1.6M438.7 299.8h1.6M427.9 301.2h1.6" stroke="#75c8e0" stroke-width="1.6" fill="none"/>
<path d="M570.8 170.8h1.6M582.6 171.2h1.6M572.2 172.2h1.6M579.5 172.4h1.6M584.2 172.6h1.6M585.5 172.5h1.6M578.2 173.8h1.6M579.8 174.1h1.6M588.6 173.9h1.6M588.7 175.2h1.6M566.1 177.1h1.6M567.9 177.2h1.6M581.2 176.9h1.6M585.4 177.0h1.6M588.5 177.0h1.6M570.8 178.7h1.6M582.7 178.5h1.6M557.3 180.0h1.6M577.9 181.4h1.6M581.2 181.4h1.6M587.1 181.6h1.6M573.9 184.6h1.6M578.0 184.6h1.6M585.4 184.3h1.6M548.1 186.1h1.6M582.4 185.9h1.6M588.9 185.9h1.6M552.6 187.7h1.6M567.8 187.2h1.6M542.2 189.1h1.6M587.2 190.6h1.6M548.3 191.9h1.6M563.4 191.8h1.6M578.0 191.8h1.6M582.7 191.9h1.6M536.2 193.2h1.6M577.9 193.2h1.6M580.0 193.3h1.6M581.0 193.1h1.6M582.7 193.6h1.6M540.7 195.1h1.6M578.1 194.7h1.6M551.2 196.6h1.6M571.0 196.3h1.6M530.2 198.0h1.6M531.8 198.0h1.6M534.7 199.6h1.6M536.0 199.7h1.6M530.0 200.8h1.6M569.0 200.6h1.6M570.6 201.0h1.6M528.7 202.2h1.6M533.1 202.4h1.6M559.0 202.4h1.6M567.8 202.4h1.6M551.0 204.0h1.6M523.0 205.5h1.6M525.8 205.2h1.6M566.5 205.4h1.6M567.8 205.2h1.6M552.5 207.0h1.6M521.5 210.0h1.6M560.2 209.9h1.6M517.0 211.5h1.6M519.8 211.4h1.6M524.3 211.2h1.6M557.3 211.2h1.6M530.1 212.9h1.6M555.4 213.1h1.6M561.8 213.0h1.6M519.6 214.4h1.6M525.6 214.6h1.6M527.2 214.2h1.6M540.9 214.2h1.6M546.9 214.2h1.6M516.5 216.2h1.6M519.7 215.9h1.6M542.2 216.2h1.6M515.4 217.2h1.6M540.4 217.6h1.6M546.5 217.7h1.6M547.9 217.3h1.6M518.1 218.6h1.6M523.9 219.0h1.6M534.9 219.2h1.6M540.9 219.2h1.6M542.1 218.8h1.6M525.5 220.4h1.6M538.0 220.6h1.6M522.4 221.6h1.6M530.1 221.7h1.6M543.7 221.8h1.6M525.4 223.2h1.6M524.5 225.1h1.6M522.7 226.4h1.6M441.8 283.4h1.6M435.6 284.8h1.6M440.1 284.9h1.6M432.4 289.1h1.6M433.0 294.1h1.6M443.1 299.7h1.6" stroke="#63c8cc" stroke-width="1.6" fill="none"/>
<path d="M575.3 172.5h1.6M575.4 173.9h1.6M576.5 174.1h1.6M584.5 173.6h1.6M563.0 175.1h1.6M572.3 175.6h1.6M575.0 175.5h1.6M577.0 175.4h1.6M585.6 175.6h1.6M564.9 178.4h1.6M584.4 178.2h1.6M575.4 179.7h1.6M579.5 179.9h1.6M582.5 179.7h1.6M549.7 181.2h1.6M558.6 181.6h1.6M560.4 181.3h1.6M561.4 181.4h1.6M564.9 181.5h1.6M570.7 181.5h1.6M569.2 182.9h1.6M578.0 182.9h1.6M580.9 182.8h1.6M548.0 184.3h1.6M552.9 184.3h1.6M558.7 184.6h1.6M584.2 184.3h1.6M546.8 185.8h1.6M552.6 185.9h1.6M579.4 186.1h1.6M581.1 185.9h1.6M546.9 187.1h1.6M580.0 187.6h1.6M540.4 189.1h1.6M545.0 189.0h1.6M548.3 188.7h1.6M538.0 190.5h1.6M539.4 190.3h1.6M542.2 190.7h1.6M561.7 191.8h1.6M565.9 192.0h1.6M572.0 192.1h1.6M579.6 191.8h1.6M555.7 193.2h1.6M575.4 193.7h1.6M543.9 194.8h1.6M575.4 194.8h1.6M581.1 194.9h1.6M536.2 196.5h1.6M563.1 196.4h1.6M537.4 198.0h1.6M555.5 197.6h1.6M561.8 198.0h1.6M568.9 199.6h1.6M570.8 199.2h1.6M536.4 200.7h1.6M546.4 201.1h1.6M564.8 200.9h1.6M527.0 204.2h1.6M524.2 205.7h1.6M527.1 205.4h1.6M552.9 205.4h1.6M558.8 205.4h1.6M525.9 206.6h1.6M541.9 206.8h1.6M543.4 207.0h1.6M566.0 206.9h1.6M527.5 208.2h1.6M549.7 208.3h1.6M560.2 208.4h1.6M563.1 208.3h1.6M532.9 209.9h1.6M552.8 209.8h1.6M554.2 209.9h1.6M530.1 211.6h1.6M531.8 211.1h1.6M534.4 212.9h1.6M549.5 213.0h1.6M552.6 212.7h1.6M521.1 214.4h1.6M545.2 214.3h1.6M530.3 216.0h1.6M550.9 215.8h1.6M537.8 217.4h1.6M539.2 217.3h1.6M543.8 217.3h1.6M538.0 218.9h1.6M546.7 219.0h1.6M528.8 220.7h1.6M531.6 220.5h1.6M536.4 220.5h1.6M541.0 220.3h1.6M524.4 221.8h1.6M526.9 221.8h1.6M531.7 222.0h1.6M534.9 221.9h1.6M528.4 223.3h1.6M530.0 223.1h1.6M436.9 283.5h1.6M444.6 290.9h1.6M440.3 292.2h1.6M432.7 298.4h1.6" stroke="#59c8b2" stroke-width="1.6" fill="none"/>
<path d="M564.4 173.7h1.6M585.8 173.9h1.6M564.7 175.2h1.6M578.4 175.4h1.6M579.9 175.4h1.6M569.0 177.0h1.6M576.9 176.7h1.6M579.6 177.1h1.6M587.3 177.0h1.6M563.0 178.6h1.6M566.4 178.3h1.6M567.7 178.6h1.6M576.8 178.3h1.6M558.7 179.7h1.6M563.0 181.4h1.6M573.4 181.3h1.6M584.2 181.6h1.6M585.6 181.3h1.6M546.4 182.8h1.6M558.9 183.1h1.6M567.8 182.7h1.6M572.0 182.9h1.6M564.6 184.3h1.6M576.6 184.1h1.6M581.2 184.6h1.6M550.9 185.8h1.6M587.2 185.9h1.6M545.5 187.4h1.6M547.9 187.7h1.6M555.9 187.3h1.6M558.4 187.1h1.6M569.1 187.6h1.6M543.5 188.9h1.6M546.8 188.7h1.6M552.5 189.2h1.6M553.9 188.9h1.6M562.9 188.9h1.6M567.9 188.8h1.6M576.5 189.2h1.6M552.6 190.5h1.6M564.6 190.2h1.6M581.4 190.7h1.6M539.3 192.1h1.6M564.5 192.1h1.6M581.3 192.1h1.6M546.5 193.5h1.6M561.4 193.6h1.6M566.3 193.3h1.6M542.4 194.7h1.6M562.0 194.7h1.6M566.1 194.9h1.6M569.2 194.9h1.6M572.3 195.2h1.6M535.0 196.7h1.6M554.1 196.4h1.6M564.7 196.3h1.6M566.4 196.7h1.6M566.2 197.8h1.6M573.5 198.0h1.6M551.0 199.7h1.6M557.0 199.4h1.6M564.7 199.6h1.6M573.5 199.3h1.6M542.2 201.1h1.6M552.9 201.2h1.6M557.3 200.7h1.6M561.6 200.9h1.6M530.1 202.2h1.6M531.4 202.1h1.6M548.5 202.2h1.6M550.0 202.4h1.6M552.6 202.2h1.6M563.3 202.7h1.6M569.2 202.6h1.6M572.1 202.2h1.6M545.1 204.1h1.6M549.6 203.9h1.6M559.0 203.7h1.6M530.2 205.5h1.6M534.8 205.3h1.6M524.1 206.7h1.6M527.1 206.6h1.6M538.0 207.2h1.6M558.6 206.7h1.6M563.4 206.8h1.6M531.7 208.6h1.6M542.1 208.5h1.6M545.2 208.5h1.6M534.9 209.7h1.6M561.8 209.7h1.6M540.5 211.5h1.6M542.2 211.1h1.6M553.0 211.5h1.6M557.1 212.6h1.6M539.5 214.2h1.6M543.9 214.4h1.6M552.9 214.1h1.6M554.3 214.6h1.6M534.9 215.8h1.6M527.2 217.5h1.6M536.2 217.6h1.6M542.1 217.2h1.6M521.0 219.1h1.6M545.5 219.1h1.6M534.8 220.5h1.6M536.3 222.2h1.6M441.8 287.8h1.6M449.3 287.7h1.6" stroke="#5dc891" stroke-width="1.6" fill="none"/>
<path d="M582.9 174.1h1.6M566.4 175.1h1.6M570.4 175.2h1.6M573.5 175.4h1.6M581.0 175.5h1.6M582.6 175.7h1.6M564.5 176.9h1.6M590.2 176.6h1.6M566.3 179.7h1.6M567.5 180.1h1.6M578.0 180.0h1.6M581.3 180.1h1.6M550.9 181.2h1.6M579.6 181.3h1.6M554.4 183.2h1.6M564.6 182.9h1.6M579.6 182.9h1.6M582.7 183.0h1.6M585.9 182.8h1.6M549.6 184.2h1.6M554.2 184.6h1.6M557.4 184.7h1.6M549.7 185.8h1.6M554.2 185.8h1.6M557.3 186.1h1.6M571.9 185.6h1.6M562.0 187.5h1.6M561.8 189.0h1.6M573.9 189.0h1.6M578.5 188.7h1.6M560.0 190.4h1.6M567.6 190.5h1.6M578.3 190.2h1.6M540.9 192.0h1.6M542.5 191.8h1.6M545.2 192.2h1.6M575.2 191.9h1.6M584.2 191.8h1.6M540.9 193.4h1.6M542.0 193.5h1.6M545.5 193.3h1.6M564.7 193.4h1.6M533.2 194.9h1.6M546.6 194.8h1.6M558.4 194.6h1.6M538.9 196.3h1.6M545.2 196.2h1.6M558.7 196.4h1.6M575.3 196.7h1.6M536.0 197.7h1.6M547.9 198.0h1.6M554.3 198.0h1.6M564.5 197.8h1.6M572.4 197.8h1.6M575.1 197.6h1.6M533.4 201.1h1.6M548.0 201.2h1.6M554.5 201.0h1.6M567.6 200.8h1.6M536.1 202.1h1.6M541.9 202.3h1.6M546.8 202.5h1.6M560.0 202.7h1.6M531.8 203.7h1.6M555.6 203.9h1.6M562.9 204.0h1.6M564.8 203.9h1.6M542.5 205.3h1.6M554.2 205.5h1.6M528.9 207.2h1.6M528.6 208.7h1.6M533.4 208.6h1.6M528.5 210.2h1.6M531.9 210.0h1.6M555.8 209.9h1.6M534.8 211.1h1.6M545.4 211.3h1.6M548.4 211.5h1.6M554.3 211.5h1.6M558.9 211.5h1.6M524.3 213.1h1.6M528.7 212.9h1.6M537.8 213.1h1.6M548.3 212.8h1.6M524.5 214.7h1.6M528.5 214.6h1.6M532.0 214.4h1.6M525.4 215.9h1.6M528.7 215.7h1.6M543.7 216.2h1.6M525.9 217.2h1.6M533.4 217.6h1.6M545.1 217.5h1.6M533.4 219.1h1.6" stroke="#61c870" stroke-width="1.6" fill="none"/>
<path d="M572.3 174.2h1.6M587.0 175.2h1.6M558.8 178.2h1.6M561.5 178.3h1.6M573.6 178.2h1.6M564.8 179.6h1.6M569.3 179.8h1.6M570.9 179.9h1.6M567.7 181.1h1.6M562.9 182.9h1.6M566.2 183.0h1.6M573.5 182.9h1.6M584.2 182.8h1.6M551.0 184.6h1.6M569.2 184.4h1.6M545.0 185.7h1.6M565.0 186.1h1.6M566.0 186.1h1.6M570.9 185.6h1.6M578.0 185.8h1.6M542.3 187.3h1.6M554.1 187.3h1.6M563.5 187.3h1.6M564.7 187.5h1.6M575.3 187.2h1.6M557.5 189.1h1.6M575.3 189.0h1.6M579.4 188.8h1.6M581.3 189.1h1.6M546.5 190.5h1.6M557.3 190.7h1.6M576.5 190.5h1.6M579.6 190.1h1.6M567.8 191.7h1.6M570.9 191.6h1.6M534.4 194.7h1.6M536.2 194.6h1.6M573.7 195.0h1.6M546.6 196.6h1.6M567.8 196.2h1.6M538.9 198.0h1.6M540.5 197.7h1.6M549.9 197.7h1.6M553.0 198.1h1.6M560.2 198.1h1.6M563.4 197.8h1.6M576.9 197.7h1.6M538.9 199.2h1.6M545.0 199.5h1.6M554.2 199.6h1.6M560.0 199.4h1.6M538.9 200.9h1.6M545.3 200.6h1.6M563.4 200.9h1.6M566.3 200.8h1.6M571.9 201.0h1.6M566.4 202.2h1.6M548.0 203.9h1.6M561.8 203.6h1.6M569.3 203.8h1.6M531.4 205.3h1.6M551.3 205.5h1.6M560.0 205.4h1.6M535.9 206.9h1.6M546.8 206.8h1.6M555.9 206.8h1.6M543.5 208.6h1.6M554.2 208.7h1.6M525.5 209.8h1.6M536.2 209.8h1.6M558.7 209.7h1.6M525.5 211.6h1.6M526.9 211.4h1.6M532.9 211.7h1.6M521.3 212.6h1.6M531.9 212.8h1.6M533.4 213.1h1.6M536.5 212.9h1.6M545.2 212.9h1.6M546.5 212.6h1.6M551.1 212.8h1.6M534.6 214.1h1.6M536.2 215.8h1.6M537.8 215.7h1.6M546.4 215.8h1.6M552.6 215.7h1.6M528.8 217.4h1.6M534.9 217.6h1.6M536.3 218.7h1.6M527.3 220.5h1.6M533.1 220.6h1.6M527.0 223.1h1.6" stroke="#7bcf58" stroke-width="1.6" fill="none"/>
<path d="M581.4 174.1h1.6M558.7 176.8h1.6M573.5 176.8h1.6M575.2 177.2h1.6M572.5 178.4h1.6M575.0 178.3h1.6M561.9 179.9h1.6M573.5 179.7h1.6M584.3 179.8h1.6M560.4 182.6h1.6M575.2 183.1h1.6M565.9 184.5h1.6M575.0 184.5h1.6M579.7 184.2h1.6M560.0 186.0h1.6M561.5 185.8h1.6M569.1 185.9h1.6M573.9 186.0h1.6M575.0 186.1h1.6M560.0 187.7h1.6M570.9 187.6h1.6M581.0 187.5h1.6M551.0 188.8h1.6M555.9 188.7h1.6M566.1 188.9h1.6M551.4 190.5h1.6M573.7 192.1h1.6M576.7 191.9h1.6M549.6 193.2h1.6M552.4 193.4h1.6M557.0 193.3h1.6M560.4 193.4h1.6M567.8 193.4h1.6M551.3 194.9h1.6M564.6 194.7h1.6M567.7 195.2h1.6M534.6 197.7h1.6M567.4 199.6h1.6M558.8 201.2h1.6M560.5 200.7h1.6M534.5 202.6h1.6M524.5 204.1h1.6M536.1 203.8h1.6M537.7 205.5h1.6M545.4 205.5h1.6M546.6 205.6h1.6M557.2 205.6h1.6M561.5 205.3h1.6M563.3 205.2h1.6M551.0 206.9h1.6M561.6 207.0h1.6M540.7 208.4h1.6M540.6 209.9h1.6M542.2 209.7h1.6M546.7 209.8h1.6M551.4 210.1h1.6M556.0 211.6h1.6M527.3 212.7h1.6M539.2 212.9h1.6M542.2 213.1h1.6M551.1 214.4h1.6M532.0 217.3h1.6M522.6 218.7h1.6M525.7 218.8h1.6" stroke="#96d541" stroke-width="1.6" fill="none"/>
<path d="M578.0 176.9h1.6M578.2 178.4h1.6M572.2 179.9h1.6M557.1 181.5h1.6M575.5 181.5h1.6M582.9 181.2h1.6M557.1 182.9h1.6M570.4 183.1h1.6M555.6 184.4h1.6M572.1 184.1h1.6M567.7 185.7h1.6M576.7 185.6h1.6M549.7 187.5h1.6M573.5 187.4h1.6M564.5 189.2h1.6M570.7 189.1h1.6M572.1 188.6h1.6M545.2 190.6h1.6M555.7 192.1h1.6M558.9 191.7h1.6M569.5 191.9h1.6M548.4 193.4h1.6M572.0 193.4h1.6M573.7 193.1h1.6M549.8 195.1h1.6M553.9 194.9h1.6M563.2 194.9h1.6M548.5 196.5h1.6M549.8 196.3h1.6M552.8 196.5h1.6M545.3 198.0h1.6M557.2 197.9h1.6M569.3 197.9h1.6M542.2 199.5h1.6M537.8 201.2h1.6M543.8 200.9h1.6M557.2 202.2h1.6M530.2 204.0h1.6M554.3 203.9h1.6M531.8 206.8h1.6M549.8 206.6h1.6M554.3 207.1h1.6M534.9 208.7h1.6M537.9 208.4h1.6M546.7 208.3h1.6M551.0 208.5h1.6M557.4 208.5h1.6M558.8 208.4h1.6M543.6 209.7h1.6M544.9 210.2h1.6M539.4 211.7h1.6M549.9 211.6h1.6M536.1 214.1h1.6M531.6 216.0h1.6M539.0 218.6h1.6M522.6 220.5h1.6" stroke="#acd935" stroke-width="1.6" fill="none"/>
<path d="M560.0 179.8h1.6M566.1 181.1h1.6M576.7 181.6h1.6M555.7 185.8h1.6M558.7 186.0h1.6M549.9 190.4h1.6M572.1 190.2h1.6M551.2 192.0h1.6M545.1 195.0h1.6M552.4 194.9h1.6M542.4 196.7h1.6M555.9 196.4h1.6M561.6 196.6h1.6M569.3 196.1h1.6M574.0 196.1h1.6M533.3 197.9h1.6M544.0 197.8h1.6M546.8 197.6h1.6M570.8 198.0h1.6M531.5 199.2h1.6M559.0 199.2h1.6M561.7 199.5h1.6M534.4 200.6h1.6M540.5 201.1h1.6M554.0 202.2h1.6M555.5 202.2h1.6M562.0 202.2h1.6M542.0 203.8h1.6M543.6 203.9h1.6M546.6 203.9h1.6M548.0 205.3h1.6M549.7 205.6h1.6M530.3 207.1h1.6M557.0 207.1h1.6M552.6 208.2h1.6M524.5 210.0h1.6M539.2 209.9h1.6M546.7 211.4h1.6M543.6 213.2h1.6M530.1 217.3h1.6" stroke="#c0db30" stroke-width="1.6" fill="none"/>
<path d="M572.3 181.5h1.6M560.2 184.7h1.6M567.7 184.6h1.6M566.4 187.3h1.6M561.9 190.7h1.6M563.3 190.4h1.6M566.5 190.6h1.6M573.7 190.1h1.6M537.4 193.2h1.6M554.0 193.2h1.6M547.9 194.6h1.6M540.6 196.4h1.6M560.1 196.3h1.6M572.5 196.6h1.6M541.0 199.5h1.6M563.4 199.4h1.6M543.7 202.5h1.6M545.3 202.2h1.6M539.4 203.8h1.6M548.1 207.2h1.6M548.3 209.8h1.6M537.6 211.3h1.6M537.7 214.4h1.6" stroke="#d3d92c" stroke-width="1.6" fill="none"/>
<path d="M563.0 186.0h1.6M576.5 187.1h1.6M547.9 190.3h1.6M558.8 190.6h1.6M557.2 191.7h1.6M569.0 193.6h1.6M570.5 193.4h1.6M570.5 195.0h1.6M543.8 196.4h1.6M558.8 198.1h1.6M567.7 197.8h1.6M548.4 199.5h1.6M556.0 199.6h1.6M537.6 202.2h1.6M557.3 204.0h1.6M541.0 205.5h1.6M555.9 205.4h1.6M540.8 207.1h1.6M537.7 209.9h1.6M535.9 211.5h1.6" stroke="#e0ce2e" stroke-width="1.6" fill="none"/>
<path d="M569.2 188.8h1.6M554.5 190.3h1.6M557.1 196.5h1.6M551.1 201.1h1.6M551.3 202.2h1.6M537.9 204.0h1.6M543.6 205.6h1.6M555.8 208.7h1.6M530.2 210.1h1.6" stroke="#eec230" stroke-width="1.6" fill="none"/>
<path d="M549.5 192.2h1.6M549.5 199.4h1.6M550.0 201.2h1.6M552.8 204.0h1.6M533.5 207.0h1.6M543.6 211.5h1.6" stroke="#f0a82d" stroke-width="1.6" fill="none"/>
<path d="M557.4 187.5h1.6M549.5 188.6h1.6M553.9 191.9h1.6M560.1 191.8h1.6M533.0 203.9h1.6M547.9 208.4h1.6" stroke="#f08b28" stroke-width="1.6" fill="none"/>
<path d="M551.3 198.0h1.6" stroke="#ea6b24" stroke-width="1.6" fill="none"/>
<path d="M269.2 495.6h1.6M284.2 497.1h1.6M269.4 500.0h1.6M284.2 500.2h1.6M263.5 501.5h1.6M264.5 501.7h1.6M275.4 501.7h1.6M274.1 503.1h1.6M260.4 504.7h1.6M272.2 504.9h1.6M284.5 506.3h1.6M258.7 507.8h1.6M274.1 507.8h1.6M222.9 509.6h1.6M270.7 509.1h1.6M272.2 509.4h1.6M260.0 510.6h1.6M248.2 512.1h1.6M257.6 512.5h1.6M279.7 512.4h1.6M296.0 512.2h1.6M263.4 514.1h1.6M264.8 513.7h1.6M266.2 513.7h1.6M267.6 513.7h1.6M280.0 513.6h1.6M287.1 514.1h1.6M261.7 515.4h1.6M272.6 515.4h1.6M276.6 515.0h1.6M165.5 516.6h1.6M244.1 516.6h1.6M248.1 516.8h1.6M254.3 517.1h1.6M269.1 516.7h1.6M275.3 516.8h1.6M238.0 518.2h1.6M248.0 518.0h1.6M254.6 518.3h1.6M244.0 519.6h1.6M254.4 519.9h1.6M274.0 520.0h1.6M253.0 521.3h1.6M259.0 521.6h1.6M267.9 521.6h1.6M251.3 523.1h1.6M255.6 522.8h1.6M266.3 522.5h1.6M243.9 524.3h1.6M257.1 524.4h1.6M266.5 524.6h1.6M270.6 524.3h1.6M237.6 526.0h1.6M242.1 525.8h1.6M245.1 525.6h1.6M260.5 525.6h1.6M243.8 527.2h1.6M250.0 527.4h1.6M252.9 527.1h1.6M254.1 527.2h1.6M257.1 527.2h1.6M259.1 527.3h1.6M260.0 527.0h1.6M266.4 527.1h1.6M267.7 527.1h1.6M274.0 527.5h1.6M276.8 527.0h1.6M216.7 529.1h1.6M239.3 529.1h1.6M240.7 528.9h1.6M248.3 528.7h1.6M249.8 528.5h1.6M253.0 528.6h1.6M257.1 528.9h1.6M272.0 528.5h1.6M273.7 528.7h1.6M223.0 530.3h1.6M234.6 530.1h1.6M239.3 530.0h1.6M246.7 530.3h1.6M255.7 530.1h1.6M258.9 530.3h1.6M261.7 530.4h1.6M270.9 530.5h1.6M184.0 531.9h1.6M225.5 531.9h1.6M230.5 531.8h1.6M232.0 531.9h1.6M242.2 531.8h1.6M248.4 531.7h1.6M254.3 531.5h1.6M257.2 531.9h1.6M269.5 531.9h1.6M271.0 531.5h1.6M275.1 531.6h1.6M198.6 533.6h1.6M221.3 533.1h1.6M231.6 533.5h1.6M243.8 533.1h1.6M248.3 533.4h1.6M249.8 533.3h1.6M261.9 533.2h1.6M279.6 533.1h1.6M221.6 534.5h1.6M223.0 534.9h1.6M225.8 534.6h1.6M230.0 535.0h1.6M234.8 534.9h1.6M236.0 534.9h1.6M240.9 535.0h1.6M244.0 534.8h1.6M251.6 534.9h1.6M254.2 534.7h1.6M263.5 534.9h1.6M273.6 535.0h1.6M200.2 536.1h1.6M215.2 536.5h1.6M222.7 536.2h1.6M224.6 536.5h1.6M232.0 536.3h1.6M233.2 536.3h1.6M234.7 536.4h1.6M239.1 536.0h1.6M240.8 536.6h1.6M242.3 536.3h1.6M245.3 536.5h1.6M204.9 537.9h1.6M210.7 537.9h1.6M215.5 537.7h1.6M219.5 537.8h1.6M224.1 537.7h1.6M226.1 537.9h1.6M227.1 537.8h1.6M234.9 537.7h1.6M242.1 537.6h1.6M244.0 537.7h1.6M261.5 537.8h1.6M196.0 539.3h1.6M210.8 539.1h1.6M217.1 539.2h1.6M218.2 539.4h1.6M221.2 539.4h1.6M224.2 539.1h1.6M225.9 539.6h1.6M230.5 539.5h1.6M231.7 539.6h1.6M238.0 539.5h1.6M242.1 539.1h1.6M243.6 539.5h1.6M245.1 539.3h1.6M248.5 539.5h1.6M254.2 539.1h1.6M255.7 539.1h1.6M191.5 540.6h1.6M206.1 540.8h1.6M212.6 541.1h1.6M219.8 541.1h1.6M221.2 540.9h1.6M224.3 540.9h1.6M227.0 540.7h1.6M237.8 540.6h1.6M245.2 541.1h1.6M246.9 541.1h1.6M248.2 541.0h1.6M251.4 540.6h1.6M252.9 540.7h1.6M204.9 542.2h1.6M206.2 542.4h1.6M212.2 542.5h1.6M224.0 542.5h1.6M225.8 542.2h1.6M227.1 542.5h1.6M231.6 542.4h1.6M242.0 542.4h1.6M245.5 542.6h1.6M252.7 542.3h1.6M255.7 542.2h1.6M179.2 544.0h1.6M200.1 543.6h1.6M206.3 544.0h1.6M207.7 543.7h1.6M210.9 543.7h1.6M213.7 543.9h1.6M218.3 543.8h1.6M227.1 543.8h1.6M229.1 543.9h1.6M236.4 543.8h1.6M239.4 544.0h1.6M245.4 543.6h1.6M246.6 543.9h1.6M159.9 545.5h1.6M179.1 545.1h1.6M194.0 545.2h1.6M201.9 545.5h1.6M227.3 545.1h1.6M240.7 545.5h1.6M244.0 545.3h1.6M245.2 545.5h1.6M248.2 545.3h1.6M251.3 545.4h1.6M188.0 547.0h1.6M197.2 546.8h1.6M198.7 546.8h1.6M200.0 547.0h1.6M204.6 546.9h1.6M206.2 546.7h1.6M208.0 547.1h1.6M233.1 546.7h1.6M237.7 547.1h1.6M239.4 547.0h1.6M242.1 546.7h1.6M245.0 546.5h1.6M248.0 546.8h1.6M254.2 546.9h1.6M121.1 548.0h1.6M192.9 548.3h1.6M200.3 548.6h1.6M203.0 548.5h1.6M210.5 548.0h1.6M218.1 548.2h1.6M221.4 548.5h1.6M233.3 548.0h1.6M252.5 548.1h1.6M254.4 548.2h1.6M193.0 549.6h1.6M195.6 549.8h1.6M197.4 549.6h1.6M199.0 549.9h1.6M206.6 549.6h1.6M212.3 549.6h1.6M216.8 549.8h1.6M231.7 549.6h1.6M248.1 550.0h1.6M251.2 549.7h1.6M191.3 551.1h1.6M193.0 551.5h1.6M194.3 551.2h1.6M195.7 551.5h1.6M200.1 551.2h1.6M206.3 551.2h1.6M222.8 551.6h1.6M234.5 551.4h1.6M236.2 551.3h1.6M240.8 551.1h1.6M245.5 551.2h1.6M251.5 551.0h1.6M255.6 551.5h1.6M162.8 552.9h1.6M187.1 553.0h1.6M189.6 552.7h1.6M192.8 552.5h1.6M204.7 552.8h1.6M207.8 552.5h1.6M218.5 552.7h1.6M226.0 552.6h1.6M242.4 552.6h1.6M245.2 552.8h1.6M248.5 553.1h1.6M249.7 552.9h1.6M186.8 554.0h1.6M188.2 554.3h1.6M189.8 554.1h1.6M191.3 554.5h1.6M192.9 554.5h1.6M194.4 554.2h1.6M213.8 554.5h1.6M237.9 554.2h1.6M116.6 555.6h1.6M152.2 555.8h1.6M180.9 556.1h1.6M183.8 555.6h1.6M186.7 555.6h1.6M195.6 556.0h1.6M203.3 555.9h1.6M215.0 555.9h1.6M219.8 555.7h1.6M232.0 555.7h1.6M236.4 555.7h1.6M239.4 555.9h1.6M245.5 556.1h1.6M149.2 557.5h1.6M177.5 557.1h1.6M188.6 557.4h1.6M191.6 557.4h1.6M192.7 557.0h1.6M212.3 557.4h1.6M215.0 557.3h1.6M216.7 557.1h1.6M224.5 557.0h1.6M234.9 557.2h1.6M240.6 557.5h1.6M243.6 557.1h1.6M254.5 557.5h1.6M141.9 558.7h1.6M167.5 558.8h1.6M173.1 558.7h1.6M177.6 558.6h1.6M179.4 559.0h1.6M180.9 559.0h1.6M185.0 558.7h1.6M190.0 558.6h1.6M192.6 558.7h1.6M194.2 558.9h1.6M210.8 558.7h1.6M212.6 558.6h1.6M224.1 559.1h1.6M228.5 559.0h1.6M234.9 558.9h1.6M237.5 558.7h1.6M239.4 559.1h1.6M240.8 558.7h1.6M245.0 558.6h1.6M246.7 558.8h1.6M249.7 558.8h1.6M139.0 560.3h1.6M145.1 560.1h1.6M158.4 560.3h1.6M167.5 560.5h1.6M169.1 560.1h1.6M183.9 560.2h1.6M204.6 560.2h1.6M233.2 560.2h1.6M234.9 560.6h1.6M242.5 560.6h1.6M243.6 560.5h1.6M254.1 560.5h1.6M134.3 562.0h1.6M158.5 561.8h1.6M165.6 561.6h1.6M179.0 561.7h1.6M182.1 562.0h1.6M185.6 562.1h1.6M192.6 561.6h1.6M201.5 562.1h1.6M224.3 561.7h1.6M228.7 561.6h1.6M233.3 562.0h1.6M240.6 561.7h1.6M242.5 561.6h1.6M243.8 561.7h1.6M159.5 563.1h1.6M170.2 563.3h1.6M174.6 563.6h1.6M176.0 563.6h1.6M177.8 563.5h1.6M180.7 563.1h1.6M191.4 563.2h1.6M215.4 563.3h1.6M231.7 563.2h1.6M234.6 563.2h1.6M244.1 563.3h1.6M248.2 563.5h1.6M251.6 563.2h1.6M252.7 563.1h1.6M155.1 565.0h1.6M171.7 564.5h1.6M173.3 564.8h1.6M180.7 564.9h1.6M185.0 564.8h1.6M197.1 564.6h1.6M209.4 564.7h1.6M212.0 564.9h1.6M224.0 565.0h1.6M237.5 565.0h1.6M239.3 565.1h1.6M243.6 565.0h1.6M149.3 566.6h1.6M159.6 566.5h1.6M167.4 566.3h1.6M169.0 566.3h1.6M170.4 566.0h1.6M173.3 566.5h1.6M176.4 566.5h1.6M181.1 566.3h1.6M182.0 566.4h1.6M185.2 566.3h1.6M188.2 566.0h1.6M190.0 566.4h1.6M206.4 566.2h1.6M236.3 566.1h1.6M125.5 567.9h1.6M128.4 567.9h1.6M140.4 567.6h1.6M166.1 567.8h1.6M170.4 568.0h1.6M173.0 567.7h1.6M174.9 567.7h1.6M180.8 567.6h1.6M185.5 567.9h1.6M192.9 567.6h1.6M215.3 567.9h1.6M218.3 567.6h1.6M219.8 567.8h1.6M230.5 568.0h1.6M231.7 567.8h1.6M235.0 567.7h1.6M237.8 567.7h1.6M149.4 569.6h1.6M153.6 569.2h1.6M157.1 569.4h1.6M162.9 569.1h1.6M165.6 569.4h1.6M168.8 569.3h1.6M175.0 569.2h1.6M176.2 569.3h1.6M180.6 569.4h1.6M189.7 569.5h1.6M224.4 569.2h1.6M226.1 569.2h1.6M227.3 569.1h1.6M228.8 569.6h1.6M236.2 569.3h1.6M243.8 569.1h1.6M135.7 570.6h1.6M165.9 570.9h1.6M167.4 571.1h1.6M180.8 570.7h1.6M222.7 570.5h1.6M225.9 571.0h1.6M236.2 570.6h1.6M237.6 570.7h1.6M146.4 572.2h1.6M158.5 572.3h1.6M165.7 572.4h1.6M167.2 572.4h1.6M173.1 572.6h1.6M179.6 572.5h1.6M188.4 572.6h1.6M195.7 572.2h1.6M197.2 572.4h1.6M200.5 572.5h1.6M213.7 572.5h1.6M216.6 572.4h1.6M225.6 572.2h1.6M230.3 572.3h1.6M231.9 572.5h1.6M235.0 572.2h1.6M237.5 572.2h1.6M242.2 572.1h1.6M150.9 573.9h1.6M152.5 573.6h1.6M158.6 574.0h1.6M160.1 573.7h1.6M161.6 573.6h1.6M167.4 573.8h1.6M176.3 573.8h1.6M178.0 573.9h1.6M179.1 573.7h1.6M185.1 573.9h1.6M221.6 573.8h1.6M228.8 573.9h1.6M232.0 573.9h1.6M233.2 573.7h1.6M239.4 573.9h1.6M91.0 575.1h1.6M145.0 575.2h1.6M150.6 575.1h1.6M166.0 575.2h1.6M179.6 575.5h1.6M207.7 575.5h1.6M222.7 575.3h1.6M224.5 575.5h1.6M226.1 575.2h1.6M227.2 575.1h1.6M228.7 575.0h1.6M231.7 575.3h1.6M107.2 577.0h1.6M141.6 577.1h1.6M152.5 576.9h1.6M164.6 576.6h1.6M166.0 576.9h1.6M177.6 576.6h1.6M195.8 576.7h1.6M216.6 576.7h1.6M218.3 576.8h1.6M222.9 576.7h1.6M226.0 576.9h1.6M228.8 576.8h1.6M134.4 578.2h1.6M136.0 578.3h1.6M140.4 578.5h1.6M143.2 578.5h1.6M147.5 578.6h1.6M161.1 578.3h1.6M164.2 578.3h1.6M209.6 578.6h1.6M219.8 578.6h1.6M224.2 578.5h1.6M227.3 578.1h1.6M228.6 578.3h1.6M137.5 580.0h1.6M138.5 579.9h1.6M146.5 579.9h1.6M153.9 579.8h1.6M158.4 580.0h1.6M163.1 579.8h1.6M165.8 579.8h1.6M191.4 579.6h1.6M212.2 579.8h1.6M215.3 579.6h1.6M224.4 580.0h1.6M227.4 579.5h1.6M126.5 581.1h1.6M131.4 581.5h1.6M141.8 581.1h1.6M146.2 581.3h1.6M150.9 581.6h1.6M162.6 581.4h1.6M182.0 581.2h1.6M194.3 581.4h1.6M221.2 581.3h1.6M225.9 581.2h1.6M95.0 583.0h1.6M102.8 583.0h1.6M126.5 582.9h1.6M135.9 582.5h1.6M148.1 582.5h1.6M155.4 583.0h1.6M157.1 582.9h1.6M159.8 582.5h1.6M170.4 582.7h1.6M182.4 582.9h1.6M216.9 583.0h1.6M218.4 582.8h1.6M220.0 582.9h1.6M96.8 584.3h1.6M100.0 584.4h1.6M109.1 584.5h1.6M131.3 584.3h1.6M137.6 584.5h1.6M138.9 584.5h1.6M143.5 584.3h1.6M146.3 584.5h1.6M156.6 584.6h1.6M158.6 584.4h1.6M161.4 584.5h1.6M186.7 584.5h1.6M205.0 584.1h1.6M230.5 584.6h1.6M119.4 586.0h1.6M131.3 585.5h1.6M146.4 585.9h1.6M150.8 585.9h1.6M153.9 585.9h1.6M158.1 585.9h1.6M181.0 586.0h1.6M197.2 585.8h1.6M203.5 585.8h1.6M210.8 586.0h1.6M213.7 585.9h1.6M215.3 586.0h1.6M216.9 585.9h1.6M224.5 585.5h1.6M86.1 587.1h1.6M100.0 587.1h1.6M125.6 587.2h1.6M135.6 587.3h1.6M137.2 587.2h1.6M144.6 587.1h1.6M146.1 587.5h1.6M147.9 587.5h1.6M149.1 587.3h1.6M150.8 587.2h1.6M152.5 587.4h1.6M161.3 587.4h1.6M167.4 587.3h1.6M180.5 587.6h1.6M200.5 587.0h1.6M205.0 587.1h1.6M207.7 587.2h1.6M212.2 587.5h1.6M213.5 587.0h1.6M216.8 587.1h1.6M218.2 587.2h1.6M249.9 587.3h1.6M118.1 589.1h1.6M132.7 588.5h1.6M138.7 588.9h1.6M140.5 589.0h1.6M147.6 588.6h1.6M152.1 588.7h1.6M157.0 588.6h1.6M158.6 588.9h1.6M165.8 588.6h1.6M172.0 588.5h1.6M182.4 588.7h1.6M204.9 588.5h1.6M209.6 588.6h1.6M210.6 588.8h1.6M212.2 588.5h1.6M214.0 588.6h1.6M216.9 588.9h1.6M108.6 590.3h1.6M113.4 590.2h1.6M120.8 590.5h1.6M122.5 590.4h1.6M123.8 590.3h1.6M128.6 590.4h1.6M137.0 590.4h1.6M138.5 590.5h1.6M143.1 590.0h1.6M146.6 590.3h1.6M149.1 590.1h1.6M150.7 590.2h1.6M154.0 590.3h1.6M155.2 590.0h1.6M189.5 590.2h1.6M200.2 590.5h1.6M92.4 592.0h1.6M122.2 591.9h1.6M125.1 591.9h1.6M131.4 592.0h1.6M132.8 591.7h1.6M134.0 591.7h1.6M135.5 591.6h1.6M138.9 591.8h1.6M143.2 591.7h1.6M152.2 591.7h1.6M179.2 592.0h1.6M210.8 591.9h1.6M213.8 592.0h1.6M102.5 593.5h1.6M112.0 593.1h1.6M117.8 593.3h1.6M119.5 593.5h1.6M120.5 593.6h1.6M123.5 593.4h1.6M128.2 593.4h1.6M134.5 593.5h1.6M148.1 593.3h1.6M150.6 593.1h1.6M153.7 593.4h1.6M167.0 593.1h1.6M171.9 593.2h1.6M191.5 593.2h1.6M224.3 593.2h1.6M113.5 595.0h1.6M114.9 594.9h1.6M118.0 594.7h1.6M123.8 595.0h1.6M128.2 595.0h1.6M140.1 594.9h1.6M141.9 594.9h1.6M143.1 594.8h1.6M146.1 594.6h1.6M149.3 594.6h1.6M153.7 594.7h1.6M155.6 595.1h1.6M156.9 595.0h1.6M167.5 595.1h1.6M188.4 594.8h1.6M189.6 594.6h1.6M194.5 594.5h1.6M197.5 595.0h1.6M200.3 594.5h1.6M99.9 596.1h1.6M107.1 596.5h1.6M108.5 596.1h1.6M112.1 596.2h1.6M116.2 596.2h1.6M119.5 596.2h1.6M120.9 596.6h1.6M122.0 596.1h1.6M132.9 596.3h1.6M134.5 596.3h1.6M136.1 596.4h1.6M137.1 596.3h1.6M141.7 596.6h1.6M143.1 596.6h1.6M155.3 596.0h1.6M158.5 596.4h1.6M170.1 596.3h1.6M172.0 596.4h1.6M179.1 596.2h1.6M180.9 596.5h1.6M186.7 596.1h1.6M188.1 596.1h1.6M189.6 596.5h1.6M194.3 596.5h1.6M200.2 596.1h1.6M204.6 596.3h1.6M213.6 596.5h1.6M98.5 597.6h1.6M99.7 597.7h1.6M104.4 598.0h1.6M119.1 597.9h1.6M123.8 597.5h1.6M131.5 597.9h1.6M134.3 598.1h1.6M138.7 597.8h1.6M141.9 597.7h1.6M144.7 598.0h1.6M147.5 597.8h1.6M155.5 597.7h1.6M156.9 597.6h1.6M167.5 597.9h1.6M179.0 597.7h1.6M186.8 597.8h1.6M191.4 597.7h1.6M192.6 598.0h1.6M194.4 597.8h1.6M204.8 597.7h1.6M94.0 599.1h1.6M101.6 599.2h1.6M104.2 599.5h1.6M105.9 599.4h1.6M107.2 599.5h1.6M116.3 599.3h1.6M117.8 599.3h1.6M120.5 599.4h1.6M123.6 599.6h1.6M125.4 599.4h1.6M126.7 599.4h1.6M130.0 599.3h1.6M132.9 599.3h1.6M134.1 599.4h1.6M137.4 599.1h1.6M158.1 599.0h1.6M174.9 599.4h1.6M182.5 599.3h1.6M188.5 599.1h1.6M191.5 599.3h1.6M194.6 599.3h1.6M210.8 599.5h1.6M84.8 600.8h1.6M90.6 600.7h1.6M101.5 600.9h1.6M107.5 600.5h1.6M110.5 600.9h1.6M118.0 600.5h1.6M119.0 600.9h1.6M120.6 600.6h1.6M126.6 600.8h1.6M128.6 601.0h1.6M131.6 600.6h1.6M133.0 600.8h1.6M134.0 600.6h1.6M152.1 600.9h1.6M153.9 601.1h1.6M155.5 600.8h1.6M174.8 600.9h1.6M189.7 601.0h1.6M77.2 602.4h1.6M83.6 602.5h1.6M98.1 602.4h1.6M99.6 602.3h1.6M102.5 602.3h1.6M114.6 602.3h1.6M122.1 602.5h1.6M131.4 602.1h1.6M134.3 602.5h1.6M143.1 602.0h1.6M147.9 602.2h1.6M149.6 602.1h1.6M150.6 602.0h1.6M154.0 602.1h1.6M155.1 602.6h1.6M158.5 602.5h1.6M159.7 602.5h1.6M161.4 602.4h1.6M164.2 602.0h1.6M168.6 602.1h1.6M173.1 602.6h1.6M174.8 602.5h1.6M176.1 602.4h1.6M189.9 602.1h1.6M192.6 602.1h1.6M199.0 602.6h1.6M212.6 602.1h1.6M89.2 603.9h1.6M102.8 604.0h1.6M107.5 603.5h1.6M108.9 603.9h1.6M110.1 603.5h1.6M114.6 603.7h1.6M120.5 603.7h1.6M123.7 603.5h1.6M128.2 604.0h1.6M132.5 603.9h1.6M134.1 603.9h1.6M137.0 603.8h1.6M141.8 603.9h1.6M144.9 603.6h1.6M147.7 603.8h1.6M155.1 603.8h1.6M156.9 604.0h1.6M158.0 603.5h1.6M159.8 603.6h1.6M162.7 604.1h1.6M164.4 603.6h1.6M166.0 603.6h1.6M168.5 603.8h1.6M170.4 603.9h1.6M175.1 603.7h1.6M182.2 604.0h1.6M185.3 603.7h1.6M186.9 604.1h1.6M79.1 605.5h1.6M80.4 605.3h1.6M92.1 605.2h1.6M98.5 605.6h1.6M101.1 605.2h1.6M103.1 605.1h1.6M104.5 605.6h1.6M108.7 605.1h1.6M111.7 605.3h1.6M115.1 605.2h1.6M116.3 605.3h1.6M120.5 605.2h1.6M125.4 605.3h1.6M127.0 605.1h1.6M134.2 605.1h1.6M135.5 605.2h1.6M140.2 605.0h1.6M144.6 605.2h1.6M146.5 605.2h1.6M149.5 605.0h1.6M155.3 605.2h1.6M161.5 605.6h1.6M163.0 605.3h1.6M165.8 605.0h1.6M176.0 605.4h1.6M182.4 605.6h1.6M185.5 605.6h1.6M188.2 605.5h1.6M90.7 606.8h1.6M96.6 606.8h1.6M108.9 606.8h1.6M110.3 606.8h1.6M111.9 606.6h1.6M122.3 606.7h1.6M125.1 606.9h1.6M128.2 606.6h1.6M129.7 606.9h1.6M135.7 606.9h1.6M137.0 606.9h1.6M138.9 607.0h1.6M152.2 606.9h1.6M153.7 606.6h1.6M158.5 606.7h1.6M162.6 606.7h1.6M167.1 607.1h1.6M170.1 606.7h1.6M176.2 606.7h1.6M178.1 606.5h1.6M180.5 606.7h1.6M182.1 606.9h1.6M185.5 606.6h1.6M191.3 606.8h1.6M66.8 608.0h1.6M93.9 608.4h1.6M100.1 608.5h1.6M102.6 608.1h1.6M107.4 608.0h1.6M113.0 608.2h1.6M114.6 608.1h1.6M116.5 608.1h1.6M120.8 608.4h1.6M122.0 608.3h1.6M126.6 608.5h1.6M129.7 608.1h1.6M131.1 608.3h1.6M132.5 608.3h1.6M135.6 608.4h1.6M140.2 608.3h1.6M142.1 608.4h1.6M143.1 608.1h1.6M144.9 608.5h1.6M146.5 608.1h1.6M147.5 608.6h1.6M149.2 608.5h1.6M152.2 608.1h1.6M156.5 608.3h1.6M162.7 608.5h1.6M167.6 608.3h1.6M170.3 608.1h1.6M173.4 608.1h1.6M176.3 608.2h1.6M180.6 608.4h1.6M92.4 609.6h1.6M96.9 609.8h1.6M100.0 609.7h1.6M101.3 610.1h1.6M105.7 610.0h1.6M107.4 610.0h1.6M110.1 610.1h1.6M113.4 609.5h1.6M114.7 609.6h1.6M119.5 609.9h1.6M123.5 610.1h1.6M125.5 609.9h1.6M126.6 609.6h1.6M131.6 609.9h1.6M137.2 609.6h1.6M140.2 609.9h1.6M142.1 609.7h1.6M143.4 609.9h1.6M147.7 609.8h1.6M161.6 610.0h1.6M164.4 609.9h1.6M165.9 609.5h1.6M167.5 609.7h1.6M177.7 610.0h1.6M180.5 609.6h1.6M183.9 609.9h1.6M185.3 610.1h1.6M186.9 610.0h1.6M188.4 609.6h1.6M83.6 611.5h1.6M93.6 611.1h1.6M98.5 611.1h1.6M101.1 611.4h1.6M104.6 611.6h1.6M107.2 611.2h1.6M119.4 611.1h1.6M134.2 611.1h1.6M136.0 611.4h1.6M141.7 611.2h1.6M147.6 611.4h1.6M159.6 611.1h1.6M161.4 611.1h1.6M165.8 611.3h1.6M178.1 611.3h1.6M182.1 611.1h1.6M79.0 612.9h1.6M85.0 612.9h1.6M87.7 613.1h1.6M89.2 612.8h1.6M92.2 612.6h1.6M95.1 612.6h1.6M112.0 613.0h1.6M114.7 613.0h1.6M116.1 612.8h1.6M120.5 612.9h1.6M122.3 612.6h1.6M128.2 612.7h1.6M131.4 612.6h1.6M135.5 612.6h1.6M137.1 612.7h1.6M138.5 613.0h1.6M141.9 612.6h1.6M147.7 612.9h1.6M149.4 612.7h1.6M159.8 613.0h1.6M161.4 612.6h1.6M164.1 612.8h1.6M80.3 614.5h1.6M83.3 614.2h1.6M87.7 614.0h1.6M92.2 614.2h1.6M94.0 614.2h1.6M96.6 614.5h1.6M99.9 614.1h1.6M101.2 614.3h1.6M102.5 614.1h1.6M111.6 614.1h1.6M120.9 614.3h1.6M122.2 614.1h1.6M126.8 614.1h1.6M128.1 614.1h1.6M131.5 614.4h1.6M134.2 614.3h1.6M135.6 614.1h1.6M137.3 614.5h1.6M140.4 614.6h1.6M143.2 614.2h1.6M149.3 614.1h1.6M165.7 614.1h1.6M173.4 614.6h1.6M179.1 614.6h1.6M77.4 615.6h1.6M87.5 615.8h1.6M98.1 615.5h1.6M101.5 615.5h1.6M102.7 615.5h1.6M106.1 616.0h1.6M107.1 615.8h1.6M115.0 615.9h1.6M120.8 615.9h1.6M122.2 616.1h1.6M126.5 615.6h1.6M129.7 615.5h1.6M131.2 615.9h1.6M133.0 615.9h1.6M134.1 615.8h1.6M140.5 615.6h1.6M147.9 616.0h1.6M155.3 615.7h1.6M158.1 616.0h1.6M164.5 615.7h1.6M167.1 615.5h1.6M168.8 615.6h1.6M170.6 615.6h1.6M174.9 616.0h1.6M185.2 615.7h1.6M83.1 617.6h1.6M84.8 617.2h1.6M87.6 617.3h1.6M89.5 617.3h1.6M90.8 617.5h1.6M97.0 617.3h1.6M102.8 617.2h1.6M108.8 617.6h1.6M110.1 617.3h1.6M111.8 617.2h1.6M118.0 617.6h1.6M120.6 617.4h1.6M126.7 617.3h1.6M138.9 617.0h1.6M143.6 617.4h1.6M146.5 617.1h1.6M147.9 617.1h1.6M153.6 617.3h1.6M158.4 617.1h1.6M161.4 617.1h1.6M165.9 617.5h1.6M167.3 617.3h1.6M176.2 617.5h1.6M177.9 617.5h1.6M183.6 617.2h1.6M191.6 617.1h1.6M82.0 619.0h1.6M84.9 618.7h1.6M90.7 618.7h1.6M97.1 618.8h1.6M105.9 618.6h1.6M107.2 619.0h1.6M108.9 619.0h1.6M111.8 618.6h1.6M114.8 619.0h1.6M119.3 618.5h1.6M120.9 618.8h1.6M126.7 618.8h1.6M128.4 618.9h1.6M129.5 618.5h1.6M131.3 618.7h1.6M137.0 618.9h1.6M140.6 618.7h1.6M141.9 618.7h1.6M150.6 618.9h1.6M152.3 619.1h1.6M155.4 619.0h1.6M159.8 619.0h1.6M163.0 618.7h1.6M167.5 618.7h1.6M173.3 618.6h1.6M177.8 618.9h1.6M183.8 618.8h1.6M86.5 620.3h1.6M92.5 620.5h1.6M95.2 620.0h1.6M97.1 620.5h1.6M99.6 620.3h1.6M101.1 620.2h1.6M104.2 620.4h1.6M108.7 620.3h1.6M114.8 620.5h1.6M116.4 620.4h1.6M125.4 620.6h1.6M126.9 620.5h1.6M131.2 620.0h1.6M135.7 620.4h1.6M147.9 620.3h1.6M151.0 620.0h1.6M155.4 620.5h1.6M156.9 620.4h1.6M158.1 620.1h1.6M162.6 620.0h1.6M167.6 620.1h1.6M170.5 620.6h1.6M82.0 622.0h1.6M86.1 621.5h1.6M104.5 621.7h1.6M105.5 622.0h1.6M111.9 622.0h1.6M113.6 622.0h1.6M116.6 621.6h1.6M123.7 622.0h1.6M133.0 622.1h1.6M134.1 621.9h1.6M137.1 622.0h1.6M138.5 621.6h1.6M141.6 621.9h1.6M144.6 621.7h1.6M156.7 621.5h1.6M161.2 621.8h1.6M168.7 621.9h1.6M174.5 621.9h1.6M71.1 623.0h1.6M81.7 623.4h1.6M87.9 623.0h1.6M92.6 623.6h1.6M95.3 623.5h1.6M99.7 623.3h1.6M102.9 623.2h1.6M105.9 623.4h1.6M109.0 623.4h1.6M110.4 623.1h1.6M112.1 623.4h1.6M113.2 623.6h1.6M116.1 623.4h1.6M120.6 623.0h1.6M123.8 623.3h1.6M128.2 623.0h1.6M132.6 623.1h1.6M140.1 623.2h1.6M143.3 623.4h1.6M156.9 623.5h1.6M164.2 623.1h1.6M171.6 623.5h1.6M173.1 623.6h1.6M178.1 623.2h1.6M180.7 623.0h1.6M72.9 624.9h1.6M77.0 625.0h1.6M80.6 624.9h1.6M87.9 625.0h1.6M92.4 625.0h1.6M93.5 624.9h1.6M95.5 624.7h1.6M98.4 624.8h1.6M108.8 625.0h1.6M110.3 624.7h1.6M111.9 624.7h1.6M114.9 624.6h1.6M120.5 624.6h1.6M125.5 624.9h1.6M129.6 624.6h1.6M136.0 624.7h1.6M137.1 624.9h1.6M138.7 624.9h1.6M141.9 624.5h1.6M153.7 624.9h1.6M156.6 624.8h1.6M158.3 624.9h1.6M170.1 625.1h1.6M176.2 624.5h1.6M185.3 624.8h1.6M206.4 625.0h1.6M69.6 626.3h1.6M75.8 626.4h1.6M77.3 626.2h1.6M82.0 626.2h1.6M93.8 626.3h1.6M99.7 626.6h1.6M104.2 626.0h1.6M107.1 626.5h1.6M112.0 626.5h1.6M113.1 626.4h1.6M117.8 626.6h1.6M120.9 626.2h1.6M123.8 626.4h1.6M126.6 626.3h1.6M129.6 626.2h1.6M131.2 626.1h1.6M135.5 626.3h1.6M137.2 626.0h1.6M140.6 626.2h1.6M146.1 626.5h1.6M149.5 626.4h1.6M155.2 626.5h1.6M156.9 626.2h1.6M161.5 626.4h1.6M162.6 626.2h1.6M164.4 626.1h1.6M176.4 626.4h1.6M72.7 628.1h1.6M75.6 627.6h1.6M77.2 627.8h1.6M81.6 627.8h1.6M83.2 627.7h1.6M86.1 627.8h1.6M90.8 627.8h1.6M92.5 627.7h1.6M95.3 628.1h1.6M98.1 627.7h1.6M104.6 627.6h1.6M105.8 627.5h1.6M108.5 627.9h1.6M114.6 627.9h1.6M116.2 627.7h1.6M117.9 627.9h1.6M119.2 628.1h1.6M122.2 627.6h1.6M125.1 628.1h1.6M127.0 628.1h1.6M128.5 628.0h1.6M131.5 628.0h1.6M134.5 627.8h1.6M135.6 627.7h1.6M137.1 627.7h1.6M140.5 627.9h1.6M149.5 627.5h1.6M155.1 627.9h1.6M158.2 628.0h1.6M161.0 627.6h1.6M162.8 627.6h1.6M167.2 627.7h1.6M181.0 628.0h1.6M196.0 627.9h1.6M207.9 627.6h1.6M66.9 629.3h1.6M71.5 629.6h1.6M76.0 629.1h1.6M77.3 629.2h1.6M86.4 629.6h1.6M89.3 629.1h1.6M90.6 629.1h1.6M95.1 629.1h1.6M99.6 629.3h1.6M101.5 629.5h1.6M102.7 629.4h1.6M104.3 629.6h1.6M105.7 629.6h1.6M109.0 629.3h1.6M111.5 629.0h1.6M116.4 629.4h1.6M123.5 629.0h1.6M126.6 629.2h1.6M128.4 629.1h1.6M132.9 629.4h1.6M137.2 629.1h1.6M138.7 629.5h1.6M143.0 629.3h1.6M147.7 629.5h1.6M149.4 629.2h1.6M150.7 629.2h1.6M159.8 629.3h1.6M167.6 629.1h1.6M182.5 629.2h1.6M183.7 629.1h1.6M74.3 630.7h1.6M75.6 631.1h1.6M77.4 630.7h1.6M81.8 630.6h1.6M90.8 630.7h1.6M93.6 631.0h1.6M100.1 630.9h1.6M102.6 630.6h1.6M104.3 631.0h1.6M107.2 631.1h1.6M113.1 630.8h1.6M114.8 631.0h1.6M117.5 630.7h1.6M125.0 630.5h1.6M129.8 630.9h1.6M137.4 630.8h1.6M138.6 630.6h1.6M143.3 631.0h1.6M144.9 631.0h1.6M149.6 630.6h1.6M153.9 630.8h1.6M156.6 631.0h1.6M159.5 630.7h1.6M162.7 631.0h1.6M168.9 631.0h1.6M170.2 630.9h1.6M72.6 632.0h1.6M80.3 632.1h1.6M86.0 632.0h1.6M90.8 632.3h1.6M95.5 632.4h1.6M96.5 632.2h1.6M98.6 632.5h1.6M99.6 632.3h1.6M101.2 632.6h1.6M104.0 632.0h1.6M108.8 632.1h1.6M110.2 632.6h1.6M119.4 632.5h1.6M122.0 632.1h1.6M125.0 632.3h1.6M127.1 632.1h1.6M138.6 632.1h1.6M142.1 632.3h1.6M143.3 632.2h1.6M149.4 632.1h1.6M150.8 632.4h1.6M152.1 632.4h1.6M158.2 632.5h1.6M70.0 634.0h1.6M75.9 633.6h1.6M77.1 634.1h1.6M78.6 633.9h1.6M80.3 633.8h1.6M82.1 634.1h1.6M87.6 634.0h1.6M93.8 633.6h1.6M103.1 633.6h1.6M105.8 633.8h1.6M110.3 633.6h1.6M117.8 633.6h1.6M119.4 634.0h1.6M128.5 634.0h1.6M140.6 634.0h1.6M143.3 634.0h1.6M144.6 634.0h1.6M146.5 633.6h1.6M149.4 634.1h1.6M152.1 633.7h1.6M177.9 633.7h1.6M76.0 635.4h1.6M77.5 635.0h1.6M84.6 635.5h1.6M87.6 635.1h1.6M94.0 635.0h1.6M98.5 635.3h1.6M101.2 635.5h1.6M104.3 635.2h1.6M109.1 635.3h1.6M115.0 635.2h1.6M116.6 635.4h1.6M117.7 635.3h1.6M123.6 635.1h1.6M125.2 635.2h1.6M126.9 635.1h1.6M134.1 635.3h1.6M135.6 635.2h1.6M137.1 635.4h1.6M144.7 635.3h1.6M146.2 635.5h1.6M74.2 636.8h1.6M77.4 636.9h1.6M80.2 637.0h1.6M81.8 636.7h1.6M83.1 636.8h1.6M92.4 637.0h1.6M98.2 637.0h1.6M104.3 636.6h1.6M111.8 636.8h1.6M120.5 636.7h1.6M122.5 636.8h1.6M125.5 636.6h1.6M128.2 636.8h1.6M137.6 636.8h1.6M144.8 636.9h1.6M149.4 636.7h1.6M156.7 636.6h1.6M68.3 638.5h1.6M72.5 638.1h1.6M74.6 638.2h1.6M81.7 638.4h1.6M87.7 638.2h1.6M90.7 638.2h1.6M92.1 638.1h1.6M95.3 638.5h1.6M101.1 638.4h1.6M103.0 638.4h1.6M104.6 638.5h1.6M107.4 638.2h1.6M114.8 638.2h1.6M125.1 638.3h1.6M129.9 638.1h1.6M134.6 638.6h1.6M139.0 638.2h1.6M141.8 638.5h1.6M146.1 638.3h1.6M148.0 638.2h1.6M152.0 638.2h1.6M156.6 638.5h1.6M69.9 640.1h1.6M71.5 639.6h1.6M80.3 639.6h1.6M85.1 639.8h1.6M88.0 640.1h1.6M89.3 639.9h1.6M104.4 639.8h1.6M107.0 639.7h1.6M110.6 640.0h1.6M112.0 639.5h1.6M114.8 639.6h1.6M122.2 639.6h1.6M124.1 640.0h1.6M125.4 639.9h1.6M128.1 639.8h1.6M133.0 639.6h1.6M134.1 639.6h1.6M137.6 639.8h1.6M138.8 640.0h1.6M158.2 639.8h1.6M82.0 641.2h1.6M87.5 641.0h1.6M89.0 641.3h1.6M91.0 641.6h1.6M92.5 641.4h1.6M95.3 641.5h1.6M107.2 641.4h1.6M113.5 641.0h1.6M116.2 641.4h1.6M119.2 641.4h1.6M123.7 641.4h1.6M125.3 641.5h1.6M129.7 641.6h1.6M135.9 641.4h1.6M143.5 641.1h1.6M146.1 641.0h1.6M147.7 641.5h1.6M149.3 641.4h1.6M153.7 641.2h1.6M68.0 642.6h1.6M72.8 642.7h1.6M74.6 642.5h1.6M77.6 642.6h1.6M80.3 642.8h1.6M83.4 642.8h1.6M95.5 642.8h1.6M96.8 642.5h1.6M101.2 643.0h1.6M102.8 643.1h1.6M105.6 643.1h1.6M114.8 642.9h1.6M119.3 642.5h1.6M123.7 643.0h1.6M130.1 642.8h1.6M136.1 642.9h1.6M140.1 642.6h1.6M141.8 642.6h1.6M150.9 642.9h1.6M152.6 642.5h1.6M155.6 642.6h1.6M160.1 642.9h1.6M168.9 642.6h1.6M66.5 644.6h1.6M69.8 644.2h1.6M74.5 644.6h1.6M81.8 644.2h1.6M83.6 644.4h1.6M84.9 644.6h1.6M86.1 644.5h1.6M87.6 644.3h1.6M89.2 644.0h1.6M92.5 644.4h1.6M94.0 644.5h1.6M95.1 644.4h1.6M104.6 644.6h1.6M105.6 644.3h1.6M107.6 644.4h1.6M110.3 644.4h1.6M119.1 644.4h1.6M123.6 644.2h1.6M132.7 644.2h1.6M152.4 644.3h1.6M158.5 644.1h1.6M171.6 644.2h1.6M68.2 645.5h1.6M69.6 645.7h1.6M72.5 645.9h1.6M74.2 645.6h1.6M78.5 645.8h1.6M83.3 645.8h1.6M89.3 645.8h1.6M90.8 646.0h1.6M95.1 646.0h1.6M96.6 645.8h1.6M99.8 645.8h1.6M110.1 646.0h1.6M115.0 646.0h1.6M119.6 645.7h1.6M126.9 645.9h1.6M128.3 645.9h1.6M129.5 645.8h1.6M132.9 645.8h1.6M134.1 645.7h1.6M145.1 645.7h1.6M152.1 645.9h1.6M155.1 646.0h1.6M159.6 646.1h1.6M67.0 647.1h1.6M72.8 647.5h1.6M76.1 647.5h1.6M80.1 647.0h1.6M87.5 647.1h1.6M91.0 647.4h1.6M101.5 647.1h1.6M110.0 647.5h1.6M121.1 647.3h1.6M122.6 647.4h1.6M124.0 647.6h1.6M126.8 647.5h1.6M131.0 647.1h1.6M134.2 647.1h1.6M140.0 647.4h1.6M147.6 647.5h1.6M164.0 647.5h1.6M72.5 649.0h1.6M77.2 648.8h1.6M81.8 648.8h1.6M87.7 648.6h1.6M90.7 648.6h1.6M93.8 648.6h1.6M98.6 649.1h1.6M100.0 649.0h1.6M101.6 648.5h1.6M102.6 648.9h1.6M107.5 648.6h1.6M114.5 648.6h1.6M123.8 648.6h1.6M136.0 649.1h1.6M141.6 649.0h1.6M149.1 648.8h1.6M151.1 648.8h1.6M66.7 650.5h1.6M68.0 650.3h1.6M69.6 650.3h1.6M75.6 650.5h1.6M77.5 650.1h1.6M80.1 650.1h1.6M83.1 650.4h1.6M92.1 650.3h1.6M96.9 650.5h1.6M104.2 650.5h1.6M113.0 650.2h1.6M116.5 650.6h1.6M118.0 650.0h1.6M119.5 650.5h1.6M122.6 650.3h1.6M123.6 650.3h1.6M128.2 650.2h1.6M131.1 650.4h1.6M132.7 650.5h1.6M135.7 650.1h1.6M143.2 650.6h1.6M66.6 652.1h1.6M68.5 651.5h1.6M72.6 651.8h1.6M82.1 652.0h1.6M86.5 651.9h1.6M87.8 651.7h1.6M89.4 651.9h1.6M93.7 651.6h1.6M95.4 652.0h1.6M96.6 651.9h1.6M104.4 651.8h1.6M105.6 651.6h1.6M110.6 651.6h1.6M115.1 651.5h1.6M128.4 651.9h1.6M137.5 652.1h1.6M155.3 652.0h1.6M66.5 653.3h1.6M71.5 653.2h1.6M72.5 653.2h1.6M75.6 653.5h1.6M77.5 653.3h1.6M80.4 653.5h1.6M81.9 653.3h1.6M92.3 653.4h1.6M93.6 653.5h1.6M96.5 653.2h1.6M106.1 653.1h1.6M110.0 653.4h1.6M118.0 653.5h1.6M119.3 653.4h1.6M120.8 653.3h1.6M125.1 653.1h1.6M126.7 653.5h1.6M146.0 653.5h1.6M150.6 653.0h1.6M68.1 654.6h1.6M69.5 654.9h1.6M71.4 654.8h1.6M78.7 654.9h1.6M83.2 654.5h1.6M86.2 655.0h1.6M87.9 654.8h1.6M90.9 654.5h1.6M92.1 654.8h1.6M97.0 655.0h1.6M102.9 655.0h1.6M104.3 654.7h1.6M105.8 654.9h1.6M107.6 654.6h1.6M112.0 654.6h1.6M113.4 654.9h1.6M122.1 655.0h1.6M125.4 654.8h1.6M128.6 654.8h1.6M131.1 654.7h1.6M134.2 654.7h1.6M137.2 654.7h1.6M66.7 656.4h1.6M68.6 656.1h1.6M71.1 656.2h1.6M75.7 656.3h1.6M87.9 656.4h1.6M90.9 656.4h1.6M92.3 656.4h1.6M99.6 656.1h1.6M106.0 656.4h1.6M107.2 656.4h1.6M113.5 656.3h1.6M117.8 656.1h1.6M119.4 656.2h1.6M121.0 656.2h1.6M125.5 656.3h1.6M126.8 656.6h1.6M128.1 656.6h1.6M138.6 656.1h1.6M140.4 656.1h1.6M141.7 656.4h1.6M149.6 656.1h1.6M68.1 657.7h1.6M77.1 657.5h1.6M89.0 657.6h1.6M92.3 657.5h1.6M96.9 657.9h1.6M104.1 657.9h1.6M112.1 658.1h1.6M117.8 657.7h1.6M119.2 658.0h1.6M123.8 657.8h1.6M125.2 658.0h1.6M132.8 657.6h1.6M146.3 657.7h1.6M66.9 659.3h1.6M68.0 659.2h1.6M71.2 659.0h1.6M74.4 659.1h1.6M77.1 659.5h1.6M78.9 659.5h1.6M87.6 659.3h1.6M92.6 659.5h1.6M95.5 659.5h1.6M104.3 659.2h1.6M115.0 659.1h1.6M116.1 659.1h1.6M117.7 659.4h1.6M122.5 659.1h1.6M125.5 659.3h1.6M131.1 659.5h1.6M133.1 659.3h1.6M136.0 659.6h1.6M145.0 659.4h1.6M149.3 659.4h1.6M66.7 661.0h1.6M70.0 660.6h1.6M75.6 660.7h1.6M78.8 661.1h1.6M81.7 660.9h1.6M83.1 661.0h1.6M89.5 660.9h1.6M95.3 661.1h1.6M98.2 660.9h1.6M99.8 660.6h1.6M104.3 661.0h1.6M107.4 660.6h1.6M109.1 660.8h1.6M111.8 660.9h1.6M126.5 660.9h1.6M131.2 660.5h1.6M132.9 660.5h1.6M69.8 662.3h1.6M71.5 662.3h1.6M77.3 662.1h1.6M80.0 662.2h1.6M83.3 662.3h1.6M95.4 662.5h1.6M98.1 662.2h1.6M102.6 662.5h1.6M107.4 662.0h1.6M109.0 662.4h1.6M110.0 662.6h1.6M116.3 662.3h1.6M117.9 662.2h1.6M125.3 662.1h1.6M155.2 662.5h1.6M69.8 663.8h1.6M74.1 663.8h1.6M85.0 663.7h1.6M88.0 663.6h1.6M93.8 663.5h1.6M98.4 663.9h1.6M99.9 663.6h1.6M101.0 663.6h1.6M107.2 663.7h1.6M110.6 663.6h1.6M114.8 663.7h1.6M119.1 663.8h1.6M120.9 664.0h1.6M123.9 663.8h1.6M126.8 664.1h1.6M147.7 664.1h1.6M67.1 665.3h1.6M69.8 665.1h1.6M71.5 665.4h1.6M77.6 665.3h1.6M78.6 665.3h1.6M80.5 665.3h1.6M86.5 665.3h1.6M92.4 665.4h1.6M93.9 665.5h1.6M99.8 665.1h1.6M101.0 665.1h1.6M104.2 665.2h1.6M107.1 665.2h1.6M111.9 665.2h1.6M116.5 665.5h1.6M122.4 665.3h1.6M126.7 665.1h1.6M137.0 665.2h1.6M152.0 665.0h1.6M69.7 666.6h1.6M72.6 666.5h1.6M75.7 667.0h1.6M81.7 667.1h1.6M84.8 666.5h1.6M87.6 666.8h1.6M92.1 666.7h1.6M96.9 666.7h1.6M98.6 666.6h1.6M102.8 666.5h1.6M104.2 667.0h1.6M106.1 666.8h1.6M109.0 666.7h1.6M110.1 667.0h1.6M111.7 667.0h1.6M114.5 667.0h1.6M152.5 667.0h1.6M68.1 668.1h1.6M77.0 668.4h1.6M80.3 668.2h1.6M86.1 668.3h1.6M89.4 668.4h1.6M93.8 668.3h1.6M95.6 668.4h1.6M96.6 668.5h1.6M98.4 668.5h1.6M101.4 668.3h1.6M108.7 668.1h1.6M110.4 668.2h1.6M116.1 668.6h1.6M122.3 668.6h1.6M128.2 668.4h1.6M69.8 669.5h1.6M75.5 669.7h1.6M77.3 669.8h1.6M86.4 669.9h1.6M87.6 669.6h1.6M89.2 670.0h1.6M92.6 669.6h1.6M93.9 669.6h1.6M98.3 670.1h1.6M100.0 669.6h1.6M101.4 669.8h1.6M103.1 669.8h1.6M105.9 670.0h1.6M114.8 670.0h1.6M144.7 669.7h1.6M146.2 669.6h1.6" stroke="#2e32a4" stroke-width="1.6" fill="none"/>
<path d="M259.0 515.1h1.6M255.6 521.3h1.6M249.5 524.6h1.6M248.5 530.0h1.6M249.5 530.3h1.6M264.7 536.2h1.6M257.3 539.0h1.6M254.1 542.4h1.6M199.1 543.9h1.6M254.2 545.2h1.6M266.1 554.6h1.6M174.8 560.4h1.6M152.3 561.9h1.6M234.6 575.5h1.6M134.4 585.6h1.6M225.7 587.2h1.6M113.2 592.0h1.6M126.9 592.0h1.6M116.5 593.6h1.6M201.6 597.8h1.6M94.0 609.6h1.6M95.6 609.5h1.6M182.2 609.9h1.6M86.6 614.5h1.6M176.2 614.3h1.6M165.6 615.7h1.6M173.1 616.0h1.6M171.9 618.9h1.6M80.3 621.9h1.6M149.6 644.5h1.6M131.5 663.9h1.6M117.5 668.0h1.6" stroke="#2e34a7" stroke-width="1.6" fill="none"/>
<path d="M252.6 533.0h1.6M231.6 534.7h1.6M257.4 534.9h1.6M238.1 536.3h1.6M216.5 538.0h1.6M221.1 537.6h1.6M250.0 541.1h1.6M209.2 542.4h1.6M248.4 542.2h1.6M249.6 544.0h1.6M250.1 545.5h1.6M250.1 547.0h1.6M197.5 548.3h1.6M194.2 549.9h1.6M249.7 551.3h1.6M183.9 554.3h1.6M246.7 554.2h1.6M248.1 554.1h1.6M248.2 555.6h1.6M245.3 557.3h1.6M170.3 564.6h1.6M241.1 565.0h1.6M242.6 564.8h1.6M156.9 577.0h1.6M221.3 584.5h1.6M205.1 592.1h1.6M131.4 593.1h1.6M141.8 593.6h1.6M143.1 593.6h1.6M146.1 593.0h1.6M129.9 594.9h1.6M138.7 594.8h1.6M127.0 596.1h1.6M139.1 596.5h1.6M199.0 596.5h1.6M198.8 598.0h1.6M183.8 602.1h1.6M183.8 603.6h1.6M117.7 605.1h1.6M113.5 607.1h1.6M98.4 608.1h1.6M101.4 608.0h1.6M168.6 608.0h1.6M108.8 609.9h1.6M128.6 610.0h1.6M157.1 609.7h1.6M171.8 609.7h1.6M99.6 611.2h1.6M102.8 611.2h1.6M106.0 611.3h1.6M110.5 612.5h1.6M161.1 614.5h1.6M156.8 617.4h1.6M95.2 618.8h1.6M149.2 619.0h1.6M77.0 621.5h1.6M84.6 621.6h1.6M92.3 621.6h1.6M90.8 626.5h1.6M153.9 626.1h1.6M156.5 628.0h1.6M80.6 629.1h1.6M152.2 629.5h1.6M72.9 635.1h1.6M147.7 635.3h1.6M158.4 635.0h1.6M141.6 637.0h1.6M71.1 638.5h1.6M149.5 638.5h1.6M74.6 639.8h1.6M143.6 639.7h1.6M144.7 640.0h1.6M66.7 641.6h1.6M72.9 641.1h1.6M137.6 642.9h1.6M136.1 644.3h1.6M71.5 645.5h1.6M135.7 647.4h1.6M126.6 648.6h1.6M132.6 648.9h1.6M137.2 650.6h1.6M119.1 651.6h1.6M131.0 651.7h1.6M129.6 653.6h1.6M131.1 653.2h1.6M133.0 653.1h1.6M137.0 653.2h1.6M116.3 656.0h1.6M111.8 662.4h1.6M117.8 667.0h1.6M107.2 668.4h1.6" stroke="#2f38ac" stroke-width="1.6" fill="none"/>
<path d="M228.8 536.4h1.6M230.3 536.1h1.6M236.3 536.5h1.6M243.9 536.3h1.6M228.5 538.1h1.6M230.2 537.7h1.6M236.6 538.1h1.6M239.2 537.6h1.6M240.5 537.9h1.6M222.8 539.1h1.6M246.8 539.1h1.6M213.6 540.9h1.6M215.5 540.9h1.6M218.4 540.7h1.6M243.7 542.5h1.6M198.8 548.2h1.6M246.7 548.5h1.6M249.7 548.4h1.6M246.8 549.9h1.6M191.4 552.7h1.6M246.6 552.5h1.6M243.6 554.0h1.6M185.4 555.6h1.6M179.0 560.5h1.6M240.7 560.4h1.6M174.6 562.0h1.6M237.8 566.2h1.6M236.3 567.7h1.6M164.3 572.2h1.6M233.2 572.0h1.6M230.2 574.0h1.6M161.3 576.7h1.6M158.4 578.5h1.6M159.8 578.2h1.6M221.5 579.8h1.6M155.2 581.0h1.6M157.0 581.1h1.6M201.7 590.4h1.6M209.5 590.6h1.6M150.8 592.0h1.6M206.2 591.7h1.6M149.0 593.3h1.6M137.3 595.0h1.6M151.0 598.0h1.6M143.4 599.1h1.6M123.9 600.6h1.6M140.3 601.1h1.6M141.8 600.9h1.6M179.2 600.5h1.6M183.9 600.6h1.6M117.8 602.5h1.6M181.0 602.1h1.6M135.9 604.0h1.6M138.9 603.7h1.6M179.3 603.7h1.6M180.7 603.8h1.6M119.5 605.2h1.6M147.6 605.3h1.6M150.8 605.0h1.6M152.4 605.1h1.6M116.5 606.6h1.6M140.4 606.6h1.6M141.7 606.6h1.6M143.4 606.9h1.6M144.8 606.9h1.6M155.4 607.1h1.6M160.0 606.8h1.6M164.3 606.9h1.6M165.8 606.8h1.6M172.0 606.9h1.6M117.9 608.2h1.6M119.1 608.6h1.6M125.4 608.3h1.6M155.1 608.1h1.6M159.8 608.5h1.6M134.1 609.8h1.6M159.9 610.0h1.6M162.9 609.9h1.6M169.0 609.6h1.6M115.1 611.2h1.6M130.0 611.2h1.6M146.4 611.5h1.6M152.5 611.5h1.6M104.0 612.9h1.6M108.5 613.0h1.6M113.2 613.0h1.6M119.5 612.6h1.6M145.0 613.0h1.6M155.4 612.7h1.6M107.1 614.1h1.6M108.7 614.1h1.6M115.0 614.1h1.6M153.7 614.3h1.6M158.3 614.3h1.6M128.2 615.8h1.6M141.8 616.0h1.6M152.4 615.7h1.6M153.6 615.5h1.6M98.1 617.3h1.6M150.7 617.5h1.6M155.0 617.2h1.6M102.8 619.0h1.6M113.2 618.6h1.6M123.5 619.0h1.6M134.4 618.9h1.6M143.2 618.8h1.6M146.1 618.6h1.6M106.0 620.4h1.6M138.9 620.5h1.6M95.5 622.1h1.6M96.8 621.7h1.6M98.5 621.6h1.6M101.0 621.5h1.6M101.3 623.5h1.6M153.6 623.5h1.6M102.6 624.7h1.6M104.3 624.7h1.6M140.2 624.6h1.6M150.9 625.0h1.6M92.0 626.5h1.6M97.0 626.1h1.6M146.5 627.5h1.6M84.8 629.4h1.6M141.9 629.2h1.6M86.5 630.9h1.6M141.5 631.1h1.6M129.8 632.4h1.6M146.2 632.3h1.6M86.2 633.9h1.6M135.7 633.8h1.6M74.4 635.3h1.6M80.6 635.3h1.6M90.7 635.6h1.6M131.1 635.4h1.6M140.4 635.3h1.6M75.6 636.7h1.6M75.5 638.6h1.6M89.4 638.1h1.6M135.8 638.4h1.6M75.9 639.7h1.6M78.5 639.9h1.6M141.5 640.0h1.6M68.1 641.2h1.6M74.4 641.2h1.6M75.6 641.5h1.6M79.1 641.5h1.6M80.2 641.4h1.6M120.6 641.4h1.6M126.8 641.1h1.6M66.7 643.1h1.6M69.8 643.0h1.6M126.9 642.9h1.6M68.1 644.2h1.6M125.1 645.8h1.6M125.1 647.4h1.6M129.6 647.6h1.6M119.4 648.8h1.6M127.0 650.0h1.6M122.3 651.5h1.6M119.1 655.0h1.6M110.4 657.7h1.6M116.6 658.0h1.6M104.1 662.5h1.6M105.8 662.6h1.6M105.6 663.6h1.6M110.4 665.3h1.6M107.3 667.1h1.6" stroke="#2f3cb2" stroke-width="1.6" fill="none"/>
<path d="M227.2 539.2h1.6M229.1 539.1h1.6M239.2 539.5h1.6M230.5 540.8h1.6M239.4 540.7h1.6M240.6 541.0h1.6M242.6 540.8h1.6M210.7 542.6h1.6M216.7 542.3h1.6M218.4 542.6h1.6M221.3 542.0h1.6M246.6 542.5h1.6M215.3 543.7h1.6M222.8 543.7h1.6M246.9 545.1h1.6M248.2 548.1h1.6M243.8 552.7h1.6M245.1 554.6h1.6M243.6 556.0h1.6M185.5 557.2h1.6M186.7 558.7h1.6M180.6 560.2h1.6M239.3 560.1h1.6M239.2 561.6h1.6M179.3 563.1h1.6M237.6 563.4h1.6M174.8 564.6h1.6M171.8 566.5h1.6M170.5 569.6h1.6M228.8 572.0h1.6M165.7 574.0h1.6M227.2 573.8h1.6M162.9 577.0h1.6M160.0 580.0h1.6M219.9 579.7h1.6M155.4 584.0h1.6M159.5 584.4h1.6M215.0 584.0h1.6M155.1 587.1h1.6M210.9 587.5h1.6M152.3 590.4h1.6M158.5 590.5h1.6M206.5 590.0h1.6M201.8 591.7h1.6M152.6 593.0h1.6M197.5 593.3h1.6M144.9 596.2h1.6M152.6 596.4h1.6M153.7 596.5h1.6M192.9 596.4h1.6M195.8 596.4h1.6M146.1 598.0h1.6M190.1 597.9h1.6M149.2 599.3h1.6M150.8 599.4h1.6M192.7 599.3h1.6M144.6 601.1h1.6M146.3 600.8h1.6M147.8 600.9h1.6M182.5 600.7h1.6M186.9 600.7h1.6M188.0 600.8h1.6M138.8 602.2h1.6M144.8 602.0h1.6M182.5 602.2h1.6M185.2 602.5h1.6M131.5 603.5h1.6M164.4 605.4h1.6M168.7 605.4h1.6M173.2 605.2h1.6M126.9 606.8h1.6M149.2 606.6h1.6M137.3 608.3h1.6M138.6 608.5h1.6M150.6 608.3h1.6M161.3 608.0h1.6M116.1 609.8h1.6M120.9 609.6h1.6M132.6 609.9h1.6M135.8 609.5h1.6M144.8 609.7h1.6M150.6 610.0h1.6M152.1 609.6h1.6M113.1 611.0h1.6M117.5 611.2h1.6M132.7 611.2h1.6M140.3 611.4h1.6M149.2 611.5h1.6M123.8 612.8h1.6M126.8 612.9h1.6M129.9 613.0h1.6M140.1 612.7h1.6M143.1 612.8h1.6M119.2 614.6h1.6M125.1 614.2h1.6M145.0 614.6h1.6M152.3 614.2h1.6M112.0 615.9h1.6M113.1 615.7h1.6M116.4 615.9h1.6M119.3 615.8h1.6M123.7 616.0h1.6M125.2 615.9h1.6M137.4 615.9h1.6M138.7 615.7h1.6M122.4 617.2h1.6M140.3 617.4h1.6M141.9 617.3h1.6M152.6 617.5h1.6M104.4 619.0h1.6M116.4 618.7h1.6M122.1 618.8h1.6M138.7 618.9h1.6M117.8 620.2h1.6M119.2 620.1h1.6M120.9 620.4h1.6M122.3 620.5h1.6M129.8 620.3h1.6M141.6 620.3h1.6M107.1 621.9h1.6M108.8 621.9h1.6M115.1 622.0h1.6M117.6 621.8h1.6M119.5 621.9h1.6M122.5 621.6h1.6M129.9 621.8h1.6M143.2 621.6h1.6M149.3 621.8h1.6M98.3 623.3h1.6M122.4 623.3h1.6M100.1 625.1h1.6M128.4 624.8h1.6M131.6 624.9h1.6M132.8 624.8h1.6M148.1 624.9h1.6M98.2 626.0h1.6M103.1 626.4h1.6M105.9 626.4h1.6M138.9 626.6h1.6M141.6 626.2h1.6M96.9 627.5h1.6M101.3 628.0h1.6M107.5 628.0h1.6M96.7 629.4h1.6M113.5 629.1h1.6M122.6 629.5h1.6M135.6 629.2h1.6M101.4 630.8h1.6M116.4 630.9h1.6M87.6 632.1h1.6M92.2 632.6h1.6M114.6 632.0h1.6M128.3 632.2h1.6M135.5 632.3h1.6M140.5 632.0h1.6M95.3 634.0h1.6M104.4 633.6h1.6M127.0 634.1h1.6M138.7 633.9h1.6M83.5 635.4h1.6M86.2 635.1h1.6M89.5 635.0h1.6M120.6 635.4h1.6M90.8 636.5h1.6M95.1 637.0h1.6M131.2 637.1h1.6M80.5 638.6h1.6M83.5 638.2h1.6M111.6 638.1h1.6M128.3 638.0h1.6M82.0 639.6h1.6M83.1 640.1h1.6M91.0 639.6h1.6M98.2 639.8h1.6M129.7 639.8h1.6M131.0 639.6h1.6M77.3 641.4h1.6M84.7 641.5h1.6M86.3 641.4h1.6M86.3 642.5h1.6M122.0 642.6h1.6M128.0 642.5h1.6M72.9 644.4h1.6M75.7 644.4h1.6M80.4 644.3h1.6M122.6 644.3h1.6M125.1 644.6h1.6M126.8 644.2h1.6M122.6 646.0h1.6M123.9 645.9h1.6M68.2 647.3h1.6M98.3 647.2h1.6M117.8 648.7h1.6M72.9 650.5h1.6M105.5 650.6h1.6M114.8 650.1h1.6M111.9 651.6h1.6M121.1 651.7h1.6M125.5 651.7h1.6M69.7 653.4h1.6M99.6 653.1h1.6M107.4 653.5h1.6M66.7 654.9h1.6M109.0 654.9h1.6M116.4 655.0h1.6M117.6 655.0h1.6M110.2 656.3h1.6M105.9 659.3h1.6M107.2 659.6h1.6M98.2 665.5h1.6M104.2 668.6h1.6M95.1 669.9h1.6" stroke="#3040b7" stroke-width="1.6" fill="none"/>
<path d="M237.8 538.1h1.6M223.0 540.6h1.6M228.8 541.0h1.6M215.4 542.5h1.6M219.7 542.1h1.6M237.9 542.0h1.6M239.4 542.6h1.6M241.0 542.6h1.6M216.7 543.8h1.6M220.0 543.6h1.6M225.8 543.9h1.6M242.0 545.4h1.6M204.6 548.4h1.6M240.7 548.2h1.6M242.0 548.2h1.6M200.3 549.6h1.6M202.0 549.8h1.6M243.6 549.6h1.6M197.0 551.0h1.6M243.6 551.1h1.6M194.6 553.0h1.6M195.5 553.0h1.6M242.5 554.4h1.6M189.7 556.1h1.6M242.1 555.8h1.6M190.1 557.5h1.6M182.1 558.7h1.6M188.3 558.7h1.6M178.1 561.9h1.6M180.7 561.7h1.6M183.7 561.8h1.6M236.3 561.6h1.6M237.6 561.8h1.6M236.0 563.4h1.6M234.6 564.5h1.6M236.3 564.6h1.6M233.4 566.4h1.6M171.9 567.9h1.6M233.3 569.4h1.6M170.1 570.8h1.6M230.4 571.0h1.6M170.5 572.5h1.6M225.7 574.0h1.6M162.9 575.3h1.6M224.3 576.9h1.6M218.4 581.5h1.6M214.0 582.6h1.6M155.4 586.0h1.6M156.6 585.8h1.6M209.4 585.9h1.6M156.6 587.3h1.6M158.3 587.1h1.6M155.3 588.7h1.6M206.5 589.1h1.6M207.7 589.0h1.6M156.8 590.5h1.6M204.9 590.5h1.6M153.6 592.1h1.6M156.9 592.0h1.6M198.9 591.6h1.6M196.0 593.0h1.6M200.5 593.2h1.6M151.0 594.8h1.6M196.0 594.6h1.6M150.7 596.1h1.6M155.1 599.1h1.6M156.5 599.2h1.6M183.6 599.5h1.6M185.0 599.1h1.6M187.0 599.1h1.6M149.2 600.7h1.6M160.1 600.8h1.6M146.4 602.1h1.6M170.5 602.6h1.6M171.8 602.4h1.6M177.7 602.1h1.6M179.2 602.1h1.6M152.3 603.9h1.6M153.7 603.9h1.6M158.1 605.1h1.6M159.7 605.3h1.6M167.3 605.4h1.6M148.0 606.5h1.6M138.9 610.1h1.6M155.4 609.5h1.6M134.0 612.6h1.6M123.6 614.2h1.6M132.9 614.1h1.6M138.8 614.0h1.6M113.6 617.1h1.6M119.4 617.6h1.6M130.0 617.3h1.6M131.4 617.5h1.6M117.5 618.9h1.6M112.0 620.4h1.6M143.2 620.2h1.6M120.9 621.8h1.6M125.1 621.9h1.6M126.8 622.0h1.6M131.4 622.0h1.6M115.1 623.3h1.6M129.5 623.5h1.6M131.1 623.5h1.6M137.5 623.2h1.6M116.1 624.9h1.6M117.9 625.1h1.6M122.3 624.6h1.6M123.9 624.7h1.6M126.9 625.0h1.6M110.5 626.3h1.6M132.5 626.1h1.6M93.9 627.6h1.6M111.6 628.0h1.6M120.7 627.7h1.6M132.9 627.7h1.6M119.3 629.1h1.6M120.5 629.5h1.6M130.0 629.5h1.6M95.5 631.0h1.6M108.9 630.8h1.6M110.0 630.9h1.6M122.4 631.0h1.6M124.1 630.6h1.6M112.0 632.2h1.6M113.6 632.2h1.6M120.6 632.5h1.6M134.3 632.4h1.6M111.6 633.8h1.6M113.6 634.0h1.6M125.0 634.0h1.6M131.2 633.7h1.6M97.0 635.6h1.6M106.0 635.4h1.6M110.5 635.4h1.6M122.3 635.4h1.6M129.7 635.3h1.6M96.7 636.8h1.6M114.8 636.5h1.6M93.9 638.2h1.6M106.0 638.1h1.6M113.4 638.4h1.6M101.1 639.6h1.6M101.0 641.5h1.6M102.8 641.2h1.6M104.3 641.6h1.6M105.9 641.3h1.6M112.0 641.5h1.6M117.7 641.1h1.6M122.1 641.5h1.6M82.0 642.8h1.6M87.8 643.0h1.6M93.7 642.6h1.6M98.4 643.0h1.6M104.2 642.6h1.6M107.1 642.9h1.6M112.1 642.8h1.6M113.6 642.9h1.6M116.3 642.5h1.6M120.9 643.0h1.6M108.7 644.1h1.6M111.8 644.3h1.6M113.6 644.5h1.6M115.0 644.3h1.6M116.2 644.0h1.6M117.6 644.3h1.6M98.0 645.9h1.6M108.6 645.8h1.6M117.5 645.6h1.6M84.8 647.3h1.6M89.5 647.3h1.6M104.1 647.3h1.6M105.7 647.2h1.6M107.3 647.4h1.6M108.6 647.5h1.6M113.3 647.4h1.6M74.2 648.5h1.6M109.0 648.6h1.6M116.2 648.8h1.6M122.3 648.7h1.6M93.7 650.1h1.6M101.5 650.4h1.6M111.8 650.4h1.6M77.4 652.1h1.6M102.6 651.7h1.6M68.2 653.1h1.6M74.2 653.2h1.6M109.0 653.3h1.6M98.2 656.4h1.6M101.4 656.3h1.6M109.1 656.3h1.6M111.7 656.2h1.6M102.6 657.9h1.6M101.4 659.5h1.6M96.6 663.9h1.6M102.6 663.7h1.6M96.9 665.5h1.6M102.6 665.3h1.6M93.6 667.0h1.6M95.1 666.6h1.6M101.3 667.0h1.6" stroke="#3a52c0" stroke-width="1.6" fill="none"/>
<path d="M234.5 539.2h1.6M231.8 540.9h1.6M236.5 540.9h1.6M222.7 542.6h1.6M233.2 542.3h1.6M234.9 542.5h1.6M224.1 543.7h1.6M232.0 544.1h1.6M234.8 543.6h1.6M242.3 543.6h1.6M210.8 545.3h1.6M212.2 545.2h1.6M230.0 545.4h1.6M239.5 545.5h1.6M209.1 546.5h1.6M239.2 548.3h1.6M244.0 548.2h1.6M203.3 549.6h1.6M204.5 549.8h1.6M240.6 549.7h1.6M242.5 549.8h1.6M198.5 551.5h1.6M191.3 555.8h1.6M192.9 555.5h1.6M241.0 555.5h1.6M186.9 557.0h1.6M183.5 558.8h1.6M182.3 560.5h1.6M188.3 560.5h1.6M177.8 564.7h1.6M179.2 564.6h1.6M233.1 564.5h1.6M174.8 566.1h1.6M179.0 566.3h1.6M235.1 566.4h1.6M179.0 568.0h1.6M230.1 569.4h1.6M232.0 569.3h1.6M168.7 573.5h1.6M224.1 573.8h1.6M164.3 575.6h1.6M219.5 576.7h1.6M162.8 578.6h1.6M221.1 578.3h1.6M159.7 581.0h1.6M161.2 581.2h1.6M210.6 584.3h1.6M212.3 585.7h1.6M206.2 587.3h1.6M203.1 590.3h1.6M200.4 591.6h1.6M198.8 593.1h1.6M187.0 595.1h1.6M182.0 596.4h1.6M152.2 597.5h1.6M154.1 598.0h1.6M158.2 597.9h1.6M159.9 597.8h1.6M173.3 597.8h1.6M178.0 598.0h1.6M182.5 597.7h1.6M183.6 597.7h1.6M188.5 597.7h1.6M152.5 599.1h1.6M170.4 599.6h1.6M173.3 599.3h1.6M176.3 599.1h1.6M180.9 599.6h1.6M156.9 600.6h1.6M158.1 600.7h1.6M162.6 600.6h1.6M164.2 600.7h1.6M167.0 600.9h1.6M169.0 600.7h1.6M173.3 600.5h1.6M176.1 601.0h1.6M178.0 600.7h1.6M181.1 601.0h1.6M156.9 602.4h1.6M162.7 602.4h1.6M166.0 602.2h1.6M167.2 602.3h1.6M161.2 604.0h1.6M133.1 612.7h1.6M125.0 618.9h1.6M136.1 619.1h1.6M113.0 620.3h1.6M125.2 623.3h1.6M127.0 623.0h1.6M102.7 627.6h1.6M113.2 627.7h1.6M124.0 627.9h1.6M98.3 629.2h1.6M107.0 629.5h1.6M96.6 631.0h1.6M105.7 631.1h1.6M119.2 631.0h1.6M128.4 630.6h1.6M132.5 630.6h1.6M101.5 634.0h1.6M107.3 633.7h1.6M122.6 633.9h1.6M129.9 633.9h1.6M95.1 635.3h1.6M99.5 635.1h1.6M113.2 635.2h1.6M119.0 635.2h1.6M94.0 636.7h1.6M102.7 636.6h1.6M108.6 636.7h1.6M110.5 636.5h1.6M113.1 636.5h1.6M116.4 636.9h1.6M119.5 637.0h1.6M124.0 636.9h1.6M86.3 638.3h1.6M96.8 638.4h1.6M99.9 638.4h1.6M120.6 638.2h1.6M92.2 639.8h1.6M96.6 639.8h1.6M105.7 640.0h1.6M108.7 640.0h1.6M113.5 639.6h1.6M116.1 640.0h1.6M119.0 640.0h1.6M96.5 641.0h1.6M89.4 643.0h1.6M99.6 643.0h1.6M108.9 643.0h1.6M117.7 642.7h1.6M78.5 644.4h1.6M103.1 644.1h1.6M75.5 645.7h1.6M87.9 645.9h1.6M101.3 646.0h1.6M102.6 646.0h1.6M77.2 647.4h1.6M81.6 647.2h1.6M86.4 647.0h1.6M83.5 649.0h1.6M92.2 648.6h1.6M74.3 650.4h1.6M82.0 650.4h1.6M98.1 651.9h1.6M83.5 653.5h1.6M89.4 653.6h1.6M98.5 653.3h1.6M93.5 654.8h1.6M95.6 655.0h1.6M101.2 654.6h1.6M80.3 656.5h1.6M66.6 657.6h1.6M69.5 658.0h1.6M74.5 657.7h1.6M85.0 657.6h1.6M88.0 658.0h1.6M98.3 657.6h1.6M69.5 659.4h1.6M84.6 659.0h1.6M99.5 659.2h1.6M68.5 660.9h1.6M74.2 660.8h1.6M96.7 660.9h1.6M101.4 660.8h1.6M102.5 660.6h1.6M90.7 663.5h1.6M68.4 665.3h1.6M73.0 665.4h1.6M89.4 665.0h1.6M66.9 668.5h1.6M72.6 668.3h1.6M92.4 668.1h1.6M66.9 669.6h1.6M68.4 669.5h1.6M74.2 669.9h1.6M78.9 669.9h1.6M83.5 669.7h1.6" stroke="#4566c8" stroke-width="1.6" fill="none"/>
<path d="M233.2 541.1h1.6M228.9 542.6h1.6M230.6 542.4h1.6M221.3 543.8h1.6M209.4 545.5h1.6M218.1 545.1h1.6M225.6 545.5h1.6M237.9 545.6h1.6M210.7 546.7h1.6M212.2 547.0h1.6M215.5 546.7h1.6M224.5 546.6h1.6M240.9 546.7h1.6M235.0 549.6h1.6M239.2 550.1h1.6M209.2 551.2h1.6M239.1 551.1h1.6M197.5 552.8h1.6M200.2 552.8h1.6M201.7 552.9h1.6M239.2 554.3h1.6M240.6 554.2h1.6M237.6 555.6h1.6M239.3 557.3h1.6M186.8 560.3h1.6M237.6 560.1h1.6M234.7 561.5h1.6M184.0 563.5h1.6M231.6 564.9h1.6M177.8 566.1h1.6M230.1 566.5h1.6M231.6 566.2h1.6M171.9 569.1h1.6M173.1 569.2h1.6M169.0 570.6h1.6M171.7 570.8h1.6M173.2 570.5h1.6M228.8 570.5h1.6M168.9 572.6h1.6M171.5 572.6h1.6M224.1 572.3h1.6M171.7 575.4h1.6M167.0 577.0h1.6M221.2 577.0h1.6M166.1 578.4h1.6M170.6 578.0h1.6M161.5 579.6h1.6M218.0 579.7h1.6M162.6 583.0h1.6M212.4 582.9h1.6M212.5 584.5h1.6M159.6 585.6h1.6M207.8 586.0h1.6M203.6 587.3h1.6M159.6 589.0h1.6M203.5 588.5h1.6M165.9 590.6h1.6M192.5 591.5h1.6M195.8 591.6h1.6M197.2 591.6h1.6M155.3 593.2h1.6M161.4 593.5h1.6M192.7 593.6h1.6M158.4 595.0h1.6M161.6 594.5h1.6M170.3 594.8h1.6M179.2 595.0h1.6M191.3 594.6h1.6M159.9 596.5h1.6M161.6 596.1h1.6M185.5 596.1h1.6M163.0 597.8h1.6M169.1 597.9h1.6M166.0 599.0h1.6M171.6 599.2h1.6M179.6 599.4h1.6M165.5 601.1h1.6M123.8 620.5h1.6M120.7 631.0h1.6M108.5 633.8h1.6M116.1 633.7h1.6M102.9 635.4h1.6M107.4 635.2h1.6M101.1 637.0h1.6M105.8 637.0h1.6M117.8 636.7h1.6M117.6 638.4h1.6M95.1 639.5h1.6M93.6 641.3h1.6M114.6 641.4h1.6M92.2 642.7h1.6M110.6 642.9h1.6M98.2 644.5h1.6M81.6 645.6h1.6M92.1 645.8h1.6M105.6 645.8h1.6M83.4 647.3h1.6M92.1 647.2h1.6M96.9 647.5h1.6M75.7 648.9h1.6M84.6 649.1h1.6M89.0 649.1h1.6M97.1 648.6h1.6M104.4 648.8h1.6M106.0 648.8h1.6M71.4 650.1h1.6M86.2 650.5h1.6M89.1 650.2h1.6M99.6 650.1h1.6M74.1 651.6h1.6M75.5 651.5h1.6M80.2 652.1h1.6M108.8 651.8h1.6M87.6 653.3h1.6M95.5 653.2h1.6M101.3 653.3h1.6M72.9 654.5h1.6M84.7 654.5h1.6M74.1 656.2h1.6M96.6 656.1h1.6M102.6 656.1h1.6M90.5 657.9h1.6M95.1 658.0h1.6M101.1 658.0h1.6M73.0 659.0h1.6M76.1 659.5h1.6M78.7 662.2h1.6M86.1 662.4h1.6M89.3 662.4h1.6M96.8 662.3h1.6M66.9 663.9h1.6M71.5 664.1h1.6M72.7 664.0h1.6M78.6 664.1h1.6M92.1 664.0h1.6M95.6 663.8h1.6M83.3 665.5h1.6M89.0 666.8h1.6M90.7 666.6h1.6M84.5 668.3h1.6M71.2 669.5h1.6" stroke="#5887d4" stroke-width="1.6" fill="none"/>
<path d="M213.6 545.1h1.6M215.4 545.2h1.6M216.8 545.1h1.6M229.0 545.4h1.6M235.0 545.1h1.6M213.7 547.0h1.6M216.6 546.8h1.6M236.6 546.6h1.6M206.1 548.0h1.6M207.8 548.3h1.6M209.4 548.3h1.6M224.6 548.2h1.6M228.5 548.3h1.6M235.1 548.1h1.6M209.5 549.6h1.6M211.0 549.9h1.6M222.9 549.9h1.6M224.4 549.8h1.6M203.4 551.0h1.6M203.5 552.7h1.6M234.5 552.7h1.6M239.5 552.6h1.6M191.1 558.9h1.6M236.5 558.7h1.6M185.3 560.4h1.6M231.5 560.2h1.6M182.3 563.1h1.6M186.8 563.4h1.6M189.8 563.3h1.6M230.5 563.5h1.6M233.5 563.1h1.6M228.5 566.1h1.6M229.0 567.8h1.6M206.1 569.4h1.6M224.1 570.8h1.6M222.6 572.1h1.6M227.1 572.5h1.6M167.1 575.1h1.6M219.5 575.3h1.6M167.5 578.1h1.6M218.1 578.2h1.6M164.6 579.9h1.6M216.9 579.9h1.6M166.1 581.4h1.6M171.7 581.0h1.6M213.7 581.4h1.6M165.7 582.9h1.6M165.8 584.6h1.6M206.2 584.2h1.6M207.9 584.6h1.6M161.3 586.0h1.6M162.8 586.1h1.6M161.5 589.1h1.6M195.7 588.9h1.6M200.2 588.7h1.6M159.8 590.0h1.6M161.1 590.1h1.6M161.5 591.9h1.6M166.1 591.9h1.6M194.2 592.0h1.6M156.8 593.3h1.6M158.5 593.5h1.6M160.1 593.5h1.6M166.0 594.7h1.6M168.8 594.6h1.6M167.3 596.1h1.6M173.2 596.4h1.6M161.5 597.5h1.6M165.5 598.0h1.6M172.1 597.7h1.6M176.2 598.1h1.6M180.8 597.9h1.6M159.8 599.1h1.6M168.6 599.4h1.6M177.9 599.1h1.6M171.8 601.1h1.6M119.2 625.0h1.6M123.5 632.6h1.6M100.0 633.6h1.6M102.8 639.9h1.6M104.0 645.9h1.6M95.0 647.1h1.6M86.1 649.0h1.6M95.4 650.5h1.6M90.5 653.2h1.6M75.7 654.9h1.6M99.8 654.6h1.6M82.0 657.7h1.6M93.8 657.6h1.6M89.3 659.3h1.6M96.5 659.1h1.6M71.0 660.9h1.6M91.0 660.5h1.6M92.3 660.5h1.6M68.5 662.3h1.6M88.0 662.1h1.6M92.3 662.0h1.6M93.5 662.2h1.6M68.4 663.6h1.6M74.6 665.1h1.6M68.1 666.6h1.6M71.0 666.7h1.6M86.4 666.9h1.6M79.0 668.6h1.6M87.8 668.5h1.6M84.7 670.0h1.6" stroke="#74b5e5" stroke-width="1.6" fill="none"/>
<path d="M230.2 543.6h1.6M219.6 545.3h1.6M221.3 545.6h1.6M233.4 545.5h1.6M236.6 545.6h1.6M218.4 546.8h1.6M222.7 546.9h1.6M227.6 546.7h1.6M230.2 546.9h1.6M231.7 548.3h1.6M207.6 549.9h1.6M215.5 550.1h1.6M236.2 549.8h1.6M202.1 551.5h1.6M204.6 551.4h1.6M224.1 551.1h1.6M236.1 552.6h1.6M238.0 552.7h1.6M240.8 552.8h1.6M195.6 554.1h1.6M205.1 554.5h1.6M224.2 554.1h1.6M235.1 554.4h1.6M236.5 554.5h1.6M197.4 556.0h1.6M201.9 555.9h1.6M206.5 555.7h1.6M231.6 557.2h1.6M233.1 558.8h1.6M236.4 560.3h1.6M186.5 561.7h1.6M223.0 561.9h1.6M232.0 562.1h1.6M183.5 565.0h1.6M187.0 564.5h1.6M227.2 565.0h1.6M225.7 566.4h1.6M182.4 569.6h1.6M176.5 570.9h1.6M171.8 573.8h1.6M180.7 574.1h1.6M222.9 573.9h1.6M215.2 575.1h1.6M221.6 575.2h1.6M170.3 576.5h1.6M174.8 576.8h1.6M213.9 576.8h1.6M168.9 578.2h1.6M188.0 578.3h1.6M215.3 578.3h1.6M216.7 578.0h1.6M209.1 579.9h1.6M213.9 580.0h1.6M164.0 581.2h1.6M167.2 581.3h1.6M200.2 581.4h1.6M206.4 581.5h1.6M216.7 581.5h1.6M207.5 582.7h1.6M211.0 582.5h1.6M170.5 584.1h1.6M201.9 584.4h1.6M184.0 585.7h1.6M205.0 585.6h1.6M198.6 588.8h1.6M201.6 588.9h1.6M185.4 590.5h1.6M198.7 590.6h1.6M155.5 591.6h1.6M164.2 591.8h1.6M164.4 593.4h1.6M165.9 593.1h1.6M186.5 593.1h1.6M194.3 593.5h1.6M174.5 594.7h1.6M177.7 594.9h1.6M185.0 594.8h1.6M162.6 596.6h1.6M164.3 596.0h1.6M177.7 596.6h1.6M164.2 597.9h1.6M174.8 597.7h1.6M162.8 599.4h1.6M164.2 599.5h1.6M161.4 600.6h1.6M87.6 650.6h1.6M102.6 653.3h1.6M89.1 655.0h1.6M77.6 656.1h1.6M84.9 656.1h1.6M78.5 657.7h1.6M80.4 658.0h1.6M81.6 659.1h1.6M90.9 659.6h1.6M86.5 660.7h1.6M72.7 662.0h1.6M74.3 662.5h1.6M81.8 662.1h1.6M85.0 662.4h1.6M90.7 665.5h1.6M80.3 666.5h1.6M83.1 666.7h1.6M71.2 668.2h1.6M74.1 668.5h1.6M72.7 670.1h1.6" stroke="#75c8e0" stroke-width="1.6" fill="none"/>
<path d="M224.3 545.4h1.6M225.8 546.9h1.6M231.7 546.8h1.6M235.0 546.5h1.6M213.5 548.2h1.6M219.9 548.3h1.6M227.2 548.6h1.6M236.2 548.5h1.6M225.7 549.8h1.6M237.5 549.7h1.6M207.7 551.1h1.6M213.9 551.2h1.6M218.3 551.4h1.6M228.5 551.1h1.6M198.7 552.7h1.6M215.4 553.0h1.6M221.0 552.8h1.6M224.5 552.9h1.6M232.0 552.9h1.6M233.3 552.9h1.6M197.4 554.3h1.6M200.3 554.6h1.6M201.9 554.1h1.6M203.3 554.6h1.6M225.8 554.3h1.6M231.9 554.4h1.6M212.1 555.7h1.6M230.6 556.0h1.6M210.7 557.1h1.6M236.3 557.4h1.6M196.0 559.0h1.6M209.5 559.0h1.6M189.5 560.3h1.6M229.0 560.4h1.6M230.2 560.3h1.6M230.3 561.5h1.6M228.8 563.3h1.6M182.5 564.5h1.6M188.4 565.1h1.6M217.1 564.6h1.6M227.4 566.5h1.6M176.3 567.7h1.6M195.9 568.0h1.6M222.6 567.5h1.6M227.4 567.5h1.6M177.6 569.1h1.6M207.6 569.4h1.6M213.6 569.3h1.6M222.6 569.2h1.6M180.6 572.3h1.6M198.8 572.6h1.6M219.9 572.3h1.6M170.0 573.6h1.6M210.9 573.9h1.6M168.6 575.1h1.6M216.9 575.6h1.6M168.7 576.9h1.6M171.9 576.5h1.6M176.2 577.0h1.6M205.0 576.7h1.6M206.2 576.7h1.6M174.5 578.1h1.6M197.2 578.4h1.6M173.1 579.9h1.6M192.8 580.0h1.6M169.0 581.5h1.6M170.3 581.3h1.6M210.8 581.4h1.6M164.6 582.8h1.6M200.3 582.8h1.6M203.2 582.8h1.6M209.5 582.7h1.6M164.1 584.6h1.6M176.2 584.5h1.6M209.2 584.6h1.6M163.0 587.3h1.6M164.3 587.4h1.6M171.8 587.1h1.6M194.5 587.4h1.6M173.3 588.6h1.6M163.0 590.3h1.6M164.4 590.6h1.6M171.8 590.3h1.6M191.5 590.5h1.6M192.5 590.5h1.6M195.9 590.3h1.6M197.1 590.6h1.6M159.8 591.9h1.6M162.7 591.8h1.6M168.9 592.1h1.6M189.9 593.3h1.6M162.7 594.5h1.6M171.8 594.9h1.6M182.1 594.8h1.6M184.1 594.6h1.6M165.6 596.5h1.6M169.0 596.3h1.6M170.0 600.6h1.6M100.1 644.6h1.6M78.5 649.1h1.6M82.0 654.6h1.6M81.8 656.3h1.6M83.1 659.0h1.6M77.3 663.5h1.6M80.3 663.7h1.6M83.5 663.7h1.6M70.0 668.4h1.6" stroke="#63c8cc" stroke-width="1.6" fill="none"/>
<path d="M231.6 545.1h1.6M221.2 547.0h1.6M228.9 547.0h1.6M230.1 548.5h1.6M213.8 549.8h1.6M228.8 549.9h1.6M215.4 551.3h1.6M216.5 551.3h1.6M206.4 552.7h1.6M230.2 554.2h1.6M194.4 555.9h1.6M198.7 556.0h1.6M235.1 555.8h1.6M203.3 557.3h1.6M207.7 557.0h1.6M201.6 558.7h1.6M231.9 558.8h1.6M192.9 560.5h1.6M198.7 560.1h1.6M200.5 560.0h1.6M225.6 560.3h1.6M206.1 561.9h1.6M210.7 561.7h1.6M227.3 561.8h1.6M185.2 563.4h1.6M192.6 563.5h1.6M196.0 563.6h1.6M225.5 563.6h1.6M227.5 563.2h1.6M225.8 564.6h1.6M230.2 564.5h1.6M186.6 566.1h1.6M194.0 566.3h1.6M222.7 566.4h1.6M178.0 567.8h1.6M183.9 568.1h1.6M224.1 567.5h1.6M191.5 569.0h1.6M194.1 569.5h1.6M212.1 569.2h1.6M182.5 570.5h1.6M185.6 571.0h1.6M214.1 570.8h1.6M174.7 572.0h1.6M217.0 573.7h1.6M219.6 573.5h1.6M170.5 575.0h1.6M173.6 575.3h1.6M214.0 575.0h1.6M211.0 576.6h1.6M188.3 579.6h1.6M206.5 579.7h1.6M210.6 579.7h1.6M167.2 583.0h1.6M206.2 582.8h1.6M167.6 584.2h1.6M179.5 584.5h1.6M188.0 584.6h1.6M164.0 585.6h1.6M200.6 585.9h1.6M165.8 587.2h1.6M179.3 587.4h1.6M202.1 587.2h1.6M197.1 588.7h1.6M188.2 590.5h1.6M194.1 590.5h1.6M187.1 591.7h1.6M162.6 593.2h1.6M168.9 593.0h1.6M173.2 593.5h1.6M176.5 593.0h1.6M184.1 593.1h1.6M188.4 593.5h1.6M159.8 594.9h1.6M176.3 594.5h1.6M180.7 594.8h1.6M174.7 596.6h1.6M176.4 596.5h1.6M183.7 596.4h1.6M78.7 652.0h1.6M85.0 653.5h1.6M86.0 653.1h1.6M98.5 654.6h1.6M77.1 660.9h1.6M84.9 660.5h1.6M87.8 660.6h1.6M75.7 662.3h1.6M82.1 668.2h1.6M82.1 669.7h1.6" stroke="#59c8b2" stroke-width="1.6" fill="none"/>
<path d="M222.5 545.1h1.6M219.7 547.0h1.6M212.5 548.4h1.6M223.1 548.0h1.6M225.6 548.3h1.6M218.5 550.0h1.6M212.5 551.0h1.6M231.8 551.3h1.6M233.0 551.2h1.6M209.3 552.8h1.6M206.2 554.3h1.6M207.6 554.2h1.6M233.5 554.3h1.6M210.5 555.8h1.6M195.9 557.5h1.6M200.4 557.6h1.6M227.1 557.4h1.6M228.6 557.0h1.6M203.1 559.1h1.6M218.6 558.5h1.6M221.1 559.1h1.6M195.9 560.0h1.6M210.6 560.1h1.6M220.1 560.0h1.6M188.2 561.6h1.6M189.9 561.7h1.6M199.1 561.9h1.6M214.0 561.6h1.6M215.1 561.9h1.6M211.1 563.3h1.6M219.7 563.3h1.6M213.7 564.8h1.6M221.1 564.7h1.6M228.8 564.6h1.6M212.1 566.6h1.6M221.4 566.2h1.6M204.7 567.6h1.6M217.0 567.9h1.6M225.7 568.1h1.6M219.5 569.5h1.6M183.9 570.6h1.6M220.1 571.1h1.6M176.4 572.0h1.6M203.1 572.1h1.6M206.2 572.2h1.6M221.2 572.1h1.6M183.7 573.8h1.6M191.4 573.8h1.6M198.6 574.1h1.6M218.4 574.0h1.6M175.0 575.2h1.6M177.7 575.5h1.6M184.0 575.1h1.6M187.0 575.5h1.6M210.6 575.5h1.6M173.2 576.5h1.6M171.8 578.2h1.6M173.2 578.6h1.6M193.0 578.0h1.6M198.8 578.1h1.6M214.0 578.5h1.6M167.4 579.7h1.6M189.8 579.6h1.6M207.9 580.1h1.6M185.3 581.3h1.6M188.1 581.4h1.6M191.3 581.5h1.6M203.6 581.6h1.6M204.8 581.4h1.6M207.6 581.1h1.6M215.0 581.3h1.6M168.6 582.9h1.6M171.8 582.9h1.6M181.0 582.8h1.6M189.7 582.7h1.6M194.3 582.8h1.6M198.8 582.5h1.6M162.9 584.3h1.6M168.7 584.3h1.6M165.6 585.8h1.6M170.2 585.6h1.6M196.1 585.9h1.6M169.1 588.6h1.6M179.5 588.8h1.6M183.6 588.8h1.6M170.4 590.2h1.6M173.3 590.3h1.6M181.0 590.4h1.6M167.1 592.1h1.6M173.3 591.7h1.6M191.1 591.7h1.6M175.0 593.4h1.6M170.1 597.9h1.6M167.4 599.1h1.6M86.0 656.3h1.6M75.7 657.9h1.6M72.8 660.8h1.6M80.1 660.8h1.6M81.7 663.8h1.6M74.5 666.8h1.6" stroke="#5dc891" stroke-width="1.6" fill="none"/>
<path d="M215.1 548.3h1.6M230.6 549.8h1.6M211.0 551.5h1.6M221.5 551.5h1.6M227.5 551.2h1.6M212.5 552.9h1.6M228.8 552.7h1.6M198.9 554.5h1.6M215.2 554.0h1.6M209.2 555.5h1.6M214.0 556.0h1.6M221.1 556.0h1.6M228.5 555.6h1.6M233.4 555.8h1.6M194.2 557.4h1.6M201.6 557.0h1.6M218.0 557.4h1.6M226.0 557.1h1.6M230.6 557.2h1.6M197.0 559.0h1.6M200.4 558.5h1.6M207.7 558.7h1.6M230.4 558.9h1.6M194.6 560.2h1.6M201.7 560.1h1.6M213.7 560.1h1.6M224.1 560.1h1.6M227.6 560.4h1.6M195.8 561.5h1.6M197.1 561.5h1.6M200.1 562.0h1.6M208.0 561.8h1.6M212.6 561.8h1.6M209.3 563.0h1.6M213.5 563.2h1.6M221.4 563.2h1.6M191.5 564.7h1.6M206.5 564.6h1.6M215.2 564.6h1.6M183.6 566.0h1.6M192.8 566.1h1.6M204.5 566.3h1.6M209.3 566.4h1.6M215.2 566.4h1.6M218.6 566.3h1.6M220.0 566.3h1.6M201.7 568.1h1.6M179.5 569.3h1.6M185.1 569.6h1.6M195.6 569.0h1.6M215.3 569.2h1.6M221.5 569.5h1.6M178.0 571.0h1.6M179.0 571.1h1.6M187.0 570.9h1.6M208.0 571.0h1.6M217.0 570.7h1.6M218.3 570.7h1.6M221.2 571.1h1.6M183.7 572.2h1.6M182.5 573.7h1.6M197.2 573.9h1.6M215.5 573.7h1.6M176.6 575.2h1.6M203.2 575.2h1.6M218.1 575.0h1.6M179.1 577.1h1.6M215.1 576.9h1.6M176.2 578.2h1.6M204.5 578.4h1.6M169.0 579.5h1.6M171.8 579.8h1.6M175.0 581.5h1.6M179.2 581.4h1.6M195.5 581.5h1.6M197.3 581.4h1.6M173.5 583.0h1.6M175.0 582.7h1.6M176.4 582.7h1.6M183.6 582.5h1.6M201.6 583.0h1.6M182.3 584.1h1.6M196.0 584.4h1.6M173.3 585.9h1.6M186.6 585.6h1.6M191.2 585.9h1.6M202.0 585.7h1.6M176.3 587.0h1.6M196.0 587.6h1.6M197.5 587.6h1.6M199.0 587.0h1.6M164.5 588.5h1.6M167.1 589.0h1.6M170.0 588.6h1.6M189.5 588.8h1.6M191.0 588.6h1.6M176.1 590.1h1.6M186.9 590.3h1.6M178.0 591.9h1.6M188.0 591.6h1.6M170.1 593.6h1.6M177.7 593.3h1.6M181.1 593.0h1.6M185.3 593.1h1.6" stroke="#61c870" stroke-width="1.6" fill="none"/>
<path d="M216.7 548.2h1.6M221.5 549.6h1.6M227.5 549.6h1.6M233.4 549.5h1.6M219.8 551.2h1.6M222.6 552.9h1.6M227.2 552.8h1.6M230.4 552.7h1.6M210.7 554.5h1.6M212.4 554.3h1.6M216.7 554.1h1.6M200.1 555.8h1.6M225.8 555.9h1.6M198.8 557.1h1.6M213.6 557.0h1.6M221.3 557.4h1.6M198.7 559.0h1.6M204.9 558.7h1.6M206.3 559.1h1.6M213.9 558.6h1.6M217.1 558.8h1.6M191.1 560.3h1.6M203.6 560.3h1.6M215.3 560.3h1.6M216.7 560.2h1.6M218.4 560.5h1.6M222.9 560.5h1.6M221.4 562.0h1.6M225.8 561.6h1.6M188.0 563.3h1.6M194.0 563.2h1.6M204.6 563.0h1.6M223.1 563.4h1.6M189.6 564.6h1.6M201.7 564.6h1.6M191.6 566.1h1.6M201.7 566.1h1.6M182.3 567.6h1.6M187.0 567.9h1.6M194.5 568.1h1.6M210.6 567.7h1.6M183.7 569.3h1.6M188.3 569.2h1.6M197.0 569.0h1.6M218.3 569.2h1.6M189.5 570.9h1.6M195.7 570.6h1.6M203.3 570.5h1.6M209.2 571.0h1.6M182.6 572.2h1.6M192.8 572.5h1.6M194.6 572.2h1.6M209.2 572.2h1.6M218.1 572.5h1.6M173.0 573.5h1.6M194.1 573.7h1.6M201.7 573.9h1.6M203.2 574.0h1.6M212.4 573.9h1.6M213.7 573.5h1.6M181.0 575.5h1.6M194.0 575.2h1.6M204.5 575.2h1.6M212.3 575.4h1.6M180.6 576.9h1.6M183.5 577.1h1.6M185.2 576.7h1.6M186.7 576.7h1.6M200.2 576.6h1.6M207.8 576.7h1.6M180.7 578.5h1.6M186.8 578.2h1.6M194.4 578.2h1.6M210.6 578.5h1.6M212.3 578.4h1.6M170.6 580.1h1.6M177.7 580.0h1.6M186.9 579.9h1.6M202.1 580.1h1.6M203.1 579.6h1.6M202.0 581.6h1.6M212.0 581.5h1.6M191.1 582.8h1.6M192.6 582.5h1.6M197.5 582.7h1.6M177.5 584.0h1.6M198.6 584.0h1.6M167.4 585.6h1.6M176.2 585.8h1.6M179.1 585.6h1.6M182.4 585.9h1.6M188.0 586.1h1.6M189.8 585.6h1.6M192.9 585.6h1.6M194.4 585.9h1.6M206.1 585.9h1.6M175.0 587.2h1.6M182.5 587.3h1.6M186.6 587.4h1.6M174.8 589.0h1.6M176.1 588.5h1.6M177.6 588.9h1.6M188.0 588.5h1.6M168.7 590.1h1.6M179.5 590.3h1.6M158.5 591.9h1.6M170.3 591.8h1.6M172.0 592.0h1.6M176.3 592.0h1.6M182.5 591.9h1.6M183.6 591.9h1.6M164.3 594.8h1.6M173.2 594.9h1.6" stroke="#7bcf58" stroke-width="1.6" fill="none"/>
<path d="M230.2 551.0h1.6M210.8 552.9h1.6M216.7 553.0h1.6M209.5 554.1h1.6M221.1 554.4h1.6M228.8 554.3h1.6M227.3 555.5h1.6M197.5 557.1h1.6M219.8 557.3h1.6M233.1 557.5h1.6M219.7 558.5h1.6M225.9 558.5h1.6M197.3 560.3h1.6M206.2 560.4h1.6M207.8 560.1h1.6M191.6 561.8h1.6M197.1 563.0h1.6M208.1 563.4h1.6M200.2 565.0h1.6M204.8 564.6h1.6M210.6 564.9h1.6M222.9 565.0h1.6M195.6 566.6h1.6M197.3 566.0h1.6M200.0 566.4h1.6M210.8 566.1h1.6M212.0 568.0h1.6M213.8 567.9h1.6M221.2 567.6h1.6M203.4 569.3h1.6M204.8 569.4h1.6M209.1 569.3h1.6M216.8 569.4h1.6M198.8 570.8h1.6M211.1 571.0h1.6M185.2 572.2h1.6M207.6 572.6h1.6M212.5 572.5h1.6M185.2 575.5h1.6M197.0 575.2h1.6M200.5 575.1h1.6M206.5 575.2h1.6M209.4 575.0h1.6M197.5 576.7h1.6M198.6 576.6h1.6M202.1 576.7h1.6M203.5 577.0h1.6M212.6 576.6h1.6M179.5 578.4h1.6M200.6 578.3h1.6M203.4 578.5h1.6M207.9 578.3h1.6M195.6 579.8h1.6M173.5 581.4h1.6M176.5 581.1h1.6M179.1 583.0h1.6M195.7 582.8h1.6M205.1 582.5h1.6M171.7 584.5h1.6M174.7 584.2h1.6M185.1 584.4h1.6M200.3 584.4h1.6M203.2 584.1h1.6M198.6 586.0h1.6M168.6 587.2h1.6M173.4 587.2h1.6M177.7 587.3h1.6M183.6 587.2h1.6M185.4 587.3h1.6M185.0 588.5h1.6M186.9 589.1h1.6M177.6 590.5h1.6M180.5 591.7h1.6M179.4 593.3h1.6" stroke="#96d541" stroke-width="1.6" fill="none"/>
<path d="M219.6 549.7h1.6M219.8 554.1h1.6M227.1 554.5h1.6M216.7 555.7h1.6M215.5 558.8h1.6M222.6 558.6h1.6M227.2 558.6h1.6M209.4 560.4h1.6M221.5 560.4h1.6M198.9 563.0h1.6M203.1 563.1h1.6M206.6 563.5h1.6M218.2 563.3h1.6M224.1 563.6h1.6M192.7 564.8h1.6M203.2 564.7h1.6M203.0 566.6h1.6M207.6 566.3h1.6M188.1 567.5h1.6M198.7 567.6h1.6M200.1 567.8h1.6M192.6 571.0h1.6M202.0 570.7h1.6M215.5 570.8h1.6M175.0 573.8h1.6M186.7 574.1h1.6M189.8 573.5h1.6M206.6 573.9h1.6M182.0 575.3h1.6M191.4 577.0h1.6M194.1 577.0h1.6M209.1 576.8h1.6M178.0 578.4h1.6M206.1 578.5h1.6M174.9 579.9h1.6M176.4 580.1h1.6M182.5 580.0h1.6M185.3 580.0h1.6M198.5 581.2h1.6M177.6 583.0h1.6M188.0 582.9h1.6M191.3 584.1h1.6M172.0 585.9h1.6M174.5 585.8h1.6M192.8 587.2h1.6M180.9 588.9h1.6M192.9 588.6h1.6M174.8 590.1h1.6M182.0 590.5h1.6M184.1 590.2h1.6M174.5 591.7h1.6M182.0 593.3h1.6" stroke="#acd935" stroke-width="1.6" fill="none"/>
<path d="M225.7 551.0h1.6M213.6 552.6h1.6M219.7 553.0h1.6M222.7 554.1h1.6M204.6 555.6h1.6M207.9 555.6h1.6M218.4 555.8h1.6M194.2 561.9h1.6M216.5 561.6h1.6M218.3 562.0h1.6M219.9 562.1h1.6M200.5 563.4h1.6M201.9 563.2h1.6M194.3 564.6h1.6M198.7 564.9h1.6M207.6 565.0h1.6M218.4 564.8h1.6M198.8 566.6h1.6M197.2 567.6h1.6M186.9 569.1h1.6M198.9 569.2h1.6M211.1 569.3h1.6M188.3 571.0h1.6M197.5 570.6h1.6M200.4 570.9h1.6M215.5 572.6h1.6M205.0 573.7h1.6M191.3 575.4h1.6M182.4 578.5h1.6M183.6 580.1h1.6M205.0 580.0h1.6M186.5 581.4h1.6M192.9 581.4h1.6M209.2 581.3h1.6M173.5 584.0h1.6M192.8 584.6h1.6M185.2 586.0h1.6M194.4 589.1h1.6M167.4 590.6h1.6" stroke="#c0db30" stroke-width="1.6" fill="none"/>
<path d="M218.0 554.3h1.6M222.6 556.1h1.6M224.1 555.6h1.6M222.8 557.5h1.6M203.3 561.6h1.6M209.1 561.6h1.6M212.4 563.1h1.6M216.8 563.1h1.6M220.1 564.9h1.6M224.2 566.4h1.6M190.1 567.7h1.6M203.5 567.7h1.6M206.4 567.9h1.6M192.8 569.1h1.6M205.1 571.1h1.6M178.1 572.5h1.6M187.0 572.2h1.6M189.8 572.5h1.6M201.9 572.4h1.6M200.4 573.9h1.6M209.6 573.7h1.6M189.9 575.4h1.6M196.1 575.5h1.6M198.9 575.3h1.6M201.7 575.3h1.6M183.8 578.3h1.6M189.7 578.3h1.6M191.3 578.3h1.6M196.0 578.1h1.6M201.9 578.1h1.6M179.3 579.8h1.6M181.0 580.0h1.6M198.6 579.8h1.6M180.7 581.1h1.6M184.1 584.5h1.6M177.9 585.6h1.6M170.1 587.5h1.6M190.1 587.3h1.6" stroke="#d3d92c" stroke-width="1.6" fill="none"/>
<path d="M206.2 557.5h1.6M209.5 557.3h1.6M191.0 567.8h1.6M209.3 568.1h1.6M207.5 574.1h1.6M188.3 575.1h1.6M188.1 576.5h1.6M189.6 576.7h1.6M192.7 576.9h1.6M186.7 582.7h1.6M194.4 584.4h1.6M168.5 585.7h1.6M188.4 587.0h1.6" stroke="#e0ce2e" stroke-width="1.6" fill="none"/>
<path d="M216.7 566.1h1.6M207.6 567.7h1.6M201.9 569.5h1.6M206.1 570.9h1.6M191.6 572.4h1.6M210.5 572.4h1.6M182.2 576.9h1.6M185.3 578.6h1.6M194.1 579.5h1.6M197.3 579.6h1.6M178.1 581.4h1.6M183.7 581.1h1.6M185.3 582.5h1.6M180.6 584.5h1.6M189.8 584.3h1.6M197.4 584.1h1.6" stroke="#eec230" stroke-width="1.6" fill="none"/>
<path d="M204.6 557.1h1.6M212.6 560.5h1.6M213.7 566.6h1.6M191.2 570.8h1.6M194.4 571.1h1.6M212.3 570.8h1.6M195.5 574.1h1.6M189.9 581.5h1.6" stroke="#f0a82d" stroke-width="1.6" fill="none"/>
<path d="M200.3 569.6h1.6M205.0 572.1h1.6M200.5 580.1h1.6" stroke="#f08b28" stroke-width="1.6" fill="none"/>
<path d="M188.3 574.1h1.6M192.6 575.1h1.6" stroke="#ea6b24" stroke-width="1.6" fill="none"/>
<path d="M205.0 562.0h1.6M195.9 564.6h1.6M192.5 573.8h1.6" stroke="#e34a1f" stroke-width="1.6" fill="none"/>
<path d="M289.7 28.3h1.7M296.5 31.0h1.7M311.4 28.3h1.7M314.3 28.3h1.7M323.5 33.5h1.7M344.1 46.6h1.7M272.5 33.5h1.7M265.7 37.9h1.7M282.8 39.7h1.7M284.6 37.4h1.7M286.2 35.6h1.7M292.0 39.7h1.7M294.2 35.1h1.7M297.7 37.9h1.7M297.7 42.0h1.7M261.1 52.3h1.7M259.5 54.6h1.7M264.5 57.3h1.7M257.7 60.7h1.7M249.0 62.6h1.7M261.1 64.8h1.7M257.7 69.0h1.7M254.7 73.3h1.7M237.6 72.4h1.7M273.7 69.0h1.7M272.5 70.1h1.7M288.5 67.8h1.7M308.0 67.8h1.7M266.8 74.4h1.7M270.9 74.4h1.7M268.0 77.4h1.7M279.4 77.6h1.7M286.2 79.2h1.7M289.7 79.7h1.7M286.2 80.8h1.7M294.7 74.4h1.7M290.8 74.4h1.7M235.5 80.8h1.7M236.0 84.9h1.7M213.8 89.3h1.7M224.1 94.5h1.7M228.7 92.7h1.7M285.1 88.1h1.7M280.5 94.5h1.7M274.8 100.3h1.7M288.5 100.3h1.7M265.7 108.7h1.7M249.0 109.8h1.7M245.8 112.8h1.7M243.3 118.5h1.7M216.1 109.8h1.7M205.1 115.1h1.7M208.6 123.8h1.7M223.9 131.1h1.7M202.9 133.4h1.7M208.6 137.9h1.7M266.8 127.7h1.7M273.7 134.5h1.7M285.1 125.8h1.7M281.7 147.1h1.7M271.4 143.7h1.7" stroke="#3a3aa2" stroke-width="1.7" fill="none"/>
<path d="M631.2 33.3h1.7M677.8 41.1h1.7M650.6 43.1h1.7M657.3 45.4h1.7M621.4 49.5h1.7M644.2 51.8h1.7M631.2 55.9h1.7M652.9 67.1h1.7M615.9 70.1h1.7M622.5 70.1h1.7M617.3 76.7h1.7M642.0 76.7h1.7M610.0 79.0h1.7M611.8 81.1h1.7M631.2 81.1h1.7M580.3 90.0h1.7M599.0 92.9h1.7M641.0 88.8h1.7M589.4 105.3h1.7M589.0 108.2h1.7M599.9 108.2h1.7M621.4 105.3h1.7M621.4 112.4h1.7M647.4 108.2h1.7M660.7 105.0h1.7M581.6 114.6h1.7M557.0 115.8h1.7M644.2 115.8h1.7M650.0 117.4h1.7M652.9 116.9h1.7M648.8 119.0h1.7M599.9 123.6h1.7M557.9 128.8h1.7M626.0 123.6h1.7M626.0 126.5h1.7M635.1 125.4h1.7M637.8 125.4h1.7M644.2 127.7h1.7M646.5 130.0h1.7M605.4 130.0h1.7M611.8 131.8h1.7" stroke="#3a3aa2" stroke-width="1.7" fill="none"/>
<path d="M324.1 409.9h1.7M342.2 410.6h1.7M258.6 426.8h1.7M276.6 431.9h1.7M277.9 435.2h1.7M299.3 430.8h1.7M237.7 445.1h1.7M266.3 444.0h1.7M265.2 450.2h1.7M300.4 449.3h1.7M246.5 454.6h1.7M216.3 468.2h1.7M226.0 470.4h1.7M264.1 466.0h1.7M240.5 477.9h1.7M243.2 477.9h1.7M305.9 477.0h1.7M265.2 492.8h1.7M294.9 490.2h1.7M226.0 508.5h1.7M239.4 504.7h1.7M215.0 516.2h1.7M211.3 522.6h1.7M304.8 522.6h1.7M290.5 510.7h1.7" stroke="#3a3aa2" stroke-width="1.7" fill="none"/>
</g>
<path d="M62.5 221.8H144.8V300.0" stroke="#2a2a2a" stroke-width="1.4" fill="none"/>
<ellipse cx="201.6" cy="195.3" rx="56.5" ry="27.5" transform="rotate(-29.95 201.6 195.3)" stroke="#2a2a2a" stroke-width="1.4" fill="none"/>
<path d="M425.5 223.8H504.6V302.8" stroke="#2a2a2a" stroke-width="1.4" fill="none"/>
<ellipse cx="555.4" cy="197.1" rx="54.07" ry="28.22" transform="rotate(-32.91 555.4 197.1)" stroke="#2a2a2a" stroke-width="1.4" fill="none"/>
<path d="M65.6 594.7H147.6V672.3" stroke="#2a2a2a" stroke-width="1.4" fill="none"/>
<ellipse cx="199.7" cy="569.9" rx="55.94" ry="27.48" transform="rotate(-29.63 199.7 569.9)" stroke="#2a2a2a" stroke-width="1.4" fill="none"/>
<path d="M62.5 26.4H350.5" stroke="#111" stroke-width="1.5"/>
<path d="M350.75 25.65V300.75" stroke="#111" stroke-width="2.0"/>
<path d="M62.5 25.65V300.0M61.75 300.0H350.5" stroke="#111" stroke-width="1.5"/>
<path d="M62.50 300.0v8.5M62.5 300.00h-8.5M84.17 300.0v3.8M62.5 279.41h-3.8M96.85 300.0v3.8M62.5 267.36h-3.8M105.85 300.0v3.8M62.5 258.82h-3.8M112.83 300.0v6M62.5 252.19h-6M118.53 300.0v3.8M62.5 246.77h-3.8M123.35 300.0v3.8M62.5 242.20h-3.8M127.52 300.0v3.8M62.5 238.23h-3.8M131.21 300.0v3.8M62.5 234.73h-3.8M134.50 300.0v8.5M62.5 231.60h-8.5M156.17 300.0v3.8M62.5 211.01h-3.8M168.85 300.0v3.8M62.5 198.96h-3.8M177.85 300.0v3.8M62.5 190.42h-3.8M184.83 300.0v6M62.5 183.79h-6M190.53 300.0v3.8M62.5 178.37h-3.8M195.35 300.0v3.8M62.5 173.80h-3.8M199.52 300.0v3.8M62.5 169.83h-3.8M203.21 300.0v3.8M62.5 166.33h-3.8M206.50 300.0v8.5M62.5 163.20h-8.5M228.17 300.0v3.8M62.5 142.61h-3.8M240.85 300.0v3.8M62.5 130.56h-3.8M249.85 300.0v3.8M62.5 122.02h-3.8M256.83 300.0v6M62.5 115.39h-6M262.53 300.0v3.8M62.5 109.97h-3.8M267.35 300.0v3.8M62.5 105.40h-3.8M271.52 300.0v3.8M62.5 101.43h-3.8M275.21 300.0v3.8M62.5 97.93h-3.8M278.50 300.0v8.5M62.5 94.80h-8.5M300.17 300.0v3.8M62.5 74.21h-3.8M312.85 300.0v3.8M62.5 62.16h-3.8M321.85 300.0v3.8M62.5 53.62h-3.8M328.83 300.0v6M62.5 46.99h-6M334.53 300.0v3.8M62.5 41.57h-3.8M339.35 300.0v3.8M62.5 37.00h-3.8M343.52 300.0v3.8M62.5 33.03h-3.8M347.21 300.0v3.8M62.5 29.53h-3.8M350.50 300.0v8.5M62.5 26.40h-8.5" stroke="#111" stroke-width="1.3" fill="none"/>
<path d="M425.5 25.9H701.8" stroke="#111" stroke-width="1.5"/>
<path d="M702.05 25.15V303.55" stroke="#111" stroke-width="2.0"/>
<path d="M425.5 25.15V302.8M424.75 302.8H701.8" stroke="#111" stroke-width="1.5"/>
<path d="M425.50 302.8v8.5M425.5 302.80h-8.5M446.29 302.8v3.8M425.5 281.96h-3.8M458.45 302.8v3.8M425.5 269.77h-3.8M467.08 302.8v3.8M425.5 261.13h-3.8M473.78 302.8v6M425.5 254.42h-6M479.25 302.8v3.8M425.5 248.94h-3.8M483.87 302.8v3.8M425.5 244.30h-3.8M487.88 302.8v3.8M425.5 240.29h-3.8M491.41 302.8v3.8M425.5 236.75h-3.8M494.57 302.8v8.5M425.5 233.58h-8.5M515.36 302.8v3.8M425.5 212.74h-3.8M527.52 302.8v3.8M425.5 200.55h-3.8M536.15 302.8v3.8M425.5 191.91h-3.8M542.85 302.8v6M425.5 185.20h-6M548.32 302.8v3.8M425.5 179.72h-3.8M552.94 302.8v3.8M425.5 175.08h-3.8M556.95 302.8v3.8M425.5 171.07h-3.8M560.48 302.8v3.8M425.5 167.53h-3.8M563.64 302.8v8.5M425.5 164.36h-8.5M584.43 302.8v3.8M425.5 143.52h-3.8M596.59 302.8v3.8M425.5 131.33h-3.8M605.22 302.8v3.8M425.5 122.69h-3.8M611.92 302.8v6M425.5 115.98h-6M617.39 302.8v3.8M425.5 110.50h-3.8M622.01 302.8v3.8M425.5 105.86h-3.8M626.02 302.8v3.8M425.5 101.85h-3.8M629.55 302.8v3.8M425.5 98.31h-3.8M632.71 302.8v8.5M425.5 95.14h-8.5M653.50 302.8v3.8M425.5 74.30h-3.8M665.66 302.8v3.8M425.5 62.11h-3.8M674.29 302.8v3.8M425.5 53.47h-3.8M680.99 302.8v6M425.5 46.76h-6M686.46 302.8v3.8M425.5 41.28h-3.8M691.08 302.8v3.8M425.5 36.64h-3.8M695.09 302.8v3.8M425.5 32.63h-3.8M698.62 302.8v3.8M425.5 29.09h-3.8M701.80 302.8v8.5M425.5 25.90h-8.5" stroke="#111" stroke-width="1.3" fill="none"/>
<path d="M65.6 400.3H352.4" stroke="#111" stroke-width="1.5"/>
<path d="M352.65 399.55V673.05" stroke="#111" stroke-width="2.0"/>
<path d="M65.6 399.55V672.3M64.85 672.3H352.4" stroke="#111" stroke-width="1.5"/>
<path d="M65.60 672.3v8.5M65.6 672.30h-8.5M87.18 672.3v3.8M65.6 651.83h-3.8M99.81 672.3v3.8M65.6 639.86h-3.8M108.77 672.3v3.8M65.6 631.36h-3.8M115.72 672.3v6M65.6 624.77h-6M121.39 672.3v3.8M65.6 619.39h-3.8M126.19 672.3v3.8M65.6 614.83h-3.8M130.35 672.3v3.8M65.6 610.89h-3.8M134.02 672.3v3.8M65.6 607.41h-3.8M137.30 672.3v8.5M65.6 604.30h-8.5M158.88 672.3v3.8M65.6 583.83h-3.8M171.51 672.3v3.8M65.6 571.86h-3.8M180.47 672.3v3.8M65.6 563.36h-3.8M187.42 672.3v6M65.6 556.77h-6M193.09 672.3v3.8M65.6 551.39h-3.8M197.89 672.3v3.8M65.6 546.83h-3.8M202.05 672.3v3.8M65.6 542.89h-3.8M205.72 672.3v3.8M65.6 539.41h-3.8M209.00 672.3v8.5M65.6 536.30h-8.5M230.58 672.3v3.8M65.6 515.83h-3.8M243.21 672.3v3.8M65.6 503.86h-3.8M252.17 672.3v3.8M65.6 495.36h-3.8M259.12 672.3v6M65.6 488.77h-6M264.79 672.3v3.8M65.6 483.39h-3.8M269.59 672.3v3.8M65.6 478.83h-3.8M273.75 672.3v3.8M65.6 474.89h-3.8M277.42 672.3v3.8M65.6 471.41h-3.8M280.70 672.3v8.5M65.6 468.30h-8.5M302.28 672.3v3.8M65.6 447.83h-3.8M314.91 672.3v3.8M65.6 435.86h-3.8M323.87 672.3v3.8M65.6 427.36h-3.8M330.82 672.3v6M65.6 420.77h-6M336.49 672.3v3.8M65.6 415.39h-3.8M341.29 672.3v3.8M65.6 410.83h-3.8M345.45 672.3v3.8M65.6 406.89h-3.8M349.12 672.3v3.8M65.6 403.41h-3.8M352.40 672.3v8.5M65.6 400.30h-8.5" stroke="#111" stroke-width="1.3" fill="none"/>
<text transform="translate(239.98,211.90) scale(1.042,1)" font-size="12.2" style="font-family:&quot;Liberation Sans&quot;,sans-serif;font-weight:normal" fill="#2a2a2a" stroke="#2a2a2a" stroke-width="0.35">P</text>
<text transform="translate(240.39,231.20) scale(1.020,1)" font-size="13.2" style="font-family:&quot;Liberation Sans&quot;,sans-serif;font-weight:normal" fill="#2a2a2a" stroke="#2a2a2a" stroke-width="0.35">8</text>
<path d="M372,0L372,-560Q330,-520 262,-480Q195,-440 141,-420L141,-505Q238,-551 310,-616Q383,-681 413,-716L462,-716L462,0Z" transform="translate(247.88,231.20) scale(0.01346,0.01320)" fill="#2a2a2a" stroke="#2a2a2a" stroke-width="0.35" vector-effect="non-scaling-stroke"/>
<text transform="translate(255.37,231.20) scale(1.020,1)" font-size="13.2" style="font-family:&quot;Liberation Sans&quot;,sans-serif;font-weight:normal" fill="#2a2a2a" stroke="#2a2a2a" stroke-width="0.35">.</text>
<text transform="translate(259.11,231.20) scale(1.020,1)" font-size="13.2" style="font-family:&quot;Liberation Sans&quot;,sans-serif;font-weight:normal" fill="#2a2a2a" stroke="#2a2a2a" stroke-width="0.35">5</text>
<text transform="translate(266.59,231.20) scale(1.020,1)" font-size="13.2" style="font-family:&quot;Liberation Sans&quot;,sans-serif;font-weight:normal" fill="#2a2a2a" stroke="#2a2a2a" stroke-width="0.35">%</text>
<text transform="translate(158.28,267.20) scale(1.114,1)" font-size="10.0" style="font-family:&quot;Liberation Sans&quot;,sans-serif;font-weight:bold" fill="#2a2a2a" stroke="#2a2a2a" stroke-width="0.35">M</text>
<path d="M372,0L372,-560Q330,-520 262,-480Q195,-440 141,-420L141,-505Q238,-551 310,-616Q383,-681 413,-716L462,-716L462,0Z" transform="translate(157.44,287.30) scale(0.01387,0.01320)" fill="#2a2a2a" stroke="#2a2a2a" stroke-width="0.35" vector-effect="non-scaling-stroke"/>
<text transform="translate(165.16,287.30) scale(1.051,1)" font-size="13.2" style="font-family:&quot;Liberation Sans&quot;,sans-serif;font-weight:normal" fill="#2a2a2a" stroke="#2a2a2a" stroke-width="0.35">2</text>
<text transform="translate(172.87,287.30) scale(1.051,1)" font-size="13.2" style="font-family:&quot;Liberation Sans&quot;,sans-serif;font-weight:normal" fill="#2a2a2a" stroke="#2a2a2a" stroke-width="0.35">.</text>
<text transform="translate(176.73,287.30) scale(1.051,1)" font-size="13.2" style="font-family:&quot;Liberation Sans&quot;,sans-serif;font-weight:normal" fill="#2a2a2a" stroke="#2a2a2a" stroke-width="0.35">2</text>
<text transform="translate(184.44,287.30) scale(1.051,1)" font-size="13.2" style="font-family:&quot;Liberation Sans&quot;,sans-serif;font-weight:normal" fill="#2a2a2a" stroke="#2a2a2a" stroke-width="0.35">%</text>
<text transform="translate(591.61,212.80) scale(1.011,1)" font-size="12.2" style="font-family:&quot;Liberation Sans&quot;,sans-serif;font-weight:normal" fill="#2a2a2a" stroke="#2a2a2a" stroke-width="0.35">P</text>
<text transform="translate(592.09,233.20) scale(0.966,1)" font-size="13.2" style="font-family:&quot;Liberation Sans&quot;,sans-serif;font-weight:normal" fill="#2a2a2a" stroke="#2a2a2a" stroke-width="0.35">54.6%</text>
<text transform="translate(517.29,269.60) scale(1.086,1)" font-size="10.0" style="font-family:&quot;Liberation Sans&quot;,sans-serif;font-weight:bold" fill="#2a2a2a" stroke="#2a2a2a" stroke-width="0.35">M</text>
<text transform="translate(517.49,289.50) scale(0.969,1)" font-size="13.2" style="font-family:&quot;Liberation Sans&quot;,sans-serif;font-weight:normal" fill="#2a2a2a" stroke="#2a2a2a" stroke-width="0.35">37.0%</text>
<text transform="translate(237.88,586.80) scale(1.042,1)" font-size="12.2" style="font-family:&quot;Liberation Sans&quot;,sans-serif;font-weight:normal" fill="#2a2a2a" stroke="#2a2a2a" stroke-width="0.35">P</text>
<text transform="translate(238.28,606.40) scale(0.993,1)" font-size="13.2" style="font-family:&quot;Liberation Sans&quot;,sans-serif;font-weight:normal" fill="#2a2a2a" stroke="#2a2a2a" stroke-width="0.35">5</text>
<text transform="translate(245.57,606.40) scale(0.993,1)" font-size="13.2" style="font-family:&quot;Liberation Sans&quot;,sans-serif;font-weight:normal" fill="#2a2a2a" stroke="#2a2a2a" stroke-width="0.35">4</text>
<text transform="translate(252.86,606.40) scale(0.993,1)" font-size="13.2" style="font-family:&quot;Liberation Sans&quot;,sans-serif;font-weight:normal" fill="#2a2a2a" stroke="#2a2a2a" stroke-width="0.35">.</text>
<path d="M372,0L372,-560Q330,-520 262,-480Q195,-440 141,-420L141,-505Q238,-551 310,-616Q383,-681 413,-716L462,-716L462,0Z" transform="translate(256.50,606.40) scale(0.01311,0.01320)" fill="#2a2a2a" stroke="#2a2a2a" stroke-width="0.35" vector-effect="non-scaling-stroke"/>
<text transform="translate(263.79,606.40) scale(0.993,1)" font-size="13.2" style="font-family:&quot;Liberation Sans&quot;,sans-serif;font-weight:normal" fill="#2a2a2a" stroke="#2a2a2a" stroke-width="0.35">%</text>
<text transform="translate(160.86,639.70) scale(1.143,1)" font-size="10.0" style="font-family:&quot;Liberation Sans&quot;,sans-serif;font-weight:bold" fill="#2a2a2a" stroke="#2a2a2a" stroke-width="0.35">M</text>
<text transform="translate(161.07,659.10) scale(1.010,1)" font-size="13.2" style="font-family:&quot;Liberation Sans&quot;,sans-serif;font-weight:normal" fill="#2a2a2a" stroke="#2a2a2a" stroke-width="0.35">37.3%</text>
<path d="M372,0L372,-560Q330,-520 262,-480Q195,-440 141,-420L141,-505Q238,-551 310,-616Q383,-681 413,-716L462,-716L462,0Z" transform="translate(65.71,327.50) scale(0.01340,0.01340)" fill="#2a2a2a" stroke="#2a2a2a" stroke-width="0.5" vector-effect="non-scaling-stroke"/>
<text transform="translate(75.01,327.50) scale(0.920,1)" font-size="13.4" style="font-family:&quot;Liberation Sans&quot;,sans-serif;font-weight:normal" fill="#2a2a2a" stroke="#2a2a2a" stroke-width="0.5">0</text>
<text transform="translate(82.31,318.00) scale(0.920,1)" font-size="13.4" style="font-family:&quot;Liberation Sans&quot;,sans-serif;font-weight:normal" fill="#2a2a2a" stroke="#2a2a2a" stroke-width="0.5">0</text>
<path d="M372,0L372,-560Q330,-520 262,-480Q195,-440 141,-420L141,-505Q238,-551 310,-616Q383,-681 413,-716L462,-716L462,0Z" transform="translate(126.61,327.50) scale(0.01340,0.01340)" fill="#2a2a2a" stroke="#2a2a2a" stroke-width="0.5" vector-effect="non-scaling-stroke"/>
<text transform="translate(135.91,327.50) scale(0.920,1)" font-size="13.4" style="font-family:&quot;Liberation Sans&quot;,sans-serif;font-weight:normal" fill="#2a2a2a" stroke="#2a2a2a" stroke-width="0.5">0</text>
<path d="M372,0L372,-560Q330,-520 262,-480Q195,-440 141,-420L141,-505Q238,-551 310,-616Q383,-681 413,-716L462,-716L462,0Z" transform="translate(142.51,318.00) scale(0.01340,0.01340)" fill="#2a2a2a" stroke="#2a2a2a" stroke-width="0.5" vector-effect="non-scaling-stroke"/>
<path d="M372,0L372,-560Q330,-520 262,-480Q195,-440 141,-420L141,-505Q238,-551 310,-616Q383,-681 413,-716L462,-716L462,0Z" transform="translate(195.51,327.50) scale(0.01340,0.01340)" fill="#2a2a2a" stroke="#2a2a2a" stroke-width="0.5" vector-effect="non-scaling-stroke"/>
<text transform="translate(204.81,327.50) scale(0.920,1)" font-size="13.4" style="font-family:&quot;Liberation Sans&quot;,sans-serif;font-weight:normal" fill="#2a2a2a" stroke="#2a2a2a" stroke-width="0.5">0</text>
<text transform="translate(212.58,318.00) scale(0.920,1)" font-size="13.4" style="font-family:&quot;Liberation Sans&quot;,sans-serif;font-weight:normal" fill="#2a2a2a" stroke="#2a2a2a" stroke-width="0.5">2</text>
<path d="M372,0L372,-560Q330,-520 262,-480Q195,-440 141,-420L141,-505Q238,-551 310,-616Q383,-681 413,-716L462,-716L462,0Z" transform="translate(262.21,327.50) scale(0.01340,0.01340)" fill="#2a2a2a" stroke="#2a2a2a" stroke-width="0.5" vector-effect="non-scaling-stroke"/>
<text transform="translate(271.51,327.50) scale(0.920,1)" font-size="13.4" style="font-family:&quot;Liberation Sans&quot;,sans-serif;font-weight:normal" fill="#2a2a2a" stroke="#2a2a2a" stroke-width="0.5">0</text>
<text transform="translate(278.81,318.00) scale(0.920,1)" font-size="13.4" style="font-family:&quot;Liberation Sans&quot;,sans-serif;font-weight:normal" fill="#2a2a2a" stroke="#2a2a2a" stroke-width="0.5">3</text>
<path d="M372,0L372,-560Q330,-520 262,-480Q195,-440 141,-420L141,-505Q238,-551 310,-616Q383,-681 413,-716L462,-716L462,0Z" transform="translate(331.21,327.50) scale(0.01340,0.01340)" fill="#2a2a2a" stroke="#2a2a2a" stroke-width="0.5" vector-effect="non-scaling-stroke"/>
<text transform="translate(340.51,327.50) scale(0.920,1)" font-size="13.4" style="font-family:&quot;Liberation Sans&quot;,sans-serif;font-weight:normal" fill="#2a2a2a" stroke="#2a2a2a" stroke-width="0.5">0</text>
<text transform="translate(348.25,318.00) scale(0.920,1)" font-size="13.4" style="font-family:&quot;Liberation Sans&quot;,sans-serif;font-weight:normal" fill="#2a2a2a" stroke="#2a2a2a" stroke-width="0.5">4</text>
<path d="M372,0L372,-560Q330,-520 262,-480Q195,-440 141,-420L141,-505Q238,-551 310,-616Q383,-681 413,-716L462,-716L462,0Z" transform="translate(25.51,50.30) scale(0.01340,0.01340)" fill="#2a2a2a" stroke="#2a2a2a" stroke-width="0.5" vector-effect="non-scaling-stroke"/>
<text transform="translate(34.81,50.30) scale(0.920,1)" font-size="13.4" style="font-family:&quot;Liberation Sans&quot;,sans-serif;font-weight:normal" fill="#2a2a2a" stroke="#2a2a2a" stroke-width="0.5">0</text>
<text transform="translate(42.55,40.50) scale(0.920,1)" font-size="13.4" style="font-family:&quot;Liberation Sans&quot;,sans-serif;font-weight:normal" fill="#2a2a2a" stroke="#2a2a2a" stroke-width="0.5">4</text>
<path d="M372,0L372,-560Q330,-520 262,-480Q195,-440 141,-420L141,-505Q238,-551 310,-616Q383,-681 413,-716L462,-716L462,0Z" transform="translate(25.51,101.00) scale(0.01340,0.01340)" fill="#2a2a2a" stroke="#2a2a2a" stroke-width="0.5" vector-effect="non-scaling-stroke"/>
<text transform="translate(34.81,101.00) scale(0.920,1)" font-size="13.4" style="font-family:&quot;Liberation Sans&quot;,sans-serif;font-weight:normal" fill="#2a2a2a" stroke="#2a2a2a" stroke-width="0.5">0</text>
<text transform="translate(42.31,91.20) scale(0.920,1)" font-size="13.4" style="font-family:&quot;Liberation Sans&quot;,sans-serif;font-weight:normal" fill="#2a2a2a" stroke="#2a2a2a" stroke-width="0.5">3</text>
<path d="M372,0L372,-560Q330,-520 262,-480Q195,-440 141,-420L141,-505Q238,-551 310,-616Q383,-681 413,-716L462,-716L462,0Z" transform="translate(24.61,169.60) scale(0.01340,0.01340)" fill="#2a2a2a" stroke="#2a2a2a" stroke-width="0.5" vector-effect="non-scaling-stroke"/>
<text transform="translate(33.91,169.60) scale(0.920,1)" font-size="13.4" style="font-family:&quot;Liberation Sans&quot;,sans-serif;font-weight:normal" fill="#2a2a2a" stroke="#2a2a2a" stroke-width="0.5">0</text>
<text transform="translate(41.28,159.80) scale(0.920,1)" font-size="13.4" style="font-family:&quot;Liberation Sans&quot;,sans-serif;font-weight:normal" fill="#2a2a2a" stroke="#2a2a2a" stroke-width="0.5">2</text>
<path d="M372,0L372,-560Q330,-520 262,-480Q195,-440 141,-420L141,-505Q238,-551 310,-616Q383,-681 413,-716L462,-716L462,0Z" transform="translate(24.61,236.70) scale(0.01340,0.01340)" fill="#2a2a2a" stroke="#2a2a2a" stroke-width="0.5" vector-effect="non-scaling-stroke"/>
<text transform="translate(33.91,236.70) scale(0.920,1)" font-size="13.4" style="font-family:&quot;Liberation Sans&quot;,sans-serif;font-weight:normal" fill="#2a2a2a" stroke="#2a2a2a" stroke-width="0.5">0</text>
<path d="M372,0L372,-560Q330,-520 262,-480Q195,-440 141,-420L141,-505Q238,-551 310,-616Q383,-681 413,-716L462,-716L462,0Z" transform="translate(40.01,226.90) scale(0.01340,0.01340)" fill="#2a2a2a" stroke="#2a2a2a" stroke-width="0.5" vector-effect="non-scaling-stroke"/>
<path d="M372,0L372,-560Q330,-520 262,-480Q195,-440 141,-420L141,-505Q238,-551 310,-616Q383,-681 413,-716L462,-716L462,0Z" transform="translate(24.61,300.00) scale(0.01340,0.01340)" fill="#2a2a2a" stroke="#2a2a2a" stroke-width="0.5" vector-effect="non-scaling-stroke"/>
<text transform="translate(33.91,300.00) scale(0.920,1)" font-size="13.4" style="font-family:&quot;Liberation Sans&quot;,sans-serif;font-weight:normal" fill="#2a2a2a" stroke="#2a2a2a" stroke-width="0.5">0</text>
<text transform="translate(41.41,290.20) scale(0.920,1)" font-size="13.4" style="font-family:&quot;Liberation Sans&quot;,sans-serif;font-weight:normal" fill="#2a2a2a" stroke="#2a2a2a" stroke-width="0.5">0</text>
<path d="M372,0L372,-560Q330,-520 262,-480Q195,-440 141,-420L141,-505Q238,-551 310,-616Q383,-681 413,-716L462,-716L462,0Z" transform="translate(429.31,330.00) scale(0.01340,0.01340)" fill="#2a2a2a" stroke="#2a2a2a" stroke-width="0.5" vector-effect="non-scaling-stroke"/>
<text transform="translate(438.61,330.00) scale(0.920,1)" font-size="13.4" style="font-family:&quot;Liberation Sans&quot;,sans-serif;font-weight:normal" fill="#2a2a2a" stroke="#2a2a2a" stroke-width="0.5">0</text>
<text transform="translate(445.01,320.50) scale(0.920,1)" font-size="13.4" style="font-family:&quot;Liberation Sans&quot;,sans-serif;font-weight:normal" fill="#2a2a2a" stroke="#2a2a2a" stroke-width="0.5">0</text>
<path d="M372,0L372,-560Q330,-520 262,-480Q195,-440 141,-420L141,-505Q238,-551 310,-616Q383,-681 413,-716L462,-716L462,0Z" transform="translate(487.01,330.00) scale(0.01340,0.01340)" fill="#2a2a2a" stroke="#2a2a2a" stroke-width="0.5" vector-effect="non-scaling-stroke"/>
<text transform="translate(496.31,330.00) scale(0.920,1)" font-size="13.4" style="font-family:&quot;Liberation Sans&quot;,sans-serif;font-weight:normal" fill="#2a2a2a" stroke="#2a2a2a" stroke-width="0.5">0</text>
<path d="M372,0L372,-560Q330,-520 262,-480Q195,-440 141,-420L141,-505Q238,-551 310,-616Q383,-681 413,-716L462,-716L462,0Z" transform="translate(502.31,320.50) scale(0.01340,0.01340)" fill="#2a2a2a" stroke="#2a2a2a" stroke-width="0.5" vector-effect="non-scaling-stroke"/>
<path d="M372,0L372,-560Q330,-520 262,-480Q195,-440 141,-420L141,-505Q238,-551 310,-616Q383,-681 413,-716L462,-716L462,0Z" transform="translate(553.31,330.00) scale(0.01340,0.01340)" fill="#2a2a2a" stroke="#2a2a2a" stroke-width="0.5" vector-effect="non-scaling-stroke"/>
<text transform="translate(562.61,330.00) scale(0.920,1)" font-size="13.4" style="font-family:&quot;Liberation Sans&quot;,sans-serif;font-weight:normal" fill="#2a2a2a" stroke="#2a2a2a" stroke-width="0.5">0</text>
<text transform="translate(569.38,320.50) scale(0.920,1)" font-size="13.4" style="font-family:&quot;Liberation Sans&quot;,sans-serif;font-weight:normal" fill="#2a2a2a" stroke="#2a2a2a" stroke-width="0.5">2</text>
<path d="M372,0L372,-560Q330,-520 262,-480Q195,-440 141,-420L141,-505Q238,-551 310,-616Q383,-681 413,-716L462,-716L462,0Z" transform="translate(617.41,330.00) scale(0.01340,0.01340)" fill="#2a2a2a" stroke="#2a2a2a" stroke-width="0.5" vector-effect="non-scaling-stroke"/>
<text transform="translate(626.71,330.00) scale(0.920,1)" font-size="13.4" style="font-family:&quot;Liberation Sans&quot;,sans-serif;font-weight:normal" fill="#2a2a2a" stroke="#2a2a2a" stroke-width="0.5">0</text>
<text transform="translate(633.81,320.50) scale(0.920,1)" font-size="13.4" style="font-family:&quot;Liberation Sans&quot;,sans-serif;font-weight:normal" fill="#2a2a2a" stroke="#2a2a2a" stroke-width="0.5">3</text>
<path d="M372,0L372,-560Q330,-520 262,-480Q195,-440 141,-420L141,-505Q238,-551 310,-616Q383,-681 413,-716L462,-716L462,0Z" transform="translate(683.81,330.00) scale(0.01340,0.01340)" fill="#2a2a2a" stroke="#2a2a2a" stroke-width="0.5" vector-effect="non-scaling-stroke"/>
<text transform="translate(693.11,330.00) scale(0.920,1)" font-size="13.4" style="font-family:&quot;Liberation Sans&quot;,sans-serif;font-weight:normal" fill="#2a2a2a" stroke="#2a2a2a" stroke-width="0.5">0</text>
<text transform="translate(699.75,320.50) scale(0.920,1)" font-size="13.4" style="font-family:&quot;Liberation Sans&quot;,sans-serif;font-weight:normal" fill="#2a2a2a" stroke="#2a2a2a" stroke-width="0.5">4</text>
<path d="M372,0L372,-560Q330,-520 262,-480Q195,-440 141,-420L141,-505Q238,-551 310,-616Q383,-681 413,-716L462,-716L462,0Z" transform="translate(388.91,50.60) scale(0.01340,0.01340)" fill="#2a2a2a" stroke="#2a2a2a" stroke-width="0.5" vector-effect="non-scaling-stroke"/>
<text transform="translate(398.21,50.60) scale(0.920,1)" font-size="13.4" style="font-family:&quot;Liberation Sans&quot;,sans-serif;font-weight:normal" fill="#2a2a2a" stroke="#2a2a2a" stroke-width="0.5">0</text>
<text transform="translate(405.75,40.80) scale(0.920,1)" font-size="13.4" style="font-family:&quot;Liberation Sans&quot;,sans-serif;font-weight:normal" fill="#2a2a2a" stroke="#2a2a2a" stroke-width="0.5">4</text>
<path d="M372,0L372,-560Q330,-520 262,-480Q195,-440 141,-420L141,-505Q238,-551 310,-616Q383,-681 413,-716L462,-716L462,0Z" transform="translate(388.91,100.10) scale(0.01340,0.01340)" fill="#2a2a2a" stroke="#2a2a2a" stroke-width="0.5" vector-effect="non-scaling-stroke"/>
<text transform="translate(398.21,100.10) scale(0.920,1)" font-size="13.4" style="font-family:&quot;Liberation Sans&quot;,sans-serif;font-weight:normal" fill="#2a2a2a" stroke="#2a2a2a" stroke-width="0.5">0</text>
<text transform="translate(405.51,90.30) scale(0.920,1)" font-size="13.4" style="font-family:&quot;Liberation Sans&quot;,sans-serif;font-weight:normal" fill="#2a2a2a" stroke="#2a2a2a" stroke-width="0.5">3</text>
<path d="M372,0L372,-560Q330,-520 262,-480Q195,-440 141,-420L141,-505Q238,-551 310,-616Q383,-681 413,-716L462,-716L462,0Z" transform="translate(388.91,168.60) scale(0.01340,0.01340)" fill="#2a2a2a" stroke="#2a2a2a" stroke-width="0.5" vector-effect="non-scaling-stroke"/>
<text transform="translate(398.21,168.60) scale(0.920,1)" font-size="13.4" style="font-family:&quot;Liberation Sans&quot;,sans-serif;font-weight:normal" fill="#2a2a2a" stroke="#2a2a2a" stroke-width="0.5">0</text>
<text transform="translate(405.38,158.80) scale(0.920,1)" font-size="13.4" style="font-family:&quot;Liberation Sans&quot;,sans-serif;font-weight:normal" fill="#2a2a2a" stroke="#2a2a2a" stroke-width="0.5">2</text>
<path d="M372,0L372,-560Q330,-520 262,-480Q195,-440 141,-420L141,-505Q238,-551 310,-616Q383,-681 413,-716L462,-716L462,0Z" transform="translate(389.51,238.70) scale(0.01340,0.01340)" fill="#2a2a2a" stroke="#2a2a2a" stroke-width="0.5" vector-effect="non-scaling-stroke"/>
<text transform="translate(398.81,238.70) scale(0.920,1)" font-size="13.4" style="font-family:&quot;Liberation Sans&quot;,sans-serif;font-weight:normal" fill="#2a2a2a" stroke="#2a2a2a" stroke-width="0.5">0</text>
<path d="M372,0L372,-560Q330,-520 262,-480Q195,-440 141,-420L141,-505Q238,-551 310,-616Q383,-681 413,-716L462,-716L462,0Z" transform="translate(404.71,228.90) scale(0.01340,0.01340)" fill="#2a2a2a" stroke="#2a2a2a" stroke-width="0.5" vector-effect="non-scaling-stroke"/>
<path d="M372,0L372,-560Q330,-520 262,-480Q195,-440 141,-420L141,-505Q238,-551 310,-616Q383,-681 413,-716L462,-716L462,0Z" transform="translate(389.51,302.50) scale(0.01340,0.01340)" fill="#2a2a2a" stroke="#2a2a2a" stroke-width="0.5" vector-effect="non-scaling-stroke"/>
<text transform="translate(398.81,302.50) scale(0.920,1)" font-size="13.4" style="font-family:&quot;Liberation Sans&quot;,sans-serif;font-weight:normal" fill="#2a2a2a" stroke="#2a2a2a" stroke-width="0.5">0</text>
<text transform="translate(406.11,292.70) scale(0.920,1)" font-size="13.4" style="font-family:&quot;Liberation Sans&quot;,sans-serif;font-weight:normal" fill="#2a2a2a" stroke="#2a2a2a" stroke-width="0.5">0</text>
<path d="M372,0L372,-560Q330,-520 262,-480Q195,-440 141,-420L141,-505Q238,-551 310,-616Q383,-681 413,-716L462,-716L462,0Z" transform="translate(67.61,700.00) scale(0.01340,0.01340)" fill="#2a2a2a" stroke="#2a2a2a" stroke-width="0.5" vector-effect="non-scaling-stroke"/>
<text transform="translate(76.91,700.00) scale(0.920,1)" font-size="13.4" style="font-family:&quot;Liberation Sans&quot;,sans-serif;font-weight:normal" fill="#2a2a2a" stroke="#2a2a2a" stroke-width="0.5">0</text>
<text transform="translate(84.91,690.30) scale(0.920,1)" font-size="13.4" style="font-family:&quot;Liberation Sans&quot;,sans-serif;font-weight:normal" fill="#2a2a2a" stroke="#2a2a2a" stroke-width="0.5">0</text>
<path d="M372,0L372,-560Q330,-520 262,-480Q195,-440 141,-420L141,-505Q238,-551 310,-616Q383,-681 413,-716L462,-716L462,0Z" transform="translate(128.61,700.00) scale(0.01340,0.01340)" fill="#2a2a2a" stroke="#2a2a2a" stroke-width="0.5" vector-effect="non-scaling-stroke"/>
<text transform="translate(137.91,700.00) scale(0.920,1)" font-size="13.4" style="font-family:&quot;Liberation Sans&quot;,sans-serif;font-weight:normal" fill="#2a2a2a" stroke="#2a2a2a" stroke-width="0.5">0</text>
<path d="M372,0L372,-560Q330,-520 262,-480Q195,-440 141,-420L141,-505Q238,-551 310,-616Q383,-681 413,-716L462,-716L462,0Z" transform="translate(143.31,690.30) scale(0.01340,0.01340)" fill="#2a2a2a" stroke="#2a2a2a" stroke-width="0.5" vector-effect="non-scaling-stroke"/>
<path d="M372,0L372,-560Q330,-520 262,-480Q195,-440 141,-420L141,-505Q238,-551 310,-616Q383,-681 413,-716L462,-716L462,0Z" transform="translate(197.51,700.00) scale(0.01340,0.01340)" fill="#2a2a2a" stroke="#2a2a2a" stroke-width="0.5" vector-effect="non-scaling-stroke"/>
<text transform="translate(206.81,700.00) scale(0.920,1)" font-size="13.4" style="font-family:&quot;Liberation Sans&quot;,sans-serif;font-weight:normal" fill="#2a2a2a" stroke="#2a2a2a" stroke-width="0.5">0</text>
<text transform="translate(214.68,690.30) scale(0.920,1)" font-size="13.4" style="font-family:&quot;Liberation Sans&quot;,sans-serif;font-weight:normal" fill="#2a2a2a" stroke="#2a2a2a" stroke-width="0.5">2</text>
<path d="M372,0L372,-560Q330,-520 262,-480Q195,-440 141,-420L141,-505Q238,-551 310,-616Q383,-681 413,-716L462,-716L462,0Z" transform="translate(263.61,700.00) scale(0.01340,0.01340)" fill="#2a2a2a" stroke="#2a2a2a" stroke-width="0.5" vector-effect="non-scaling-stroke"/>
<text transform="translate(272.91,700.00) scale(0.920,1)" font-size="13.4" style="font-family:&quot;Liberation Sans&quot;,sans-serif;font-weight:normal" fill="#2a2a2a" stroke="#2a2a2a" stroke-width="0.5">0</text>
<text transform="translate(280.11,690.30) scale(0.920,1)" font-size="13.4" style="font-family:&quot;Liberation Sans&quot;,sans-serif;font-weight:normal" fill="#2a2a2a" stroke="#2a2a2a" stroke-width="0.5">3</text>
<path d="M372,0L372,-560Q330,-520 262,-480Q195,-440 141,-420L141,-505Q238,-551 310,-616Q383,-681 413,-716L462,-716L462,0Z" transform="translate(332.21,700.00) scale(0.01340,0.01340)" fill="#2a2a2a" stroke="#2a2a2a" stroke-width="0.5" vector-effect="non-scaling-stroke"/>
<text transform="translate(341.51,700.00) scale(0.920,1)" font-size="13.4" style="font-family:&quot;Liberation Sans&quot;,sans-serif;font-weight:normal" fill="#2a2a2a" stroke="#2a2a2a" stroke-width="0.5">0</text>
<text transform="translate(348.95,690.30) scale(0.920,1)" font-size="13.4" style="font-family:&quot;Liberation Sans&quot;,sans-serif;font-weight:normal" fill="#2a2a2a" stroke="#2a2a2a" stroke-width="0.5">4</text>
<path d="M372,0L372,-560Q330,-520 262,-480Q195,-440 141,-420L141,-505Q238,-551 310,-616Q383,-681 413,-716L462,-716L462,0Z" transform="translate(27.51,424.50) scale(0.01340,0.01340)" fill="#2a2a2a" stroke="#2a2a2a" stroke-width="0.5" vector-effect="non-scaling-stroke"/>
<text transform="translate(36.81,424.50) scale(0.920,1)" font-size="13.4" style="font-family:&quot;Liberation Sans&quot;,sans-serif;font-weight:normal" fill="#2a2a2a" stroke="#2a2a2a" stroke-width="0.5">0</text>
<text transform="translate(45.65,414.70) scale(0.920,1)" font-size="13.4" style="font-family:&quot;Liberation Sans&quot;,sans-serif;font-weight:normal" fill="#2a2a2a" stroke="#2a2a2a" stroke-width="0.5">4</text>
<path d="M372,0L372,-560Q330,-520 262,-480Q195,-440 141,-420L141,-505Q238,-551 310,-616Q383,-681 413,-716L462,-716L462,0Z" transform="translate(27.51,474.60) scale(0.01340,0.01340)" fill="#2a2a2a" stroke="#2a2a2a" stroke-width="0.5" vector-effect="non-scaling-stroke"/>
<text transform="translate(36.81,474.60) scale(0.920,1)" font-size="13.4" style="font-family:&quot;Liberation Sans&quot;,sans-serif;font-weight:normal" fill="#2a2a2a" stroke="#2a2a2a" stroke-width="0.5">0</text>
<text transform="translate(45.41,464.80) scale(0.920,1)" font-size="13.4" style="font-family:&quot;Liberation Sans&quot;,sans-serif;font-weight:normal" fill="#2a2a2a" stroke="#2a2a2a" stroke-width="0.5">3</text>
<path d="M372,0L372,-560Q330,-520 262,-480Q195,-440 141,-420L141,-505Q238,-551 310,-616Q383,-681 413,-716L462,-716L462,0Z" transform="translate(27.51,537.00) scale(0.01340,0.01340)" fill="#2a2a2a" stroke="#2a2a2a" stroke-width="0.5" vector-effect="non-scaling-stroke"/>
<text transform="translate(36.81,537.00) scale(0.920,1)" font-size="13.4" style="font-family:&quot;Liberation Sans&quot;,sans-serif;font-weight:normal" fill="#2a2a2a" stroke="#2a2a2a" stroke-width="0.5">0</text>
<text transform="translate(45.28,527.20) scale(0.920,1)" font-size="13.4" style="font-family:&quot;Liberation Sans&quot;,sans-serif;font-weight:normal" fill="#2a2a2a" stroke="#2a2a2a" stroke-width="0.5">2</text>
<path d="M372,0L372,-560Q330,-520 262,-480Q195,-440 141,-420L141,-505Q238,-551 310,-616Q383,-681 413,-716L462,-716L462,0Z" transform="translate(27.51,609.00) scale(0.01340,0.01340)" fill="#2a2a2a" stroke="#2a2a2a" stroke-width="0.5" vector-effect="non-scaling-stroke"/>
<text transform="translate(36.81,609.00) scale(0.920,1)" font-size="13.4" style="font-family:&quot;Liberation Sans&quot;,sans-serif;font-weight:normal" fill="#2a2a2a" stroke="#2a2a2a" stroke-width="0.5">0</text>
<path d="M372,0L372,-560Q330,-520 262,-480Q195,-440 141,-420L141,-505Q238,-551 310,-616Q383,-681 413,-716L462,-716L462,0Z" transform="translate(42.91,599.20) scale(0.01340,0.01340)" fill="#2a2a2a" stroke="#2a2a2a" stroke-width="0.5" vector-effect="non-scaling-stroke"/>
<path d="M372,0L372,-560Q330,-520 262,-480Q195,-440 141,-420L141,-505Q238,-551 310,-616Q383,-681 413,-716L462,-716L462,0Z" transform="translate(27.51,672.00) scale(0.01340,0.01340)" fill="#2a2a2a" stroke="#2a2a2a" stroke-width="0.5" vector-effect="non-scaling-stroke"/>
<text transform="translate(36.81,672.00) scale(0.920,1)" font-size="13.4" style="font-family:&quot;Liberation Sans&quot;,sans-serif;font-weight:normal" fill="#2a2a2a" stroke="#2a2a2a" stroke-width="0.5">0</text>
<text transform="translate(44.71,662.30) scale(0.920,1)" font-size="13.4" style="font-family:&quot;Liberation Sans&quot;,sans-serif;font-weight:normal" fill="#2a2a2a" stroke="#2a2a2a" stroke-width="0.5">0</text>
<text transform="translate(158.14,21.50) scale(1.059,1)" font-size="20.2" style="font-family:&quot;Liberation Serif&quot;,serif;font-weight:normal" fill="#000" stroke="#000" stroke-width="0.7">Control</text>
<text transform="translate(532.89,21.50) scale(0.999,1)" font-size="20.2" style="font-family:&quot;Liberation Serif&quot;,serif;font-weight:normal" fill="#000" stroke="#000" stroke-width="0.7">IL-6</text>
<text transform="translate(173.60,394.60) scale(1.008,1)" font-size="20.2" style="font-family:&quot;Liberation Serif&quot;,serif;font-weight:normal" fill="#000" stroke="#000" stroke-width="0.7">ADP</text>
<text transform="translate(143.95,346.80) scale(1.086,1)" font-size="19.8" style="font-family:&quot;Liberation Serif&quot;,serif;font-weight:normal" fill="#000" stroke="#000" stroke-width="0.55">FSC-Height</text>
<text transform="translate(515.59,348.30) scale(1.030,1)" font-size="19.8" style="font-family:&quot;Liberation Serif&quot;,serif;font-weight:normal" fill="#000" stroke="#000" stroke-width="0.55">FSC-Height</text>
<text transform="translate(143.96,718.00) scale(1.074,1)" font-size="19.8" style="font-family:&quot;Liberation Serif&quot;,serif;font-weight:normal" fill="#000" stroke="#000" stroke-width="0.55">FSC-Height</text>
<text transform="translate(20.60,215.64) rotate(-90) scale(1.041,1)" font-size="19.8" style="font-family:&quot;Liberation Serif&quot;,serif;font-weight:normal" fill="#000" stroke="#000" stroke-width="0.55">SSC-Height</text>
<text transform="translate(387.60,218.94) rotate(-90) scale(1.044,1)" font-size="19.8" style="font-family:&quot;Liberation Serif&quot;,serif;font-weight:normal" fill="#000" stroke="#000" stroke-width="0.55">SSC-Height</text>
<text transform="translate(25.80,598.12) rotate(-90) scale(1.027,1)" font-size="19.8" style="font-family:&quot;Liberation Serif&quot;,serif;font-weight:normal" fill="#000" stroke="#000" stroke-width="0.55">SSC-Height</text>
<defs><linearGradient id="bg" x1="0" x2="1" y1="0" y2="0">
<stop offset="0" stop-color="#4a4482"/><stop offset="0.12" stop-color="#6a62b0"/><stop offset="0.3" stop-color="#9088d6"/>
<stop offset="0.5" stop-color="#a8a0de"/><stop offset="0.68" stop-color="#9a90dc"/><stop offset="0.8" stop-color="#7e72c8"/>
<stop offset="0.92" stop-color="#5a5098"/><stop offset="1" stop-color="#433c74"/></linearGradient></defs>
<rect x="461.1" y="608.8" width="35.9" height="56.5" fill="url(#bg)"/>
<path d="M461.1 609.3H497.0" stroke="#4a4480" stroke-width="1"/>
<path d="M479.5 608.8V569.7M476.9 569.7h5.2" stroke="#1a1a1a" stroke-width="1.2" fill="none"/>
<rect x="552.2" y="502.5" width="36.0" height="162.8" fill="url(#bg)"/>
<path d="M552.2 503.0H588.2" stroke="#4a4480" stroke-width="1"/>
<path d="M570.5 502.5V460.8M567.9 460.8h5.2" stroke="#1a1a1a" stroke-width="1.2" fill="none"/>
<rect x="643.4" y="518.0" width="36.4" height="147.3" fill="url(#bg)"/>
<path d="M643.4 518.5H679.8" stroke="#4a4480" stroke-width="1"/>
<path d="M662.5 518.0V469.9M659.9 469.9h5.2" stroke="#1a1a1a" stroke-width="1.2" fill="none"/>
<path d="M433.6 439.2V666.3M432.8 665.3H707.5" stroke="#000" stroke-width="1.8" fill="none"/>
<path d="M433.6 665.5h4.4M433.6 640.4h4.4M433.6 615.3h4.4M433.6 590.3h4.4M433.6 565.2h4.4M433.6 540.1h4.4M433.6 515.0h4.4M433.6 489.9h4.4M433.6 464.9h4.4M433.6 439.8h4.4M524.2 665.3v-5.5M616.3 665.3v-5.5M706.6 665.3v-5.5" stroke="#000" stroke-width="1.5" fill="none"/>
<text transform="translate(408.88,670.70) scale(0.920,1)" font-size="15.2" style="font-family:&quot;Liberation Serif&quot;,serif;font-weight:bold" fill="#000">80</text>
<text transform="translate(408.81,645.62) scale(0.920,1)" font-size="15.2" style="font-family:&quot;Liberation Serif&quot;,serif;font-weight:bold" fill="#000">85</text>
<text transform="translate(408.88,620.54) scale(0.920,1)" font-size="15.2" style="font-family:&quot;Liberation Serif&quot;,serif;font-weight:bold" fill="#000">90</text>
<text transform="translate(408.81,595.46) scale(0.920,1)" font-size="15.2" style="font-family:&quot;Liberation Serif&quot;,serif;font-weight:bold" fill="#000">95</text>
<text transform="translate(401.88,570.38) scale(0.920,1)" font-size="15.2" style="font-family:&quot;Liberation Serif&quot;,serif;font-weight:bold" fill="#000">100</text>
<text transform="translate(401.81,545.30) scale(0.920,1)" font-size="15.2" style="font-family:&quot;Liberation Serif&quot;,serif;font-weight:bold" fill="#000">105</text>
<text transform="translate(402.65,520.22) scale(0.920,1)" font-size="15.2" style="font-family:&quot;Liberation Serif&quot;,serif;font-weight:bold" fill="#000">110</text>
<text transform="translate(402.58,495.14) scale(0.920,1)" font-size="15.2" style="font-family:&quot;Liberation Serif&quot;,serif;font-weight:bold" fill="#000">115</text>
<text transform="translate(401.88,470.06) scale(0.920,1)" font-size="15.2" style="font-family:&quot;Liberation Serif&quot;,serif;font-weight:bold" fill="#000">120</text>
<text transform="translate(401.81,444.98) scale(0.920,1)" font-size="15.2" style="font-family:&quot;Liberation Serif&quot;,serif;font-weight:bold" fill="#000">125</text>
<text transform="translate(567.71,459.13) scale(0.675,1)" font-size="18" style="font-family:&quot;Liberation Serif&quot;,serif;font-weight:bold" fill="#000" stroke="#000" stroke-width="0.5">*</text>
<text transform="translate(660.11,468.93) scale(0.675,1)" font-size="18" style="font-family:&quot;Liberation Serif&quot;,serif;font-weight:bold" fill="#000" stroke="#000" stroke-width="0.5">*</text>
<text transform="translate(455.71,690.80) scale(0.965,1)" font-size="14.3" style="font-family:&quot;Liberation Serif&quot;,serif;font-weight:bold" fill="#000">Control</text>
<text transform="translate(531.72,691.00) scale(0.965,1)" font-size="14.3" style="font-family:&quot;Liberation Serif&quot;,serif;font-weight:bold" fill="#000">IL-6(1μg/ml)</text>
<text transform="translate(626.06,691.00) scale(0.946,1)" font-size="14.3" style="font-family:&quot;Liberation Serif&quot;,serif;font-weight:bold" fill="#000">ADP(10μM)</text>
<text transform="translate(385.40,614.86) rotate(-90) scale(1.197,1)" font-size="14.3" style="font-family:&quot;Liberation Serif&quot;,serif;font-weight:bold" fill="#000">MFI of CD41a PE-cy5</text>
<text transform="translate(401.00,570.14) rotate(-90) scale(1.184,1)" font-size="14.3" style="font-family:&quot;Liberation Serif&quot;,serif;font-weight:bold" fill="#000">in M gates</text>
</g>
</svg></body></html>
